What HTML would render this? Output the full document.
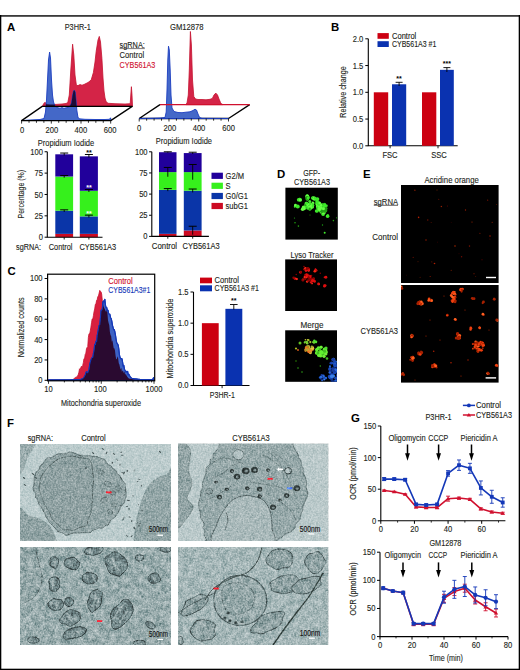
<!DOCTYPE html>
<html><head><meta charset="utf-8"><style>
html,body{margin:0;padding:0;background:#fff;}
svg{display:block;font-family:"Liberation Sans",sans-serif;}
</style></head><body>
<svg width="520" height="670" viewBox="0 0 520 670" font-family="Liberation Sans, sans-serif">
<rect width="520" height="670" fill="#fff"/>
<rect x="0.00" y="15.00" width="520.00" height="1.80" fill="#3a3a3a"/>
<rect x="0.00" y="15.00" width="1.30" height="655.00" fill="#000"/>
<rect x="518.70" y="15.00" width="1.30" height="655.00" fill="#000"/>
<rect x="0.00" y="668.70" width="520.00" height="1.30" fill="#000"/>
<text x="6.9" y="30.58" font-size="11.4" text-anchor="start" fill="#000" font-weight="bold" >A</text>
<text x="331" y="30.58" font-size="11.4" text-anchor="start" fill="#000" font-weight="bold" >B</text>
<text x="7.4" y="274.68" font-size="11.4" text-anchor="start" fill="#000" font-weight="bold" >C</text>
<text x="277" y="177.88" font-size="11.4" text-anchor="start" fill="#000" font-weight="bold" >D</text>
<text x="363" y="177.88" font-size="11.4" text-anchor="start" fill="#000" font-weight="bold" >E</text>
<text x="7" y="427.18" font-size="11.4" text-anchor="start" fill="#000" font-weight="bold" >F</text>
<text x="351" y="421.88" font-size="11.4" text-anchor="start" fill="#000" font-weight="bold" >G</text>
<defs><clipPath id="cpRA"><path d="M42.50,106.20 L43.50,104.00 L45.00,102.20 L46.50,104.30 L50.00,104.60 L56.00,104.40 L62.00,104.00 L66.00,103.50 L67.80,102.50 L69.30,95.00 L70.80,70.00 L72.60,44.20 L73.80,55.00 L75.00,75.00 L76.40,85.30 L78.00,85.60 L80.00,84.60 L82.00,85.20 L84.00,84.50 L86.00,83.50 L88.00,82.50 L90.00,81.00 L91.30,79.60 L93.40,72.50 L95.00,62.00 L96.20,51.30 L98.00,40.00 L99.30,36.40 L100.50,42.00 L101.90,58.30 L103.00,78.00 L104.00,91.00 L105.00,98.00 L106.10,101.60 L108.00,103.30 L115.00,103.70 L125.00,104.00 L130.20,103.70 L130.80,95.00 L131.40,86.70 L132.00,95.00 L132.50,106.20 Z"/></clipPath><clipPath id="cpRG"><path d="M185,104.6 L186,104.6 L300,104.6 L300,0 L185,0Z"/></clipPath></defs>
<path d="M42.50,106.20 L43.50,104.00 L45.00,102.20 L46.50,104.30 L50.00,104.60 L56.00,104.40 L62.00,104.00 L66.00,103.50 L67.80,102.50 L69.30,95.00 L70.80,70.00 L72.60,44.20 L73.80,55.00 L75.00,75.00 L76.40,85.30 L78.00,85.60 L80.00,84.60 L82.00,85.20 L84.00,84.50 L86.00,83.50 L88.00,82.50 L90.00,81.00 L91.30,79.60 L93.40,72.50 L95.00,62.00 L96.20,51.30 L98.00,40.00 L99.30,36.40 L100.50,42.00 L101.90,58.30 L103.00,78.00 L104.00,91.00 L105.00,98.00 L106.10,101.60 L108.00,103.30 L115.00,103.70 L125.00,104.00 L130.20,103.70 L130.80,95.00 L131.40,86.70 L132.00,95.00 L132.50,106.20 Z" fill="#d42447" stroke="#c4122f" stroke-width="0.8" stroke-linejoin="round"/>
<path d="M21.60,120.50 L30.00,120.00 L40.00,119.50 L44.00,118.50 L45.50,112.00 L46.50,100.00 L47.50,80.00 L48.50,60.00 L49.60,52.10 L50.50,58.00 L51.50,80.00 L52.50,95.00 L53.50,102.00 L55.00,106.00 L57.00,107.50 L60.00,108.20 L62.00,107.60 L64.00,108.30 L66.00,107.80 L68.00,107.50 L70.00,106.00 L71.50,103.00 L72.50,96.00 L73.50,91.00 L74.30,90.20 L75.20,92.00 L76.00,100.00 L76.80,110.00 L77.90,117.00 L79.00,118.80 L85.00,119.30 L95.00,119.50 L105.00,119.50 L109.50,119.30 L110.50,117.80 L111.00,119.50 L111.10,120.50 Z" fill="#4468c8" stroke="#1a3cbf" stroke-width="0.9" stroke-linejoin="round"/>
<path d="M21.60,120.50 L30.00,120.00 L40.00,119.50 L44.00,118.50 L45.50,112.00 L46.50,100.00 L47.50,80.00 L48.50,60.00 L49.60,52.10 L50.50,58.00 L51.50,80.00 L52.50,95.00 L53.50,102.00 L55.00,106.00 L57.00,107.50 L60.00,108.20 L62.00,107.60 L64.00,108.30 L66.00,107.80 L68.00,107.50 L70.00,106.00 L71.50,103.00 L72.50,96.00 L73.50,91.00 L74.30,90.20 L75.20,92.00 L76.00,100.00 L76.80,110.00 L77.90,117.00 L79.00,118.80 L85.00,119.30 L95.00,119.50 L105.00,119.50 L109.50,119.30 L110.50,117.80 L111.00,119.50 L111.10,120.50 Z" fill="#1e0c38" clip-path="url(#cpRA)"/>
<path d="M21.6,120.6 L110.7,120.6 L132.2,106.4 L42.2,106.4 Z" fill="none" stroke="#000" stroke-width="1.3" stroke-linejoin="round"/>
<line x1="21.60" y1="120.6" x2="21.60" y2="123.6" stroke="#000" stroke-width="0.8"/>
<line x1="29.03" y1="120.6" x2="29.03" y2="122.8" stroke="#000" stroke-width="0.8"/>
<line x1="36.45" y1="120.6" x2="36.45" y2="122.8" stroke="#000" stroke-width="0.8"/>
<line x1="43.88" y1="120.6" x2="43.88" y2="122.8" stroke="#000" stroke-width="0.8"/>
<line x1="51.30" y1="120.6" x2="51.30" y2="123.6" stroke="#000" stroke-width="0.8"/>
<line x1="58.73" y1="120.6" x2="58.73" y2="122.8" stroke="#000" stroke-width="0.8"/>
<line x1="66.15" y1="120.6" x2="66.15" y2="122.8" stroke="#000" stroke-width="0.8"/>
<line x1="73.57" y1="120.6" x2="73.57" y2="122.8" stroke="#000" stroke-width="0.8"/>
<line x1="81.00" y1="120.6" x2="81.00" y2="123.6" stroke="#000" stroke-width="0.8"/>
<line x1="88.43" y1="120.6" x2="88.43" y2="122.8" stroke="#000" stroke-width="0.8"/>
<line x1="95.85" y1="120.6" x2="95.85" y2="122.8" stroke="#000" stroke-width="0.8"/>
<line x1="103.28" y1="120.6" x2="103.28" y2="122.8" stroke="#000" stroke-width="0.8"/>
<line x1="110.70" y1="120.6" x2="110.70" y2="123.6" stroke="#000" stroke-width="0.8"/>
<text x="22" y="133.09" font-size="8.36" text-anchor="middle" fill="#231f20" textLength="4.23" lengthAdjust="spacingAndGlyphs"  stroke="#231f20" stroke-width="0.12">0</text>
<text x="51.8" y="133.09" font-size="8.36" text-anchor="middle" fill="#231f20" textLength="12.68" lengthAdjust="spacingAndGlyphs"  stroke="#231f20" stroke-width="0.12">200</text>
<text x="80.8" y="133.09" font-size="8.36" text-anchor="middle" fill="#231f20" textLength="12.68" lengthAdjust="spacingAndGlyphs"  stroke="#231f20" stroke-width="0.12">400</text>
<text x="110.2" y="133.09" font-size="8.36" text-anchor="middle" fill="#231f20" textLength="12.68" lengthAdjust="spacingAndGlyphs"  stroke="#231f20" stroke-width="0.12">600</text>
<text x="66" y="146.19" font-size="9.46" text-anchor="middle" fill="#231f20" textLength="56.5" lengthAdjust="spacingAndGlyphs"  stroke="#231f20" stroke-width="0.12">Propidium Iodide</text>
<path d="M185.80,104.60 L187.00,103.00 L188.30,95.00 L189.30,70.00 L190.40,31.50 L191.40,45.00 L192.50,80.00 L193.80,96.50 L195.50,99.00 L198.00,99.50 L202.00,99.50 L206.00,99.80 L210.00,99.30 L212.30,98.50 L214.00,95.00 L215.80,93.10 L217.50,95.00 L219.00,99.00 L220.50,102.50 L221.50,104.00 L223.00,104.60 Z" fill="#d42447" stroke="#c4122f" stroke-width="0.8" stroke-linejoin="round"/>
<path d="M139.2,118.5 L228.5,118.5 L249.7,104.6 M160,104.6 L139.2,118.5" fill="none" stroke="#000" stroke-width="1.3" stroke-linejoin="round"/>
<path d="M139.20,118.50 L150.00,118.30 L160.00,118.00 L165.00,117.50 L166.20,112.00 L167.00,90.00 L167.80,60.00 L168.50,46.20 L169.30,50.00 L170.20,70.00 L171.00,95.00 L172.00,108.00 L174.00,111.50 L178.00,112.50 L182.00,112.70 L186.00,112.20 L190.00,111.80 L193.00,110.50 L195.00,109.20 L196.50,110.00 L198.00,114.00 L199.60,117.50 L202.00,118.30 L228.50,118.50 Z" fill="#4468c8" stroke="#1a3cbf" stroke-width="0.9" stroke-linejoin="round"/>
<line x1="160" y1="104.6" x2="249.7" y2="104.6" stroke="#d0102e" stroke-width="1.3"/>
<line x1="139.20" y1="118.5" x2="139.20" y2="121.5" stroke="#000" stroke-width="0.8"/>
<line x1="146.64" y1="118.5" x2="146.64" y2="120.7" stroke="#000" stroke-width="0.8"/>
<line x1="154.08" y1="118.5" x2="154.08" y2="120.7" stroke="#000" stroke-width="0.8"/>
<line x1="161.52" y1="118.5" x2="161.52" y2="120.7" stroke="#000" stroke-width="0.8"/>
<line x1="168.97" y1="118.5" x2="168.97" y2="121.5" stroke="#000" stroke-width="0.8"/>
<line x1="176.41" y1="118.5" x2="176.41" y2="120.7" stroke="#000" stroke-width="0.8"/>
<line x1="183.85" y1="118.5" x2="183.85" y2="120.7" stroke="#000" stroke-width="0.8"/>
<line x1="191.29" y1="118.5" x2="191.29" y2="120.7" stroke="#000" stroke-width="0.8"/>
<line x1="198.73" y1="118.5" x2="198.73" y2="121.5" stroke="#000" stroke-width="0.8"/>
<line x1="206.18" y1="118.5" x2="206.18" y2="120.7" stroke="#000" stroke-width="0.8"/>
<line x1="213.62" y1="118.5" x2="213.62" y2="120.7" stroke="#000" stroke-width="0.8"/>
<line x1="221.06" y1="118.5" x2="221.06" y2="120.7" stroke="#000" stroke-width="0.8"/>
<line x1="228.50" y1="118.5" x2="228.50" y2="121.5" stroke="#000" stroke-width="0.8"/>
<text x="139.2" y="130.99" font-size="8.36" text-anchor="middle" fill="#231f20" textLength="4.23" lengthAdjust="spacingAndGlyphs"  stroke="#231f20" stroke-width="0.12">0</text>
<text x="169.8" y="130.99" font-size="8.36" text-anchor="middle" fill="#231f20" textLength="12.68" lengthAdjust="spacingAndGlyphs"  stroke="#231f20" stroke-width="0.12">200</text>
<text x="199" y="130.99" font-size="8.36" text-anchor="middle" fill="#231f20" textLength="12.68" lengthAdjust="spacingAndGlyphs"  stroke="#231f20" stroke-width="0.12">400</text>
<text x="228.6" y="130.99" font-size="8.36" text-anchor="middle" fill="#231f20" textLength="12.68" lengthAdjust="spacingAndGlyphs"  stroke="#231f20" stroke-width="0.12">600</text>
<text x="183.9" y="144.09" font-size="9.46" text-anchor="middle" fill="#231f20" textLength="56.2" lengthAdjust="spacingAndGlyphs"  stroke="#231f20" stroke-width="0.12">Propidium Iodide</text>
<text x="64.7" y="29.99" font-size="8.36" text-anchor="start" fill="#231f20" textLength="26.1" lengthAdjust="spacingAndGlyphs"  stroke="#231f20" stroke-width="0.12">P3HR-1</text>
<text x="170" y="29.99" font-size="8.36" text-anchor="start" fill="#231f20" textLength="33.6" lengthAdjust="spacingAndGlyphs"  stroke="#231f20" stroke-width="0.12">GM12878</text>
<text x="119.6" y="48.31" font-size="8.14" text-anchor="start" fill="#231f20" textLength="25.2" lengthAdjust="spacingAndGlyphs"  stroke="#231f20" stroke-width="0.12">sgRNA:</text>
<line x1="119.6" y1="48.6" x2="144.8" y2="48.6" stroke="#231f20" stroke-width="0.6"/>
<text x="119.6" y="57.81" font-size="8.14" text-anchor="start" fill="#231f20" textLength="24.5" lengthAdjust="spacingAndGlyphs"  stroke="#231f20" stroke-width="0.12">Control</text>
<text x="119.6" y="67.61" font-size="8.14" text-anchor="start" fill="#d0102e" textLength="35.6" lengthAdjust="spacingAndGlyphs"  stroke="#d0102e" stroke-width="0.12">CYB561A3</text>
<rect x="55.30" y="233.87" width="17.80" height="3.33" fill="#cc0a22"/>
<rect x="55.30" y="210.71" width="17.80" height="23.16" fill="#0a35a8"/>
<rect x="55.30" y="176.53" width="17.80" height="34.18" fill="#36f01c"/>
<rect x="55.30" y="154.31" width="17.80" height="22.22" fill="#21009b"/>
<rect x="79.80" y="233.87" width="18.10" height="3.33" fill="#cc0a22"/>
<rect x="79.80" y="216.35" width="18.10" height="17.52" fill="#0a35a8"/>
<rect x="79.80" y="190.80" width="18.10" height="25.55" fill="#36f01c"/>
<rect x="79.80" y="156.36" width="18.10" height="34.44" fill="#21009b"/>
<line x1="64.2" y1="155.51349999999996" x2="64.2" y2="153.03175" stroke="#000" stroke-width="0.9"/>
<line x1="60.2" y1="153.03175" x2="68.2" y2="153.03175" stroke="#000" stroke-width="1"/>
<line x1="64.2" y1="177.73049999999998" x2="64.2" y2="175.5051" stroke="#000" stroke-width="0.9"/>
<line x1="60.2" y1="175.5051" x2="68.2" y2="175.5051" stroke="#000" stroke-width="1"/>
<line x1="64.2" y1="211.91049999999998" x2="64.2" y2="209.856" stroke="#000" stroke-width="0.9"/>
<line x1="60.2" y1="209.856" x2="68.2" y2="209.856" stroke="#000" stroke-width="1"/>
<line x1="88.9" y1="157.5643" x2="88.9" y2="154.4844" stroke="#000" stroke-width="0.9"/>
<line x1="84.9" y1="154.4844" x2="92.9" y2="154.4844" stroke="#000" stroke-width="1"/>
<line x1="88.9" y1="192.00064999999998" x2="88.9" y2="189.5189" stroke="#000" stroke-width="0.9"/>
<line x1="84.9" y1="189.5189" x2="92.9" y2="189.5189" stroke="#000" stroke-width="1"/>
<line x1="88.9" y1="217.5502" x2="88.9" y2="215.1539" stroke="#000" stroke-width="0.9"/>
<line x1="84.9" y1="215.1539" x2="92.9" y2="215.1539" stroke="#000" stroke-width="1"/>
<text x="88.9" y="154.91" font-size="7" text-anchor="middle" fill="#000" font-weight="bold" >**</text>
<text x="88.9" y="190.31" font-size="7" text-anchor="middle" fill="#fff" font-weight="bold" >**</text>
<text x="88.9" y="215.91" font-size="7" text-anchor="middle" fill="#fff" font-weight="bold" >**</text>
<path d="M47.3,151.75 L47.3,237.2 L102.5,237.2" fill="none" stroke="#000" stroke-width="1.1"/>
<line x1="44.6" y1="151.75" x2="47.3" y2="151.75" stroke="#000" stroke-width="1"/>
<line x1="44.6" y1="173.11" x2="47.3" y2="173.11" stroke="#000" stroke-width="1"/>
<line x1="44.6" y1="194.47" x2="47.3" y2="194.47" stroke="#000" stroke-width="1"/>
<line x1="44.6" y1="215.84" x2="47.3" y2="215.84" stroke="#000" stroke-width="1"/>
<line x1="44.6" y1="237.20" x2="47.3" y2="237.20" stroke="#000" stroke-width="1"/>
<text x="42.9" y="154.99" font-size="8.36" text-anchor="end" fill="#231f20" textLength="12.68" lengthAdjust="spacingAndGlyphs"  stroke="#231f20" stroke-width="0.12">100</text>
<text x="42.9" y="176.29" font-size="8.36" text-anchor="end" fill="#231f20" textLength="8.45" lengthAdjust="spacingAndGlyphs"  stroke="#231f20" stroke-width="0.12">75</text>
<text x="42.9" y="197.59" font-size="8.36" text-anchor="end" fill="#231f20" textLength="8.45" lengthAdjust="spacingAndGlyphs"  stroke="#231f20" stroke-width="0.12">50</text>
<text x="42.9" y="218.89" font-size="8.36" text-anchor="end" fill="#231f20" textLength="8.45" lengthAdjust="spacingAndGlyphs"  stroke="#231f20" stroke-width="0.12">25</text>
<text x="42.9" y="240.19" font-size="8.36" text-anchor="end" fill="#231f20" textLength="4.23" lengthAdjust="spacingAndGlyphs"  stroke="#231f20" stroke-width="0.12">0</text>
<line x1="64.2" y1="237.2" x2="64.2" y2="239.5" stroke="#000" stroke-width="0.9"/>
<line x1="88.9" y1="237.2" x2="88.9" y2="239.5" stroke="#000" stroke-width="0.9"/>
<text x="0" y="3.31" font-size="9.24" text-anchor="middle" fill="#231f20" textLength="48.6" lengthAdjust="spacingAndGlyphs" transform="translate(20.2,194.2) rotate(-90)"  stroke="#231f20" stroke-width="0.12">Percentage (%)</text>
<text x="16" y="249.59" font-size="8.36" text-anchor="start" fill="#231f20" textLength="25" lengthAdjust="spacingAndGlyphs"  stroke="#231f20" stroke-width="0.12">sgRNA:</text>
<text x="48.8" y="249.59" font-size="8.36" text-anchor="start" fill="#231f20" textLength="23.7" lengthAdjust="spacingAndGlyphs"  stroke="#231f20" stroke-width="0.12">Control</text>
<text x="79.5" y="249.59" font-size="8.36" text-anchor="start" fill="#231f20" textLength="36.7" lengthAdjust="spacingAndGlyphs"  stroke="#231f20" stroke-width="0.12">CYB561A3</text>
<rect x="159.00" y="233.86" width="17.50" height="2.54" fill="#cc0a22"/>
<rect x="159.00" y="189.87" width="17.50" height="43.99" fill="#0a35a8"/>
<rect x="159.00" y="172.10" width="17.50" height="17.77" fill="#36f01c"/>
<rect x="159.00" y="152.22" width="17.50" height="19.88" fill="#21009b"/>
<rect x="183.80" y="230.48" width="17.80" height="5.92" fill="#cc0a22"/>
<rect x="183.80" y="190.72" width="17.80" height="39.76" fill="#0a35a8"/>
<rect x="183.80" y="172.10" width="17.80" height="18.61" fill="#36f01c"/>
<rect x="183.80" y="153.07" width="17.80" height="19.04" fill="#21009b"/>
<line x1="167.8" y1="152.64600000000002" x2="167.8" y2="151.8" stroke="#000" stroke-width="0.9"/>
<line x1="163.8" y1="151.8" x2="171.8" y2="151.8" stroke="#000" stroke-width="1"/>
<line x1="167.8" y1="176.757" x2="167.8" y2="167.45100000000002" stroke="#000" stroke-width="0.9"/>
<line x1="163.8" y1="167.45100000000002" x2="171.8" y2="167.45100000000002" stroke="#000" stroke-width="1"/>
<line x1="167.8" y1="191.139" x2="167.8" y2="188.601" stroke="#000" stroke-width="0.9"/>
<line x1="163.8" y1="188.601" x2="171.8" y2="188.601" stroke="#000" stroke-width="1"/>
<line x1="192.7" y1="153.91500000000002" x2="192.7" y2="152.223" stroke="#000" stroke-width="0.9"/>
<line x1="188.7" y1="152.223" x2="196.7" y2="152.223" stroke="#000" stroke-width="1"/>
<line x1="192.7" y1="179.71800000000002" x2="192.7" y2="164.49" stroke="#000" stroke-width="0.9"/>
<line x1="188.7" y1="164.49" x2="196.7" y2="164.49" stroke="#000" stroke-width="1"/>
<line x1="192.7" y1="192.40800000000002" x2="192.7" y2="189.024" stroke="#000" stroke-width="0.9"/>
<line x1="188.7" y1="189.024" x2="196.7" y2="189.024" stroke="#000" stroke-width="1"/>
<line x1="192.7" y1="234.708" x2="192.7" y2="226.24800000000002" stroke="#000" stroke-width="0.9"/>
<line x1="188.7" y1="226.24800000000002" x2="196.7" y2="226.24800000000002" stroke="#000" stroke-width="1"/>
<path d="M151.8,151.8 L151.8,236.4 L208.9,236.4" fill="none" stroke="#000" stroke-width="1.1"/>
<line x1="149.1" y1="151.80" x2="151.8" y2="151.80" stroke="#000" stroke-width="1"/>
<line x1="149.1" y1="172.95" x2="151.8" y2="172.95" stroke="#000" stroke-width="1"/>
<line x1="149.1" y1="194.10" x2="151.8" y2="194.10" stroke="#000" stroke-width="1"/>
<line x1="149.1" y1="215.25" x2="151.8" y2="215.25" stroke="#000" stroke-width="1"/>
<line x1="149.1" y1="236.40" x2="151.8" y2="236.40" stroke="#000" stroke-width="1"/>
<text x="147.6" y="154.79" font-size="8.36" text-anchor="end" fill="#231f20" textLength="12.68" lengthAdjust="spacingAndGlyphs"  stroke="#231f20" stroke-width="0.12">100</text>
<text x="147.6" y="175.94" font-size="8.36" text-anchor="end" fill="#231f20" textLength="8.45" lengthAdjust="spacingAndGlyphs"  stroke="#231f20" stroke-width="0.12">75</text>
<text x="147.6" y="197.09" font-size="8.36" text-anchor="end" fill="#231f20" textLength="8.45" lengthAdjust="spacingAndGlyphs"  stroke="#231f20" stroke-width="0.12">50</text>
<text x="147.6" y="218.24" font-size="8.36" text-anchor="end" fill="#231f20" textLength="8.45" lengthAdjust="spacingAndGlyphs"  stroke="#231f20" stroke-width="0.12">25</text>
<text x="147.6" y="239.39" font-size="8.36" text-anchor="end" fill="#231f20" textLength="4.23" lengthAdjust="spacingAndGlyphs"  stroke="#231f20" stroke-width="0.12">0</text>
<line x1="167.8" y1="236.4" x2="167.8" y2="238.7" stroke="#000" stroke-width="0.9"/>
<line x1="192.7" y1="236.4" x2="192.7" y2="238.7" stroke="#000" stroke-width="0.9"/>
<text x="151.8" y="248.79" font-size="8.36" text-anchor="start" fill="#231f20" textLength="25.2" lengthAdjust="spacingAndGlyphs"  stroke="#231f20" stroke-width="0.12">Control</text>
<text x="182.5" y="248.79" font-size="8.36" text-anchor="start" fill="#231f20" textLength="37.1" lengthAdjust="spacingAndGlyphs"  stroke="#231f20" stroke-width="0.12">CYB561A3</text>
<rect x="211.50" y="172.70" width="11.40" height="6.20" fill="#21009b"/>
<text x="225.5" y="178.79" font-size="8.36" text-anchor="start" fill="#231f20" textLength="18.58" lengthAdjust="spacingAndGlyphs"  stroke="#231f20" stroke-width="0.12">G2/M</text>
<rect x="211.50" y="182.70" width="11.40" height="6.20" fill="#36f01c"/>
<text x="225.5" y="188.79" font-size="8.36" text-anchor="start" fill="#231f20" textLength="5.07" lengthAdjust="spacingAndGlyphs"  stroke="#231f20" stroke-width="0.12">S</text>
<rect x="211.50" y="192.90" width="11.40" height="6.20" fill="#0a35a8"/>
<text x="225.5" y="198.99" font-size="8.36" text-anchor="start" fill="#231f20" textLength="22.39" lengthAdjust="spacingAndGlyphs"  stroke="#231f20" stroke-width="0.12">G0/G1</text>
<rect x="211.50" y="202.90" width="11.40" height="6.20" fill="#cc0a22"/>
<text x="225.5" y="208.99" font-size="8.36" text-anchor="start" fill="#231f20" textLength="22.39" lengthAdjust="spacingAndGlyphs"  stroke="#231f20" stroke-width="0.12">subG1</text>
<path d="M368.3,38.8 L368.3,145.8 L457.7,145.8" fill="none" stroke="#000" stroke-width="1.1"/>
<line x1="365.3" y1="38.80" x2="368.3" y2="38.80" stroke="#000" stroke-width="1"/>
<text x="363.3" y="41.79" font-size="8.36" text-anchor="end" fill="#231f20" textLength="10.57" lengthAdjust="spacingAndGlyphs"  stroke="#231f20" stroke-width="0.12">2.0</text>
<line x1="365.3" y1="65.55" x2="368.3" y2="65.55" stroke="#000" stroke-width="1"/>
<text x="363.3" y="68.54" font-size="8.36" text-anchor="end" fill="#231f20" textLength="10.57" lengthAdjust="spacingAndGlyphs"  stroke="#231f20" stroke-width="0.12">1.5</text>
<line x1="365.3" y1="92.30" x2="368.3" y2="92.30" stroke="#000" stroke-width="1"/>
<text x="363.3" y="95.29" font-size="8.36" text-anchor="end" fill="#231f20" textLength="10.57" lengthAdjust="spacingAndGlyphs"  stroke="#231f20" stroke-width="0.12">1.0</text>
<line x1="365.3" y1="119.05" x2="368.3" y2="119.05" stroke="#000" stroke-width="1"/>
<text x="363.3" y="122.04" font-size="8.36" text-anchor="end" fill="#231f20" textLength="10.57" lengthAdjust="spacingAndGlyphs"  stroke="#231f20" stroke-width="0.12">0.5</text>
<line x1="365.3" y1="145.80" x2="368.3" y2="145.80" stroke="#000" stroke-width="1"/>
<text x="363.3" y="148.79" font-size="8.36" text-anchor="end" fill="#231f20" textLength="10.57" lengthAdjust="spacingAndGlyphs"  stroke="#231f20" stroke-width="0.12">0.0</text>
<rect x="373.80" y="92.30" width="14.40" height="53.50" fill="#cc0011"/>
<rect x="392.00" y="84.28" width="14.20" height="61.53" fill="#0a32b0"/>
<rect x="422.00" y="92.30" width="14.30" height="53.50" fill="#cc0011"/>
<rect x="440.00" y="69.83" width="13.80" height="75.97" fill="#0a32b0"/>
<line x1="399.1" y1="82.3" x2="399.1" y2="86" stroke="#000" stroke-width="0.9"/>
<line x1="395.6" y1="82.3" x2="402.6" y2="82.3" stroke="#000" stroke-width="0.9"/>
<line x1="446.9" y1="67.6" x2="446.9" y2="72" stroke="#000" stroke-width="0.9"/>
<line x1="443.4" y1="67.6" x2="450.4" y2="67.6" stroke="#000" stroke-width="0.9"/>
<text x="399.1" y="81.41" font-size="7" text-anchor="middle" fill="#000" font-weight="bold" >**</text>
<text x="446.9" y="66.41" font-size="7" text-anchor="middle" fill="#000" font-weight="bold" >***</text>
<line x1="390.1" y1="145.8" x2="390.1" y2="148.3" stroke="#000" stroke-width="0.9"/>
<line x1="438" y1="145.8" x2="438" y2="148.3" stroke="#000" stroke-width="0.9"/>
<text x="390" y="158.39" font-size="8.36" text-anchor="middle" fill="#231f20" textLength="15.2" lengthAdjust="spacingAndGlyphs"  stroke="#231f20" stroke-width="0.12">FSC</text>
<text x="439" y="158.39" font-size="8.36" text-anchor="middle" fill="#231f20" textLength="15.63" lengthAdjust="spacingAndGlyphs"  stroke="#231f20" stroke-width="0.12">SSC</text>
<rect x="377.50" y="33.10" width="11.30" height="5.70" fill="#cc0011"/>
<rect x="377.50" y="41.20" width="11.30" height="5.80" fill="#0a32b0"/>
<text x="392" y="38.71" font-size="8.14" text-anchor="start" fill="#231f20" textLength="24.3" lengthAdjust="spacingAndGlyphs"  stroke="#231f20" stroke-width="0.12">Control</text>
<text x="392" y="46.81" font-size="8.14" text-anchor="start" fill="#231f20" textLength="44.3" lengthAdjust="spacingAndGlyphs"  stroke="#231f20" stroke-width="0.12">CYB561A3 #1</text>
<text x="0" y="3.23" font-size="9.02" text-anchor="middle" fill="#231f20" textLength="51.5" lengthAdjust="spacingAndGlyphs" transform="translate(343,92) rotate(-90)"  stroke="#231f20" stroke-width="0.12">Relative change</text>
<defs><clipPath id="cpRC"><path d="M48.50,380.30 L48.50,379.89 L49.13,379.89 L49.77,379.89 L50.40,379.89 L51.03,379.89 L51.67,379.89 L52.30,379.89 L52.93,379.89 L53.56,379.89 L54.20,379.89 L54.83,379.89 L55.46,379.89 L56.10,379.89 L56.73,379.89 L57.36,379.89 L58.00,379.89 L58.63,379.89 L59.26,379.89 L59.89,379.89 L60.53,379.89 L61.16,379.89 L61.79,379.89 L62.43,379.89 L63.06,379.89 L63.69,379.89 L64.33,379.89 L64.96,379.89 L65.59,379.89 L66.22,379.89 L66.86,379.89 L67.49,379.89 L68.12,379.89 L68.76,379.89 L69.39,379.89 L70.02,379.89 L70.66,379.89 L71.29,379.82 L71.92,379.72 L72.55,379.66 L73.19,379.36 L73.82,378.86 L74.45,378.27 L75.09,377.70 L75.72,377.29 L76.35,377.14 L76.99,376.73 L77.62,375.75 L78.25,374.58 L78.88,372.37 L79.52,368.75 L80.15,369.40 L80.78,367.72 L81.42,366.24 L82.05,367.78 L82.68,365.53 L83.32,362.75 L83.95,358.74 L84.58,358.75 L85.21,354.44 L85.85,353.25 L86.48,348.85 L87.11,347.39 L87.75,346.69 L88.38,337.35 L89.01,333.78 L89.65,333.99 L90.28,330.93 L90.91,327.17 L91.54,322.75 L92.18,318.87 L92.81,319.36 L93.44,315.46 L94.08,311.43 L94.71,309.01 L95.34,304.37 L95.98,303.77 L96.61,300.29 L97.24,299.47 L97.87,296.43 L98.51,295.84 L99.14,293.11 L99.77,290.37 L100.41,291.51 L101.04,291.78 L101.67,294.05 L102.31,300.60 L102.94,303.92 L103.57,306.49 L104.20,308.09 L104.84,309.26 L105.47,311.83 L106.10,309.42 L106.74,311.78 L107.37,311.97 L108.00,320.23 L108.64,322.93 L109.27,325.30 L109.90,331.95 L110.53,335.10 L111.17,336.13 L111.80,341.83 L112.43,340.24 L113.07,344.32 L113.70,348.19 L114.33,348.26 L114.97,350.61 L115.60,356.10 L116.23,359.25 L116.86,359.11 L117.50,356.21 L118.13,358.32 L118.76,363.24 L119.40,364.61 L120.03,367.50 L120.66,369.77 L121.30,367.75 L121.93,372.08 L122.56,370.53 L123.19,371.31 L123.83,373.13 L124.46,371.13 L125.09,375.12 L125.73,373.54 L126.36,375.32 L126.99,376.35 L127.63,377.26 L128.26,378.00 L128.89,378.49 L129.52,378.67 L130.16,378.70 L130.79,378.79 L131.42,378.91 L132.06,379.06 L132.69,379.22 L133.32,379.38 L133.96,379.51 L134.59,379.62 L135.22,379.68 L135.85,379.69 L136.49,379.69 L137.12,379.69 L137.75,379.69 L138.39,379.70 L139.02,379.70 L139.65,379.70 L140.29,379.71 L140.92,379.71 L141.55,379.71 L142.18,379.72 L142.82,379.72 L143.45,379.73 L144.08,379.73 L144.72,379.74 L145.35,379.74 L145.98,379.75 L146.62,379.76 L147.25,379.76 L147.88,379.76 L148.51,379.77 L149.15,379.77 L149.78,379.78 L150.41,379.78 L151.05,379.78 L151.68,379.79 L152.31,379.79 L152.95,379.79 L153.58,379.79 L154.00,380.30 Z"/></clipPath></defs>
<path d="M48.50,380.30 L48.50,379.89 L49.13,379.89 L49.77,379.89 L50.40,379.89 L51.03,379.89 L51.67,379.89 L52.30,379.89 L52.93,379.89 L53.56,379.89 L54.20,379.89 L54.83,379.89 L55.46,379.89 L56.10,379.89 L56.73,379.89 L57.36,379.89 L58.00,379.89 L58.63,379.89 L59.26,379.89 L59.89,379.89 L60.53,379.89 L61.16,379.89 L61.79,379.89 L62.43,379.89 L63.06,379.89 L63.69,379.89 L64.33,379.89 L64.96,379.89 L65.59,379.89 L66.22,379.89 L66.86,379.89 L67.49,379.89 L68.12,379.89 L68.76,379.89 L69.39,379.89 L70.02,379.89 L70.66,379.89 L71.29,379.82 L71.92,379.72 L72.55,379.66 L73.19,379.36 L73.82,378.86 L74.45,378.27 L75.09,377.70 L75.72,377.29 L76.35,377.14 L76.99,376.73 L77.62,375.75 L78.25,374.58 L78.88,372.37 L79.52,368.75 L80.15,369.40 L80.78,367.72 L81.42,366.24 L82.05,367.78 L82.68,365.53 L83.32,362.75 L83.95,358.74 L84.58,358.75 L85.21,354.44 L85.85,353.25 L86.48,348.85 L87.11,347.39 L87.75,346.69 L88.38,337.35 L89.01,333.78 L89.65,333.99 L90.28,330.93 L90.91,327.17 L91.54,322.75 L92.18,318.87 L92.81,319.36 L93.44,315.46 L94.08,311.43 L94.71,309.01 L95.34,304.37 L95.98,303.77 L96.61,300.29 L97.24,299.47 L97.87,296.43 L98.51,295.84 L99.14,293.11 L99.77,290.37 L100.41,291.51 L101.04,291.78 L101.67,294.05 L102.31,300.60 L102.94,303.92 L103.57,306.49 L104.20,308.09 L104.84,309.26 L105.47,311.83 L106.10,309.42 L106.74,311.78 L107.37,311.97 L108.00,320.23 L108.64,322.93 L109.27,325.30 L109.90,331.95 L110.53,335.10 L111.17,336.13 L111.80,341.83 L112.43,340.24 L113.07,344.32 L113.70,348.19 L114.33,348.26 L114.97,350.61 L115.60,356.10 L116.23,359.25 L116.86,359.11 L117.50,356.21 L118.13,358.32 L118.76,363.24 L119.40,364.61 L120.03,367.50 L120.66,369.77 L121.30,367.75 L121.93,372.08 L122.56,370.53 L123.19,371.31 L123.83,373.13 L124.46,371.13 L125.09,375.12 L125.73,373.54 L126.36,375.32 L126.99,376.35 L127.63,377.26 L128.26,378.00 L128.89,378.49 L129.52,378.67 L130.16,378.70 L130.79,378.79 L131.42,378.91 L132.06,379.06 L132.69,379.22 L133.32,379.38 L133.96,379.51 L134.59,379.62 L135.22,379.68 L135.85,379.69 L136.49,379.69 L137.12,379.69 L137.75,379.69 L138.39,379.70 L139.02,379.70 L139.65,379.70 L140.29,379.71 L140.92,379.71 L141.55,379.71 L142.18,379.72 L142.82,379.72 L143.45,379.73 L144.08,379.73 L144.72,379.74 L145.35,379.74 L145.98,379.75 L146.62,379.76 L147.25,379.76 L147.88,379.76 L148.51,379.77 L149.15,379.77 L149.78,379.78 L150.41,379.78 L151.05,379.78 L151.68,379.79 L152.31,379.79 L152.95,379.79 L153.58,379.79 L154.00,380.30 Z" fill="#d8203f" stroke="#c8102e" stroke-width="0.8"/>
<path d="M48.50,380.30 L48.50,379.89 L49.13,379.89 L49.77,379.89 L50.40,379.89 L51.03,379.89 L51.67,379.89 L52.30,379.88 L52.93,379.88 L53.56,379.88 L54.20,379.88 L54.83,379.87 L55.46,379.87 L56.10,379.86 L56.73,379.86 L57.36,379.85 L58.00,379.85 L58.63,379.84 L59.26,379.84 L59.89,379.83 L60.53,379.83 L61.16,379.82 L61.79,379.82 L62.43,379.81 L63.06,379.80 L63.69,379.80 L64.33,379.79 L64.96,379.78 L65.59,379.78 L66.22,379.77 L66.86,379.77 L67.49,379.76 L68.12,379.76 L68.76,379.75 L69.39,379.74 L70.02,379.74 L70.66,379.73 L71.29,379.73 L71.92,379.72 L72.55,379.72 L73.19,379.71 L73.82,379.71 L74.45,379.71 L75.09,379.70 L75.72,379.70 L76.35,379.70 L76.99,379.69 L77.62,379.69 L78.25,379.69 L78.88,379.69 L79.52,379.69 L80.15,379.69 L80.78,379.51 L81.42,379.13 L82.05,378.78 L82.68,378.65 L83.32,378.23 L83.95,377.36 L84.58,376.19 L85.21,374.97 L85.85,372.89 L86.48,371.64 L87.11,372.85 L87.75,372.88 L88.38,371.03 L89.01,369.70 L89.65,364.82 L90.28,362.29 L90.91,359.95 L91.54,358.39 L92.18,357.45 L92.81,357.65 L93.44,353.22 L94.08,350.58 L94.71,344.05 L95.34,345.07 L95.98,341.22 L96.61,341.92 L97.24,335.21 L97.87,332.04 L98.51,328.30 L99.14,325.35 L99.77,324.69 L100.41,318.28 L101.04,310.15 L101.67,310.53 L102.31,308.93 L102.94,301.86 L103.57,300.87 L104.20,301.91 L104.84,299.22 L105.47,305.21 L106.10,307.79 L106.74,307.46 L107.37,310.93 L108.00,310.14 L108.64,313.25 L109.27,314.46 L109.90,314.24 L110.53,317.51 L111.17,318.49 L111.80,321.04 L112.43,325.15 L113.07,327.41 L113.70,329.80 L114.33,329.64 L114.97,332.26 L115.60,335.96 L116.23,340.30 L116.86,343.14 L117.50,343.83 L118.13,344.93 L118.76,348.50 L119.40,354.55 L120.03,357.29 L120.66,358.66 L121.30,358.49 L121.93,358.52 L122.56,361.81 L123.19,366.18 L123.83,365.43 L124.46,369.20 L125.09,370.32 L125.73,371.97 L126.36,371.37 L126.99,372.08 L127.63,371.30 L128.26,374.97 L128.89,374.19 L129.52,375.46 L130.16,376.48 L130.79,377.38 L131.42,378.09 L132.06,378.54 L132.69,378.67 L133.32,378.68 L133.96,378.72 L134.59,378.76 L135.22,378.82 L135.85,378.89 L136.49,378.97 L137.12,379.06 L137.75,379.14 L138.39,379.23 L139.02,379.32 L139.65,379.40 L140.29,379.48 L140.92,379.55 L141.55,379.61 L142.18,379.65 L142.82,379.68 L143.45,379.69 L144.08,379.69 L144.72,379.68 L145.35,379.67 L145.98,379.65 L146.62,379.63 L147.25,379.61 L147.88,379.59 L148.51,379.57 L149.15,379.55 L149.78,379.53 L150.41,379.51 L151.05,379.50 L151.68,379.49 L152.31,379.49 L152.95,378.90 L153.58,377.64 L154.00,380.30 Z" fill="#3d62c4" stroke="#1438b8" stroke-width="1.2" stroke-linejoin="round"/>
<path d="M48.50,380.30 L48.50,379.89 L49.13,379.89 L49.77,379.89 L50.40,379.89 L51.03,379.89 L51.67,379.89 L52.30,379.88 L52.93,379.88 L53.56,379.88 L54.20,379.88 L54.83,379.87 L55.46,379.87 L56.10,379.86 L56.73,379.86 L57.36,379.85 L58.00,379.85 L58.63,379.84 L59.26,379.84 L59.89,379.83 L60.53,379.83 L61.16,379.82 L61.79,379.82 L62.43,379.81 L63.06,379.80 L63.69,379.80 L64.33,379.79 L64.96,379.78 L65.59,379.78 L66.22,379.77 L66.86,379.77 L67.49,379.76 L68.12,379.76 L68.76,379.75 L69.39,379.74 L70.02,379.74 L70.66,379.73 L71.29,379.73 L71.92,379.72 L72.55,379.72 L73.19,379.71 L73.82,379.71 L74.45,379.71 L75.09,379.70 L75.72,379.70 L76.35,379.70 L76.99,379.69 L77.62,379.69 L78.25,379.69 L78.88,379.69 L79.52,379.69 L80.15,379.69 L80.78,379.51 L81.42,379.13 L82.05,378.78 L82.68,378.65 L83.32,378.23 L83.95,377.36 L84.58,376.19 L85.21,374.97 L85.85,372.89 L86.48,371.64 L87.11,372.85 L87.75,372.88 L88.38,371.03 L89.01,369.70 L89.65,364.82 L90.28,362.29 L90.91,359.95 L91.54,358.39 L92.18,357.45 L92.81,357.65 L93.44,353.22 L94.08,350.58 L94.71,344.05 L95.34,345.07 L95.98,341.22 L96.61,341.92 L97.24,335.21 L97.87,332.04 L98.51,328.30 L99.14,325.35 L99.77,324.69 L100.41,318.28 L101.04,310.15 L101.67,310.53 L102.31,308.93 L102.94,301.86 L103.57,300.87 L104.20,301.91 L104.84,299.22 L105.47,305.21 L106.10,307.79 L106.74,307.46 L107.37,310.93 L108.00,310.14 L108.64,313.25 L109.27,314.46 L109.90,314.24 L110.53,317.51 L111.17,318.49 L111.80,321.04 L112.43,325.15 L113.07,327.41 L113.70,329.80 L114.33,329.64 L114.97,332.26 L115.60,335.96 L116.23,340.30 L116.86,343.14 L117.50,343.83 L118.13,344.93 L118.76,348.50 L119.40,354.55 L120.03,357.29 L120.66,358.66 L121.30,358.49 L121.93,358.52 L122.56,361.81 L123.19,366.18 L123.83,365.43 L124.46,369.20 L125.09,370.32 L125.73,371.97 L126.36,371.37 L126.99,372.08 L127.63,371.30 L128.26,374.97 L128.89,374.19 L129.52,375.46 L130.16,376.48 L130.79,377.38 L131.42,378.09 L132.06,378.54 L132.69,378.67 L133.32,378.68 L133.96,378.72 L134.59,378.76 L135.22,378.82 L135.85,378.89 L136.49,378.97 L137.12,379.06 L137.75,379.14 L138.39,379.23 L139.02,379.32 L139.65,379.40 L140.29,379.48 L140.92,379.55 L141.55,379.61 L142.18,379.65 L142.82,379.68 L143.45,379.69 L144.08,379.69 L144.72,379.68 L145.35,379.67 L145.98,379.65 L146.62,379.63 L147.25,379.61 L147.88,379.59 L148.51,379.57 L149.15,379.55 L149.78,379.53 L150.41,379.51 L151.05,379.50 L151.68,379.49 L152.31,379.49 L152.95,378.90 L153.58,377.64 L154.00,380.30 Z" fill="#2a0a30" clip-path="url(#cpRC)"/>
<path d="M48.50,379.89 L49.13,379.89 L49.77,379.89 L50.40,379.89 L51.03,379.89 L51.67,379.89 L52.30,379.88 L52.93,379.88 L53.56,379.88 L54.20,379.88 L54.83,379.87 L55.46,379.87 L56.10,379.86 L56.73,379.86 L57.36,379.85 L58.00,379.85 L58.63,379.84 L59.26,379.84 L59.89,379.83 L60.53,379.83 L61.16,379.82 L61.79,379.82 L62.43,379.81 L63.06,379.80 L63.69,379.80 L64.33,379.79 L64.96,379.78 L65.59,379.78 L66.22,379.77 L66.86,379.77 L67.49,379.76 L68.12,379.76 L68.76,379.75 L69.39,379.74 L70.02,379.74 L70.66,379.73 L71.29,379.73 L71.92,379.72 L72.55,379.72 L73.19,379.71 L73.82,379.71 L74.45,379.71 L75.09,379.70 L75.72,379.70 L76.35,379.70 L76.99,379.69 L77.62,379.69 L78.25,379.69 L78.88,379.69 L79.52,379.69 L80.15,379.69 L80.78,379.51 L81.42,379.13 L82.05,378.78 L82.68,378.65 L83.32,378.23 L83.95,377.36 L84.58,376.19 L85.21,374.97 L85.85,372.89 L86.48,371.64 L87.11,372.85 L87.75,372.88 L88.38,371.03 L89.01,369.70 L89.65,364.82 L90.28,362.29 L90.91,359.95 L91.54,358.39 L92.18,357.45 L92.81,357.65 L93.44,353.22 L94.08,350.58 L94.71,344.05 L95.34,345.07 L95.98,341.22 L96.61,341.92 L97.24,335.21 L97.87,332.04 L98.51,328.30 L99.14,325.35 L99.77,324.69 L100.41,318.28 L101.04,310.15 L101.67,310.53 L102.31,308.93 L102.94,301.86 L103.57,300.87 L104.20,301.91 L104.84,299.22 L105.47,305.21 L106.10,307.79 L106.74,307.46 L107.37,310.93 L108.00,310.14 L108.64,313.25 L109.27,314.46 L109.90,314.24 L110.53,317.51 L111.17,318.49 L111.80,321.04 L112.43,325.15 L113.07,327.41 L113.70,329.80 L114.33,329.64 L114.97,332.26 L115.60,335.96 L116.23,340.30 L116.86,343.14 L117.50,343.83 L118.13,344.93 L118.76,348.50 L119.40,354.55 L120.03,357.29 L120.66,358.66 L121.30,358.49 L121.93,358.52 L122.56,361.81 L123.19,366.18 L123.83,365.43 L124.46,369.20 L125.09,370.32 L125.73,371.97 L126.36,371.37 L126.99,372.08 L127.63,371.30 L128.26,374.97 L128.89,374.19 L129.52,375.46 L130.16,376.48 L130.79,377.38 L131.42,378.09 L132.06,378.54 L132.69,378.67 L133.32,378.68 L133.96,378.72 L134.59,378.76 L135.22,378.82 L135.85,378.89 L136.49,378.97 L137.12,379.06 L137.75,379.14 L138.39,379.23 L139.02,379.32 L139.65,379.40 L140.29,379.48 L140.92,379.55 L141.55,379.61 L142.18,379.65 L142.82,379.68 L143.45,379.69 L144.08,379.69 L144.72,379.68 L145.35,379.67 L145.98,379.65 L146.62,379.63 L147.25,379.61 L147.88,379.59 L148.51,379.57 L149.15,379.55 L149.78,379.53 L150.41,379.51 L151.05,379.50 L151.68,379.49 L152.31,379.49 L152.95,378.90 L153.58,377.64" fill="none" stroke="#1438b8" stroke-width="1.0" stroke-linejoin="round"/>
<rect x="47.6" y="274.2" width="107.1" height="106.6" fill="none" stroke="#000" stroke-width="1.2"/>
<line x1="44.6" y1="380.30" x2="47.6" y2="380.30" stroke="#000" stroke-width="1"/>
<text x="42.6" y="383.29" font-size="8.36" text-anchor="end" fill="#231f20" textLength="4.23" lengthAdjust="spacingAndGlyphs"  stroke="#231f20" stroke-width="0.12">0</text>
<line x1="44.6" y1="359.94" x2="47.6" y2="359.94" stroke="#000" stroke-width="1"/>
<text x="42.6" y="362.93" font-size="8.36" text-anchor="end" fill="#231f20" textLength="8.45" lengthAdjust="spacingAndGlyphs"  stroke="#231f20" stroke-width="0.12">20</text>
<line x1="44.6" y1="339.58" x2="47.6" y2="339.58" stroke="#000" stroke-width="1"/>
<text x="42.6" y="342.57" font-size="8.36" text-anchor="end" fill="#231f20" textLength="8.45" lengthAdjust="spacingAndGlyphs"  stroke="#231f20" stroke-width="0.12">40</text>
<line x1="44.6" y1="319.22" x2="47.6" y2="319.22" stroke="#000" stroke-width="1"/>
<text x="42.6" y="322.21" font-size="8.36" text-anchor="end" fill="#231f20" textLength="8.45" lengthAdjust="spacingAndGlyphs"  stroke="#231f20" stroke-width="0.12">60</text>
<line x1="44.6" y1="298.86" x2="47.6" y2="298.86" stroke="#000" stroke-width="1"/>
<text x="42.6" y="301.85" font-size="8.36" text-anchor="end" fill="#231f20" textLength="8.45" lengthAdjust="spacingAndGlyphs"  stroke="#231f20" stroke-width="0.12">80</text>
<line x1="44.6" y1="278.50" x2="47.6" y2="278.50" stroke="#000" stroke-width="1"/>
<text x="42.6" y="281.49" font-size="8.36" text-anchor="end" fill="#231f20" textLength="12.68" lengthAdjust="spacingAndGlyphs"  stroke="#231f20" stroke-width="0.12">100</text>
<line x1="48.50" y1="380.8" x2="48.50" y2="383.8" stroke="#000" stroke-width="0.8"/>
<line x1="64.38" y1="380.8" x2="64.38" y2="382.40000000000003" stroke="#000" stroke-width="0.8"/>
<line x1="73.67" y1="380.8" x2="73.67" y2="382.40000000000003" stroke="#000" stroke-width="0.8"/>
<line x1="80.26" y1="380.8" x2="80.26" y2="382.40000000000003" stroke="#000" stroke-width="0.8"/>
<line x1="85.37" y1="380.8" x2="85.37" y2="382.40000000000003" stroke="#000" stroke-width="0.8"/>
<line x1="89.55" y1="380.8" x2="89.55" y2="382.40000000000003" stroke="#000" stroke-width="0.8"/>
<line x1="93.08" y1="380.8" x2="93.08" y2="382.40000000000003" stroke="#000" stroke-width="0.8"/>
<line x1="96.14" y1="380.8" x2="96.14" y2="382.40000000000003" stroke="#000" stroke-width="0.8"/>
<line x1="98.84" y1="380.8" x2="98.84" y2="382.40000000000003" stroke="#000" stroke-width="0.8"/>
<line x1="101.25" y1="380.8" x2="101.25" y2="383.8" stroke="#000" stroke-width="0.8"/>
<line x1="117.13" y1="380.8" x2="117.13" y2="382.40000000000003" stroke="#000" stroke-width="0.8"/>
<line x1="126.42" y1="380.8" x2="126.42" y2="382.40000000000003" stroke="#000" stroke-width="0.8"/>
<line x1="133.01" y1="380.8" x2="133.01" y2="382.40000000000003" stroke="#000" stroke-width="0.8"/>
<line x1="138.12" y1="380.8" x2="138.12" y2="382.40000000000003" stroke="#000" stroke-width="0.8"/>
<line x1="142.30" y1="380.8" x2="142.30" y2="382.40000000000003" stroke="#000" stroke-width="0.8"/>
<line x1="145.83" y1="380.8" x2="145.83" y2="382.40000000000003" stroke="#000" stroke-width="0.8"/>
<line x1="148.89" y1="380.8" x2="148.89" y2="382.40000000000003" stroke="#000" stroke-width="0.8"/>
<line x1="151.59" y1="380.8" x2="151.59" y2="382.40000000000003" stroke="#000" stroke-width="0.8"/>
<line x1="154.00" y1="380.8" x2="154.00" y2="383.8" stroke="#000" stroke-width="0.8"/>
<text x="48.5" y="392.29" font-size="8.36" text-anchor="middle" fill="#231f20" textLength="8.45" lengthAdjust="spacingAndGlyphs"  stroke="#231f20" stroke-width="0.12">10</text>
<text x="100.4" y="392.29" font-size="8.36" text-anchor="middle" fill="#231f20" textLength="12.68" lengthAdjust="spacingAndGlyphs"  stroke="#231f20" stroke-width="0.12">100</text>
<text x="154" y="392.29" font-size="8.36" text-anchor="middle" fill="#231f20" textLength="16.91" lengthAdjust="spacingAndGlyphs"  stroke="#231f20" stroke-width="0.12">1000</text>
<text x="101" y="405.93" font-size="9.02" text-anchor="middle" fill="#231f20" textLength="80" lengthAdjust="spacingAndGlyphs"  stroke="#231f20" stroke-width="0.12">Mitochondria superoxide</text>
<text x="0" y="3.23" font-size="9.02" text-anchor="middle" fill="#231f20" textLength="60" lengthAdjust="spacingAndGlyphs" transform="translate(20.6,327.3) rotate(-90)"  stroke="#231f20" stroke-width="0.12">Normalized counts</text>
<text x="108.3" y="283.91" font-size="8.14" text-anchor="start" fill="#d0102e" textLength="24.5" lengthAdjust="spacingAndGlyphs"  stroke="#d0102e" stroke-width="0.12">Control</text>
<text x="108.3" y="293.21" font-size="8.14" text-anchor="start" fill="#1438b8" textLength="42" lengthAdjust="spacingAndGlyphs"  stroke="#1438b8" stroke-width="0.12">CYB561A3#1</text>
<path d="M193.5,292 L193.5,385.5 L249.5,385.5" fill="none" stroke="#000" stroke-width="1.1"/>
<line x1="190.5" y1="292.00" x2="193.5" y2="292.00" stroke="#000" stroke-width="1"/>
<text x="188.5" y="294.99" font-size="8.36" text-anchor="end" fill="#231f20" textLength="10.57" lengthAdjust="spacingAndGlyphs"  stroke="#231f20" stroke-width="0.12">1.5</text>
<line x1="190.5" y1="323.17" x2="193.5" y2="323.17" stroke="#000" stroke-width="1"/>
<text x="188.5" y="326.16" font-size="8.36" text-anchor="end" fill="#231f20" textLength="10.57" lengthAdjust="spacingAndGlyphs"  stroke="#231f20" stroke-width="0.12">1.0</text>
<line x1="190.5" y1="354.33" x2="193.5" y2="354.33" stroke="#000" stroke-width="1"/>
<text x="188.5" y="357.33" font-size="8.36" text-anchor="end" fill="#231f20" textLength="10.57" lengthAdjust="spacingAndGlyphs"  stroke="#231f20" stroke-width="0.12">0.5</text>
<line x1="190.5" y1="385.50" x2="193.5" y2="385.50" stroke="#000" stroke-width="1"/>
<text x="188.5" y="388.49" font-size="8.36" text-anchor="end" fill="#231f20" textLength="10.57" lengthAdjust="spacingAndGlyphs"  stroke="#231f20" stroke-width="0.12">0.0</text>
<rect x="201.90" y="323.17" width="16.80" height="62.33" fill="#cc0011"/>
<rect x="225.40" y="308.83" width="16.90" height="76.67" fill="#0a32b0"/>
<line x1="233.8" y1="304.5" x2="233.8" y2="309.5" stroke="#000" stroke-width="0.9"/>
<line x1="230.0" y1="304.5" x2="237.60000000000002" y2="304.5" stroke="#000" stroke-width="0.9"/>
<text x="233.8" y="303.11" font-size="7" text-anchor="middle" fill="#000" font-weight="bold" >**</text>
<line x1="222.1" y1="385.5" x2="222.1" y2="388.2" stroke="#000" stroke-width="0.9"/>
<text x="222.3" y="397.59" font-size="8.36" text-anchor="middle" fill="#231f20" textLength="25" lengthAdjust="spacingAndGlyphs"  stroke="#231f20" stroke-width="0.12">P3HR-1</text>
<rect x="200.00" y="277.60" width="12.00" height="5.70" fill="#cc0011"/>
<rect x="200.00" y="285.30" width="12.00" height="6.00" fill="#0a32b0"/>
<text x="214.6" y="283.31" font-size="8.14" text-anchor="start" fill="#231f20" textLength="24.3" lengthAdjust="spacingAndGlyphs"  stroke="#231f20" stroke-width="0.12">Control</text>
<text x="214.6" y="291.21" font-size="8.14" text-anchor="start" fill="#231f20" textLength="44.3" lengthAdjust="spacingAndGlyphs"  stroke="#231f20" stroke-width="0.12">CYB561A3 #1</text>
<text x="0" y="3.23" font-size="9.02" text-anchor="middle" fill="#231f20" textLength="80" lengthAdjust="spacingAndGlyphs" transform="translate(169.6,338.6) rotate(-90)"  stroke="#231f20" stroke-width="0.12">Mitochondria superoxide</text>
<path d="M380.8,426 L380.8,520.8 L505.4,520.8" fill="none" stroke="#000" stroke-width="1.1"/>
<line x1="377.8" y1="426.00" x2="380.8" y2="426.00" stroke="#000" stroke-width="1"/>
<text x="376.2" y="428.99" font-size="8.36" text-anchor="end" fill="#231f20" textLength="12.68" lengthAdjust="spacingAndGlyphs"  stroke="#231f20" stroke-width="0.12">150</text>
<line x1="377.8" y1="457.60" x2="380.8" y2="457.60" stroke="#000" stroke-width="1"/>
<text x="376.2" y="460.59" font-size="8.36" text-anchor="end" fill="#231f20" textLength="12.68" lengthAdjust="spacingAndGlyphs"  stroke="#231f20" stroke-width="0.12">100</text>
<line x1="377.8" y1="489.20" x2="380.8" y2="489.20" stroke="#000" stroke-width="1"/>
<text x="376.2" y="492.19" font-size="8.36" text-anchor="end" fill="#231f20" textLength="8.45" lengthAdjust="spacingAndGlyphs"  stroke="#231f20" stroke-width="0.12">50</text>
<line x1="377.8" y1="520.80" x2="380.8" y2="520.80" stroke="#000" stroke-width="1"/>
<text x="376.2" y="523.79" font-size="8.36" text-anchor="end" fill="#231f20" textLength="4.23" lengthAdjust="spacingAndGlyphs"  stroke="#231f20" stroke-width="0.12">0</text>
<line x1="380.80" y1="520.8" x2="380.80" y2="523.8" stroke="#000" stroke-width="1"/>
<text x="380.8" y="532.49" font-size="8.36" text-anchor="middle" fill="#231f20" textLength="4.23" lengthAdjust="spacingAndGlyphs"  stroke="#231f20" stroke-width="0.12">0</text>
<line x1="414.43" y1="520.8" x2="414.43" y2="523.8" stroke="#000" stroke-width="1"/>
<text x="414.43333333333334" y="532.49" font-size="8.36" text-anchor="middle" fill="#231f20" textLength="8.45" lengthAdjust="spacingAndGlyphs"  stroke="#231f20" stroke-width="0.12">20</text>
<line x1="448.07" y1="520.8" x2="448.07" y2="523.8" stroke="#000" stroke-width="1"/>
<text x="448.06666666666666" y="532.49" font-size="8.36" text-anchor="middle" fill="#231f20" textLength="8.45" lengthAdjust="spacingAndGlyphs"  stroke="#231f20" stroke-width="0.12">40</text>
<line x1="481.70" y1="520.8" x2="481.70" y2="523.8" stroke="#000" stroke-width="1"/>
<text x="481.7" y="532.49" font-size="8.36" text-anchor="middle" fill="#231f20" textLength="8.45" lengthAdjust="spacingAndGlyphs"  stroke="#231f20" stroke-width="0.12">60</text>
<line x1="397.62" y1="520.8" x2="397.62" y2="522.5999999999999" stroke="#000" stroke-width="0.8"/>
<line x1="431.25" y1="520.8" x2="431.25" y2="522.5999999999999" stroke="#000" stroke-width="0.8"/>
<line x1="464.88" y1="520.8" x2="464.88" y2="522.5999999999999" stroke="#000" stroke-width="0.8"/>
<line x1="498.52" y1="520.8" x2="498.52" y2="522.5999999999999" stroke="#000" stroke-width="0.8"/>
<line x1="384.16" y1="489.96" x2="384.16" y2="490.96" stroke="#d0102e" stroke-width="0.9"/>
<line x1="382.16" y1="489.96" x2="386.16" y2="489.96" stroke="#d0102e" stroke-width="0.9"/>
<line x1="382.16" y1="490.96" x2="386.16" y2="490.96" stroke="#d0102e" stroke-width="0.9"/>
<line x1="394.25" y1="491.23" x2="394.25" y2="492.23" stroke="#d0102e" stroke-width="0.9"/>
<line x1="392.25" y1="491.23" x2="396.25" y2="491.23" stroke="#d0102e" stroke-width="0.9"/>
<line x1="392.25" y1="492.23" x2="396.25" y2="492.23" stroke="#d0102e" stroke-width="0.9"/>
<line x1="405.18" y1="493.76" x2="405.18" y2="494.76" stroke="#d0102e" stroke-width="0.9"/>
<line x1="403.18" y1="493.76" x2="407.18" y2="493.76" stroke="#d0102e" stroke-width="0.9"/>
<line x1="403.18" y1="494.76" x2="407.18" y2="494.76" stroke="#d0102e" stroke-width="0.9"/>
<line x1="416.12" y1="505.90" x2="416.12" y2="507.90" stroke="#d0102e" stroke-width="0.9"/>
<line x1="414.12" y1="505.90" x2="418.12" y2="505.90" stroke="#d0102e" stroke-width="0.9"/>
<line x1="414.12" y1="507.90" x2="418.12" y2="507.90" stroke="#d0102e" stroke-width="0.9"/>
<line x1="426.20" y1="506.53" x2="426.20" y2="508.53" stroke="#d0102e" stroke-width="0.9"/>
<line x1="424.20" y1="506.53" x2="428.20" y2="506.53" stroke="#d0102e" stroke-width="0.9"/>
<line x1="424.20" y1="508.53" x2="428.20" y2="508.53" stroke="#d0102e" stroke-width="0.9"/>
<line x1="437.14" y1="506.53" x2="437.14" y2="508.53" stroke="#d0102e" stroke-width="0.9"/>
<line x1="435.14" y1="506.53" x2="439.14" y2="506.53" stroke="#d0102e" stroke-width="0.9"/>
<line x1="435.14" y1="508.53" x2="439.14" y2="508.53" stroke="#d0102e" stroke-width="0.9"/>
<line x1="448.07" y1="496.18" x2="448.07" y2="501.18" stroke="#d0102e" stroke-width="0.9"/>
<line x1="446.07" y1="496.18" x2="450.07" y2="496.18" stroke="#d0102e" stroke-width="0.9"/>
<line x1="446.07" y1="501.18" x2="450.07" y2="501.18" stroke="#d0102e" stroke-width="0.9"/>
<line x1="459.00" y1="497.05" x2="459.00" y2="499.05" stroke="#d0102e" stroke-width="0.9"/>
<line x1="457.00" y1="497.05" x2="461.00" y2="497.05" stroke="#d0102e" stroke-width="0.9"/>
<line x1="457.00" y1="499.05" x2="461.00" y2="499.05" stroke="#d0102e" stroke-width="0.9"/>
<line x1="469.93" y1="498.31" x2="469.93" y2="500.31" stroke="#d0102e" stroke-width="0.9"/>
<line x1="467.93" y1="498.31" x2="471.93" y2="498.31" stroke="#d0102e" stroke-width="0.9"/>
<line x1="467.93" y1="500.31" x2="471.93" y2="500.31" stroke="#d0102e" stroke-width="0.9"/>
<line x1="480.86" y1="507.79" x2="480.86" y2="509.79" stroke="#d0102e" stroke-width="0.9"/>
<line x1="478.86" y1="507.79" x2="482.86" y2="507.79" stroke="#d0102e" stroke-width="0.9"/>
<line x1="478.86" y1="509.79" x2="482.86" y2="509.79" stroke="#d0102e" stroke-width="0.9"/>
<line x1="491.79" y1="510.95" x2="491.79" y2="512.95" stroke="#d0102e" stroke-width="0.9"/>
<line x1="489.79" y1="510.95" x2="493.79" y2="510.95" stroke="#d0102e" stroke-width="0.9"/>
<line x1="489.79" y1="512.95" x2="493.79" y2="512.95" stroke="#d0102e" stroke-width="0.9"/>
<line x1="502.72" y1="512.22" x2="502.72" y2="514.22" stroke="#d0102e" stroke-width="0.9"/>
<line x1="500.72" y1="512.22" x2="504.72" y2="512.22" stroke="#d0102e" stroke-width="0.9"/>
<line x1="500.72" y1="514.22" x2="504.72" y2="514.22" stroke="#d0102e" stroke-width="0.9"/>
<path d="M384.16,490.46 L394.25,491.73 L405.18,494.26 L416.12,506.90 L426.20,507.53 L437.14,507.53 L448.07,498.68 L459.00,498.05 L469.93,499.31 L480.86,508.79 L491.79,511.95 L502.72,513.22" fill="none" stroke="#d0102e" stroke-width="1.6" stroke-linejoin="round"/>
<path d="M381.96,492.06 L386.36,492.06 L384.16,488.46Z" fill="#d0102e"/>
<path d="M392.05,493.33 L396.45,493.33 L394.25,489.73Z" fill="#d0102e"/>
<path d="M402.98,495.86 L407.38,495.86 L405.18,492.26Z" fill="#d0102e"/>
<path d="M413.92,508.50 L418.31,508.50 L416.12,504.90Z" fill="#d0102e"/>
<path d="M424.00,509.13 L428.40,509.13 L426.20,505.53Z" fill="#d0102e"/>
<path d="M434.94,509.13 L439.34,509.13 L437.14,505.53Z" fill="#d0102e"/>
<path d="M445.87,500.28 L450.27,500.28 L448.07,496.68Z" fill="#d0102e"/>
<path d="M456.80,499.65 L461.20,499.65 L459.00,496.05Z" fill="#d0102e"/>
<path d="M467.73,500.91 L472.13,500.91 L469.93,497.31Z" fill="#d0102e"/>
<path d="M478.66,510.39 L483.06,510.39 L480.86,506.79Z" fill="#d0102e"/>
<path d="M489.59,513.55 L493.99,513.55 L491.79,509.95Z" fill="#d0102e"/>
<path d="M500.52,514.82 L504.92,514.82 L502.72,511.22Z" fill="#d0102e"/>
<line x1="384.16" y1="477.59" x2="384.16" y2="480.59" stroke="#1438b8" stroke-width="0.9"/>
<line x1="382.16" y1="477.59" x2="386.16" y2="477.59" stroke="#1438b8" stroke-width="0.9"/>
<line x1="382.16" y1="480.59" x2="386.16" y2="480.59" stroke="#1438b8" stroke-width="0.9"/>
<line x1="394.25" y1="477.89" x2="394.25" y2="480.29" stroke="#1438b8" stroke-width="0.9"/>
<line x1="392.25" y1="477.89" x2="396.25" y2="477.89" stroke="#1438b8" stroke-width="0.9"/>
<line x1="392.25" y1="480.29" x2="396.25" y2="480.29" stroke="#1438b8" stroke-width="0.9"/>
<line x1="405.18" y1="478.52" x2="405.18" y2="480.92" stroke="#1438b8" stroke-width="0.9"/>
<line x1="403.18" y1="478.52" x2="407.18" y2="478.52" stroke="#1438b8" stroke-width="0.9"/>
<line x1="403.18" y1="480.92" x2="407.18" y2="480.92" stroke="#1438b8" stroke-width="0.9"/>
<line x1="416.12" y1="503.37" x2="416.12" y2="505.37" stroke="#1438b8" stroke-width="0.9"/>
<line x1="414.12" y1="503.37" x2="418.12" y2="503.37" stroke="#1438b8" stroke-width="0.9"/>
<line x1="414.12" y1="505.37" x2="418.12" y2="505.37" stroke="#1438b8" stroke-width="0.9"/>
<line x1="426.20" y1="504.00" x2="426.20" y2="506.00" stroke="#1438b8" stroke-width="0.9"/>
<line x1="424.20" y1="504.00" x2="428.20" y2="504.00" stroke="#1438b8" stroke-width="0.9"/>
<line x1="424.20" y1="506.00" x2="428.20" y2="506.00" stroke="#1438b8" stroke-width="0.9"/>
<line x1="437.14" y1="503.37" x2="437.14" y2="505.37" stroke="#1438b8" stroke-width="0.9"/>
<line x1="435.14" y1="503.37" x2="439.14" y2="503.37" stroke="#1438b8" stroke-width="0.9"/>
<line x1="435.14" y1="505.37" x2="439.14" y2="505.37" stroke="#1438b8" stroke-width="0.9"/>
<line x1="448.07" y1="470.60" x2="448.07" y2="476.20" stroke="#1438b8" stroke-width="0.9"/>
<line x1="446.07" y1="470.60" x2="450.07" y2="470.60" stroke="#1438b8" stroke-width="0.9"/>
<line x1="446.07" y1="476.20" x2="450.07" y2="476.20" stroke="#1438b8" stroke-width="0.9"/>
<line x1="459.00" y1="459.98" x2="459.00" y2="470.38" stroke="#1438b8" stroke-width="0.9"/>
<line x1="457.00" y1="459.98" x2="461.00" y2="459.98" stroke="#1438b8" stroke-width="0.9"/>
<line x1="457.00" y1="470.38" x2="461.00" y2="470.38" stroke="#1438b8" stroke-width="0.9"/>
<line x1="469.93" y1="463.34" x2="469.93" y2="473.34" stroke="#1438b8" stroke-width="0.9"/>
<line x1="467.93" y1="463.34" x2="471.93" y2="463.34" stroke="#1438b8" stroke-width="0.9"/>
<line x1="467.93" y1="473.34" x2="471.93" y2="473.34" stroke="#1438b8" stroke-width="0.9"/>
<line x1="480.86" y1="480.94" x2="480.86" y2="494.94" stroke="#1438b8" stroke-width="0.9"/>
<line x1="478.86" y1="480.94" x2="482.86" y2="480.94" stroke="#1438b8" stroke-width="0.9"/>
<line x1="478.86" y1="494.94" x2="482.86" y2="494.94" stroke="#1438b8" stroke-width="0.9"/>
<line x1="491.79" y1="490.28" x2="491.79" y2="503.28" stroke="#1438b8" stroke-width="0.9"/>
<line x1="489.79" y1="490.28" x2="493.79" y2="490.28" stroke="#1438b8" stroke-width="0.9"/>
<line x1="489.79" y1="503.28" x2="493.79" y2="503.28" stroke="#1438b8" stroke-width="0.9"/>
<line x1="502.72" y1="497.77" x2="502.72" y2="507.17" stroke="#1438b8" stroke-width="0.9"/>
<line x1="500.72" y1="497.77" x2="504.72" y2="497.77" stroke="#1438b8" stroke-width="0.9"/>
<line x1="500.72" y1="507.17" x2="504.72" y2="507.17" stroke="#1438b8" stroke-width="0.9"/>
<path d="M384.16,479.09 L394.25,479.09 L405.18,479.72 L416.12,504.37 L426.20,505.00 L437.14,504.37 L448.07,473.40 L459.00,465.18 L469.93,468.34 L480.86,487.94 L491.79,496.78 L502.72,502.47" fill="none" stroke="#1438b8" stroke-width="1.6" stroke-linejoin="round"/>
<rect x="382.26" y="477.19" width="3.80" height="3.80" fill="#1438b8"/>
<rect x="392.35" y="477.19" width="3.80" height="3.80" fill="#1438b8"/>
<rect x="403.28" y="477.82" width="3.80" height="3.80" fill="#1438b8"/>
<rect x="414.22" y="502.47" width="3.80" height="3.80" fill="#1438b8"/>
<rect x="424.31" y="503.10" width="3.80" height="3.80" fill="#1438b8"/>
<rect x="435.24" y="502.47" width="3.80" height="3.80" fill="#1438b8"/>
<rect x="446.17" y="471.50" width="3.80" height="3.80" fill="#1438b8"/>
<rect x="457.10" y="463.28" width="3.80" height="3.80" fill="#1438b8"/>
<rect x="468.03" y="466.44" width="3.80" height="3.80" fill="#1438b8"/>
<rect x="478.96" y="486.04" width="3.80" height="3.80" fill="#1438b8"/>
<rect x="489.89" y="494.88" width="3.80" height="3.80" fill="#1438b8"/>
<rect x="500.82" y="500.57" width="3.80" height="3.80" fill="#1438b8"/>
<text x="425.5" y="419.79" font-size="8.36" text-anchor="start" fill="#231f20" textLength="26" lengthAdjust="spacingAndGlyphs"  stroke="#231f20" stroke-width="0.12">P3HR-1</text>
<text x="388.4" y="441.29" font-size="8.36" text-anchor="start" fill="#231f20" textLength="37.3" lengthAdjust="spacingAndGlyphs"  stroke="#231f20" stroke-width="0.12">Oligomycin</text>
<text x="428.3" y="441.29" font-size="8.36" text-anchor="start" fill="#231f20" textLength="20" lengthAdjust="spacingAndGlyphs"  stroke="#231f20" stroke-width="0.12">CCCP</text>
<text x="460.5" y="441.29" font-size="8.36" text-anchor="start" fill="#231f20" textLength="37" lengthAdjust="spacingAndGlyphs"  stroke="#231f20" stroke-width="0.12">Piericidin A</text>
<line x1="407.5" y1="444.5" x2="407.5" y2="455.8" stroke="#000" stroke-width="1.5"/>
<path d="M405.10,453.30 L409.90,453.30 L407.50,460.80Z" fill="#000"/>
<line x1="438.6" y1="444.5" x2="438.6" y2="455.8" stroke="#000" stroke-width="1.5"/>
<path d="M436.20,453.30 L441.00,453.30 L438.60,460.80Z" fill="#000"/>
<line x1="471.5" y1="444.5" x2="471.5" y2="455.8" stroke="#000" stroke-width="1.5"/>
<path d="M469.10,453.30 L473.90,453.30 L471.50,460.80Z" fill="#000"/>
<path d="M380,552.2 L380,636.6 L508,636.6" fill="none" stroke="#000" stroke-width="1.1"/>
<line x1="377" y1="552.20" x2="380" y2="552.20" stroke="#000" stroke-width="1"/>
<text x="375.4" y="555.19" font-size="8.36" text-anchor="end" fill="#231f20" textLength="12.68" lengthAdjust="spacingAndGlyphs"  stroke="#231f20" stroke-width="0.12">150</text>
<line x1="377" y1="580.33" x2="380" y2="580.33" stroke="#000" stroke-width="1"/>
<text x="375.4" y="583.33" font-size="8.36" text-anchor="end" fill="#231f20" textLength="12.68" lengthAdjust="spacingAndGlyphs"  stroke="#231f20" stroke-width="0.12">100</text>
<line x1="377" y1="608.47" x2="380" y2="608.47" stroke="#000" stroke-width="1"/>
<text x="375.4" y="611.46" font-size="8.36" text-anchor="end" fill="#231f20" textLength="8.45" lengthAdjust="spacingAndGlyphs"  stroke="#231f20" stroke-width="0.12">50</text>
<line x1="377" y1="636.60" x2="380" y2="636.60" stroke="#000" stroke-width="1"/>
<text x="375.4" y="639.59" font-size="8.36" text-anchor="end" fill="#231f20" textLength="4.23" lengthAdjust="spacingAndGlyphs"  stroke="#231f20" stroke-width="0.12">0</text>
<line x1="380.00" y1="636.6" x2="380.00" y2="639.6" stroke="#000" stroke-width="1"/>
<text x="380.0" y="648.29" font-size="8.36" text-anchor="middle" fill="#231f20" textLength="4.23" lengthAdjust="spacingAndGlyphs"  stroke="#231f20" stroke-width="0.12">0</text>
<line x1="412.00" y1="636.6" x2="412.00" y2="639.6" stroke="#000" stroke-width="1"/>
<text x="412.0" y="648.29" font-size="8.36" text-anchor="middle" fill="#231f20" textLength="8.45" lengthAdjust="spacingAndGlyphs"  stroke="#231f20" stroke-width="0.12">20</text>
<line x1="444.00" y1="636.6" x2="444.00" y2="639.6" stroke="#000" stroke-width="1"/>
<text x="444.0" y="648.29" font-size="8.36" text-anchor="middle" fill="#231f20" textLength="8.45" lengthAdjust="spacingAndGlyphs"  stroke="#231f20" stroke-width="0.12">40</text>
<line x1="476.00" y1="636.6" x2="476.00" y2="639.6" stroke="#000" stroke-width="1"/>
<text x="476.0" y="648.29" font-size="8.36" text-anchor="middle" fill="#231f20" textLength="8.45" lengthAdjust="spacingAndGlyphs"  stroke="#231f20" stroke-width="0.12">60</text>
<line x1="508.00" y1="636.6" x2="508.00" y2="639.6" stroke="#000" stroke-width="1"/>
<text x="508.0" y="648.29" font-size="8.36" text-anchor="middle" fill="#231f20" textLength="8.45" lengthAdjust="spacingAndGlyphs"  stroke="#231f20" stroke-width="0.12">80</text>
<line x1="396.00" y1="636.6" x2="396.00" y2="638.4" stroke="#000" stroke-width="0.8"/>
<line x1="428.00" y1="636.6" x2="428.00" y2="638.4" stroke="#000" stroke-width="0.8"/>
<line x1="460.00" y1="636.6" x2="460.00" y2="638.4" stroke="#000" stroke-width="0.8"/>
<line x1="492.00" y1="636.6" x2="492.00" y2="638.4" stroke="#000" stroke-width="0.8"/>
<line x1="383.20" y1="587.41" x2="383.20" y2="589.01" stroke="#d0102e" stroke-width="0.9"/>
<line x1="381.20" y1="587.41" x2="385.20" y2="587.41" stroke="#d0102e" stroke-width="0.9"/>
<line x1="381.20" y1="589.01" x2="385.20" y2="589.01" stroke="#d0102e" stroke-width="0.9"/>
<line x1="392.80" y1="590.22" x2="392.80" y2="591.82" stroke="#d0102e" stroke-width="0.9"/>
<line x1="390.80" y1="590.22" x2="394.80" y2="590.22" stroke="#d0102e" stroke-width="0.9"/>
<line x1="390.80" y1="591.82" x2="394.80" y2="591.82" stroke="#d0102e" stroke-width="0.9"/>
<line x1="403.20" y1="591.91" x2="403.20" y2="593.51" stroke="#d0102e" stroke-width="0.9"/>
<line x1="401.20" y1="591.91" x2="405.20" y2="591.91" stroke="#d0102e" stroke-width="0.9"/>
<line x1="401.20" y1="593.51" x2="405.20" y2="593.51" stroke="#d0102e" stroke-width="0.9"/>
<line x1="413.60" y1="622.72" x2="413.60" y2="625.72" stroke="#d0102e" stroke-width="0.9"/>
<line x1="411.60" y1="622.72" x2="415.60" y2="622.72" stroke="#d0102e" stroke-width="0.9"/>
<line x1="411.60" y1="625.72" x2="415.60" y2="625.72" stroke="#d0102e" stroke-width="0.9"/>
<line x1="423.20" y1="622.72" x2="423.20" y2="625.72" stroke="#d0102e" stroke-width="0.9"/>
<line x1="421.20" y1="622.72" x2="425.20" y2="622.72" stroke="#d0102e" stroke-width="0.9"/>
<line x1="421.20" y1="625.72" x2="425.20" y2="625.72" stroke="#d0102e" stroke-width="0.9"/>
<line x1="433.60" y1="622.72" x2="433.60" y2="625.72" stroke="#d0102e" stroke-width="0.9"/>
<line x1="431.60" y1="622.72" x2="435.60" y2="622.72" stroke="#d0102e" stroke-width="0.9"/>
<line x1="431.60" y1="625.72" x2="435.60" y2="625.72" stroke="#d0102e" stroke-width="0.9"/>
<line x1="444.00" y1="594.34" x2="444.00" y2="602.34" stroke="#d0102e" stroke-width="0.9"/>
<line x1="442.00" y1="594.34" x2="446.00" y2="594.34" stroke="#d0102e" stroke-width="0.9"/>
<line x1="442.00" y1="602.34" x2="446.00" y2="602.34" stroke="#d0102e" stroke-width="0.9"/>
<line x1="454.40" y1="587.59" x2="454.40" y2="595.59" stroke="#d0102e" stroke-width="0.9"/>
<line x1="452.40" y1="587.59" x2="456.40" y2="587.59" stroke="#d0102e" stroke-width="0.9"/>
<line x1="452.40" y1="595.59" x2="456.40" y2="595.59" stroke="#d0102e" stroke-width="0.9"/>
<line x1="464.80" y1="584.21" x2="464.80" y2="592.21" stroke="#d0102e" stroke-width="0.9"/>
<line x1="462.80" y1="584.21" x2="466.80" y2="584.21" stroke="#d0102e" stroke-width="0.9"/>
<line x1="462.80" y1="592.21" x2="466.80" y2="592.21" stroke="#d0102e" stroke-width="0.9"/>
<line x1="475.20" y1="596.03" x2="475.20" y2="604.03" stroke="#d0102e" stroke-width="0.9"/>
<line x1="473.20" y1="596.03" x2="477.20" y2="596.03" stroke="#d0102e" stroke-width="0.9"/>
<line x1="473.20" y1="604.03" x2="477.20" y2="604.03" stroke="#d0102e" stroke-width="0.9"/>
<line x1="485.60" y1="602.78" x2="485.60" y2="610.78" stroke="#d0102e" stroke-width="0.9"/>
<line x1="483.60" y1="602.78" x2="487.60" y2="602.78" stroke="#d0102e" stroke-width="0.9"/>
<line x1="483.60" y1="610.78" x2="487.60" y2="610.78" stroke="#d0102e" stroke-width="0.9"/>
<line x1="496.00" y1="608.97" x2="496.00" y2="616.97" stroke="#d0102e" stroke-width="0.9"/>
<line x1="494.00" y1="608.97" x2="498.00" y2="608.97" stroke="#d0102e" stroke-width="0.9"/>
<line x1="494.00" y1="616.97" x2="498.00" y2="616.97" stroke="#d0102e" stroke-width="0.9"/>
<path d="M383.20,588.21 L392.80,591.02 L403.20,592.71 L413.60,624.22 L423.20,624.22 L433.60,624.22 L444.00,598.34 L454.40,591.59 L464.80,588.21 L475.20,600.03 L485.60,606.78 L496.00,612.97" fill="none" stroke="#d0102e" stroke-width="1.6" stroke-linejoin="round"/>
<path d="M381.00,589.81 L385.40,589.81 L383.20,586.21Z" fill="#d0102e"/>
<path d="M390.60,592.62 L395.00,592.62 L392.80,589.02Z" fill="#d0102e"/>
<path d="M401.00,594.31 L405.40,594.31 L403.20,590.71Z" fill="#d0102e"/>
<path d="M411.40,625.82 L415.80,625.82 L413.60,622.22Z" fill="#d0102e"/>
<path d="M421.00,625.82 L425.40,625.82 L423.20,622.22Z" fill="#d0102e"/>
<path d="M431.40,625.82 L435.80,625.82 L433.60,622.22Z" fill="#d0102e"/>
<path d="M441.80,599.94 L446.20,599.94 L444.00,596.34Z" fill="#d0102e"/>
<path d="M452.20,593.19 L456.60,593.19 L454.40,589.59Z" fill="#d0102e"/>
<path d="M462.60,589.81 L467.00,589.81 L464.80,586.21Z" fill="#d0102e"/>
<path d="M473.00,601.63 L477.40,601.63 L475.20,598.03Z" fill="#d0102e"/>
<path d="M483.40,608.38 L487.80,608.38 L485.60,604.78Z" fill="#d0102e"/>
<path d="M493.80,614.57 L498.20,614.57 L496.00,610.97Z" fill="#d0102e"/>
<line x1="383.20" y1="586.71" x2="383.20" y2="589.71" stroke="#1438b8" stroke-width="0.9"/>
<line x1="381.20" y1="586.71" x2="385.20" y2="586.71" stroke="#1438b8" stroke-width="0.9"/>
<line x1="381.20" y1="589.71" x2="385.20" y2="589.71" stroke="#1438b8" stroke-width="0.9"/>
<line x1="392.80" y1="589.82" x2="392.80" y2="592.22" stroke="#1438b8" stroke-width="0.9"/>
<line x1="390.80" y1="589.82" x2="394.80" y2="589.82" stroke="#1438b8" stroke-width="0.9"/>
<line x1="390.80" y1="592.22" x2="394.80" y2="592.22" stroke="#1438b8" stroke-width="0.9"/>
<line x1="403.20" y1="591.21" x2="403.20" y2="594.21" stroke="#1438b8" stroke-width="0.9"/>
<line x1="401.20" y1="591.21" x2="405.20" y2="591.21" stroke="#1438b8" stroke-width="0.9"/>
<line x1="401.20" y1="594.21" x2="405.20" y2="594.21" stroke="#1438b8" stroke-width="0.9"/>
<line x1="413.60" y1="622.46" x2="413.60" y2="624.86" stroke="#1438b8" stroke-width="0.9"/>
<line x1="411.60" y1="622.46" x2="415.60" y2="622.46" stroke="#1438b8" stroke-width="0.9"/>
<line x1="411.60" y1="624.86" x2="415.60" y2="624.86" stroke="#1438b8" stroke-width="0.9"/>
<line x1="423.20" y1="622.46" x2="423.20" y2="624.86" stroke="#1438b8" stroke-width="0.9"/>
<line x1="421.20" y1="622.46" x2="425.20" y2="622.46" stroke="#1438b8" stroke-width="0.9"/>
<line x1="421.20" y1="624.86" x2="425.20" y2="624.86" stroke="#1438b8" stroke-width="0.9"/>
<line x1="433.60" y1="622.46" x2="433.60" y2="624.86" stroke="#1438b8" stroke-width="0.9"/>
<line x1="431.60" y1="622.46" x2="435.60" y2="622.46" stroke="#1438b8" stroke-width="0.9"/>
<line x1="431.60" y1="624.86" x2="435.60" y2="624.86" stroke="#1438b8" stroke-width="0.9"/>
<line x1="444.00" y1="591.21" x2="444.00" y2="603.21" stroke="#1438b8" stroke-width="0.9"/>
<line x1="442.00" y1="591.21" x2="446.00" y2="591.21" stroke="#1438b8" stroke-width="0.9"/>
<line x1="442.00" y1="603.21" x2="446.00" y2="603.21" stroke="#1438b8" stroke-width="0.9"/>
<line x1="454.40" y1="580.34" x2="454.40" y2="598.34" stroke="#1438b8" stroke-width="0.9"/>
<line x1="452.40" y1="580.34" x2="456.40" y2="580.34" stroke="#1438b8" stroke-width="0.9"/>
<line x1="452.40" y1="598.34" x2="456.40" y2="598.34" stroke="#1438b8" stroke-width="0.9"/>
<line x1="464.80" y1="576.52" x2="464.80" y2="596.52" stroke="#1438b8" stroke-width="0.9"/>
<line x1="462.80" y1="576.52" x2="466.80" y2="576.52" stroke="#1438b8" stroke-width="0.9"/>
<line x1="462.80" y1="596.52" x2="466.80" y2="596.52" stroke="#1438b8" stroke-width="0.9"/>
<line x1="475.20" y1="586.96" x2="475.20" y2="602.96" stroke="#1438b8" stroke-width="0.9"/>
<line x1="473.20" y1="586.96" x2="477.20" y2="586.96" stroke="#1438b8" stroke-width="0.9"/>
<line x1="473.20" y1="602.96" x2="477.20" y2="602.96" stroke="#1438b8" stroke-width="0.9"/>
<line x1="485.60" y1="589.78" x2="485.60" y2="605.78" stroke="#1438b8" stroke-width="0.9"/>
<line x1="483.60" y1="589.78" x2="487.60" y2="589.78" stroke="#1438b8" stroke-width="0.9"/>
<line x1="483.60" y1="605.78" x2="487.60" y2="605.78" stroke="#1438b8" stroke-width="0.9"/>
<line x1="496.00" y1="594.71" x2="496.00" y2="608.71" stroke="#1438b8" stroke-width="0.9"/>
<line x1="494.00" y1="594.71" x2="498.00" y2="594.71" stroke="#1438b8" stroke-width="0.9"/>
<line x1="494.00" y1="608.71" x2="498.00" y2="608.71" stroke="#1438b8" stroke-width="0.9"/>
<path d="M383.20,588.21 L392.80,591.02 L403.20,592.71 L413.60,623.66 L423.20,623.66 L433.60,623.66 L444.00,597.21 L454.40,589.34 L464.80,586.52 L475.20,594.96 L485.60,597.78 L496.00,601.71" fill="none" stroke="#1438b8" stroke-width="1.6" stroke-linejoin="round"/>
<circle cx="383.20" cy="588.21" r="2.1" fill="#1438b8"/>
<circle cx="392.80" cy="591.02" r="2.1" fill="#1438b8"/>
<circle cx="403.20" cy="592.71" r="2.1" fill="#1438b8"/>
<circle cx="413.60" cy="623.66" r="2.1" fill="#1438b8"/>
<circle cx="423.20" cy="623.66" r="2.1" fill="#1438b8"/>
<circle cx="433.60" cy="623.66" r="2.1" fill="#1438b8"/>
<circle cx="444.00" cy="597.21" r="2.1" fill="#1438b8"/>
<circle cx="454.40" cy="589.34" r="2.1" fill="#1438b8"/>
<circle cx="464.80" cy="586.52" r="2.1" fill="#1438b8"/>
<circle cx="475.20" cy="594.96" r="2.1" fill="#1438b8"/>
<circle cx="485.60" cy="597.78" r="2.1" fill="#1438b8"/>
<circle cx="496.00" cy="601.71" r="2.1" fill="#1438b8"/>
<text x="429.4" y="545.61" font-size="9.24" text-anchor="start" fill="#231f20" textLength="32" lengthAdjust="spacingAndGlyphs"  stroke="#231f20" stroke-width="0.12">GM12878</text>
<text x="384.6" y="557.99" font-size="8.36" text-anchor="start" fill="#231f20" textLength="36.4" lengthAdjust="spacingAndGlyphs"  stroke="#231f20" stroke-width="0.12">Oligomycin</text>
<text x="428.5" y="557.99" font-size="8.36" text-anchor="start" fill="#231f20" textLength="18.5" lengthAdjust="spacingAndGlyphs"  stroke="#231f20" stroke-width="0.12">CCCP</text>
<text x="460.5" y="557.99" font-size="8.36" text-anchor="start" fill="#231f20" textLength="37" lengthAdjust="spacingAndGlyphs"  stroke="#231f20" stroke-width="0.12">Piericidin A</text>
<line x1="403" y1="562.4" x2="403" y2="572.5" stroke="#000" stroke-width="1.5"/>
<path d="M400.60,570.00 L405.40,570.00 L403.00,577.50Z" fill="#000"/>
<line x1="438.5" y1="562.4" x2="438.5" y2="572.5" stroke="#000" stroke-width="1.5"/>
<path d="M436.10,570.00 L440.90,570.00 L438.50,577.50Z" fill="#000"/>
<line x1="471.8" y1="562.4" x2="471.8" y2="572.5" stroke="#000" stroke-width="1.5"/>
<path d="M469.40,570.00 L474.20,570.00 L471.80,577.50Z" fill="#000"/>
<text x="446" y="660.63" font-size="9.02" text-anchor="middle" fill="#231f20" textLength="34" lengthAdjust="spacingAndGlyphs"  stroke="#231f20" stroke-width="0.12">Time (min)</text>
<text x="0" y="3.23" font-size="9.02" text-anchor="middle" fill="#231f20" textLength="52.3" lengthAdjust="spacingAndGlyphs" transform="translate(353.2,473.5) rotate(-90)"  stroke="#231f20" stroke-width="0.12">OCR (pmol/min)</text>
<text x="0" y="3.23" font-size="9.02" text-anchor="middle" fill="#231f20" textLength="53" lengthAdjust="spacingAndGlyphs" transform="translate(353.2,588.9) rotate(-90)"  stroke="#231f20" stroke-width="0.12">OCR (pmol/min)</text>
<line x1="462.9" y1="405.4" x2="475" y2="405.4" stroke="#1438b8" stroke-width="1.5"/>
<circle cx="468.9" cy="405.4" r="1.9" fill="#1438b8"/>
<line x1="462.9" y1="415" x2="475" y2="415" stroke="#d0102e" stroke-width="1.5"/>
<path d="M466.7,416.5 L471.1,416.5 L468.9,413Z" fill="#d0102e"/>
<text x="476" y="408.31" font-size="8.14" text-anchor="start" fill="#231f20" textLength="25" lengthAdjust="spacingAndGlyphs"  stroke="#231f20" stroke-width="0.12">Control</text>
<text x="476" y="417.91" font-size="8.14" text-anchor="start" fill="#231f20" textLength="36" lengthAdjust="spacingAndGlyphs"  stroke="#231f20" stroke-width="0.12">CYB561A3</text>
<defs>
<filter id="fb1" x="-50%" y="-50%" width="200%" height="200%"><feGaussianBlur stdDeviation="0.7"/></filter>
<filter id="fb2" x="-50%" y="-50%" width="200%" height="200%"><feGaussianBlur stdDeviation="1.3"/></filter>
<filter id="fb3" x="-50%" y="-50%" width="200%" height="200%"><feGaussianBlur stdDeviation="2.2"/></filter>
<clipPath id="cD1"><rect x="285.4" y="187.7" width="52.4" height="51.9"/></clipPath>
<clipPath id="cD2"><rect x="285.2" y="259.4" width="51.8" height="51.6"/></clipPath>
<clipPath id="cD3"><rect x="285.2" y="330.3" width="51.8" height="51.5"/></clipPath>
<clipPath id="cE1"><rect x="401" y="185" width="97.6" height="98"/></clipPath>
<clipPath id="cE2"><rect x="401" y="285" width="97.6" height="97.6"/></clipPath>
</defs>
<rect x="285.40" y="187.70" width="52.40" height="51.90" fill="#000"/>
<g clip-path="url(#cD1)"><g filter="url(#fb1)">
<circle cx="323.88" cy="210.14" r="1.71" fill="#3ee82a"/>
<circle cx="317.87" cy="206.49" r="1.92" fill="#66ff44"/>
<circle cx="320.34" cy="205.4" r="1.44" fill="#66ff44"/>
<circle cx="319.16" cy="210.05" r="1.85" fill="#3ee82a"/>
<circle cx="320.53" cy="206.52" r="1.65" fill="#66ff44"/>
<circle cx="317.33" cy="211.15" r="1.49" fill="#22a014"/>
<circle cx="321.04" cy="204.87" r="1.48" fill="#3ee82a"/>
<circle cx="323.69" cy="207.13" r="1.82" fill="#22a014"/>
<circle cx="317.79" cy="207.99" r="1.65" fill="#3ee82a"/>
<circle cx="322.07" cy="207.66" r="1.54" fill="#3ee82a"/>
<circle cx="320.68" cy="208.73" r="1.98" fill="#3ee82a"/>
<circle cx="322.65" cy="204.65" r="1.47" fill="#3ee82a"/>
<circle cx="320.99" cy="211.78" r="1.2" fill="#3ee82a"/>
<circle cx="324.77" cy="207.25" r="1.36" fill="#3ee82a"/>
<circle cx="320.79" cy="206.64" r="1.52" fill="#22a014"/>
<circle cx="323.08" cy="211.24" r="1.71" fill="#22a014"/>
<circle cx="325.15" cy="209.91" r="1.12" fill="#3ee82a"/>
<circle cx="322.02" cy="209.16" r="1.26" fill="#3ee82a"/>
<circle cx="321.07" cy="211.94" r="1.52" fill="#66ff44"/>
<circle cx="322.78" cy="214.29" r="1.23" fill="#22a014"/>
<circle cx="323.13" cy="214.02" r="1.87" fill="#3ee82a"/>
<circle cx="320.84" cy="204.62" r="1.03" fill="#3ee82a"/>
<circle cx="320.62" cy="208.72" r="1.14" fill="#3ee82a"/>
<circle cx="316.51" cy="211.07" r="1.71" fill="#3ee82a"/>
<circle cx="324.29" cy="209.98" r="1.46" fill="#3ee82a"/>
<circle cx="324.78" cy="212.83" r="1.1" fill="#66ff44"/>
<circle cx="325.63" cy="210.78" r="1.74" fill="#22a014"/>
<circle cx="323.1" cy="213.29" r="1.1" fill="#66ff44"/>
<circle cx="323.27" cy="209.91" r="1.22" fill="#3ee82a"/>
<circle cx="320.96" cy="207.44" r="1.09" fill="#3ee82a"/>
<circle cx="321.1" cy="205.22" r="1.41" fill="#66ff44"/>
<circle cx="319.02" cy="206.72" r="1.04" fill="#66ff44"/>
<circle cx="325.85" cy="208.4" r="1.7" fill="#22a014"/>
<circle cx="321.67" cy="211.31" r="1.71" fill="#22a014"/>
<circle cx="322.58" cy="211.09" r="1.38" fill="#22a014"/>
<circle cx="323.47" cy="208.68" r="1.49" fill="#66ff44"/>
<circle cx="324.49" cy="211.4" r="1.43" fill="#22a014"/>
<circle cx="319.44" cy="209.16" r="1.81" fill="#66ff44"/>
<circle cx="319.26" cy="209.04" r="1.54" fill="#66ff44"/>
<circle cx="320.92" cy="207.65" r="1.37" fill="#66ff44"/>
<circle cx="311.84" cy="205.93" r="1.0" fill="#3ee82a"/>
<circle cx="307.77" cy="207.97" r="1.68" fill="#3ee82a"/>
<circle cx="305.51" cy="206.13" r="1.61" fill="#3ee82a"/>
<circle cx="313.46" cy="203.17" r="1.06" fill="#3ee82a"/>
<circle cx="310.32" cy="208.26" r="1.19" fill="#3ee82a"/>
<circle cx="312.12" cy="206.87" r="1.94" fill="#66ff44"/>
<circle cx="309.1" cy="204.4" r="1.58" fill="#22a014"/>
<circle cx="309.75" cy="201.61" r="1.5" fill="#3ee82a"/>
<circle cx="305.59" cy="205.32" r="1.31" fill="#3ee82a"/>
<circle cx="312.81" cy="202.66" r="1.19" fill="#66ff44"/>
<circle cx="308.65" cy="205.29" r="1.88" fill="#3ee82a"/>
<circle cx="312.38" cy="205.22" r="1.84" fill="#3ee82a"/>
<circle cx="307.24" cy="204.93" r="1.59" fill="#3ee82a"/>
<circle cx="311.32" cy="206.29" r="1.93" fill="#3ee82a"/>
<circle cx="306.13" cy="203.16" r="1.49" fill="#3ee82a"/>
<circle cx="306.56" cy="203.76" r="1.01" fill="#3ee82a"/>
<circle cx="305.21" cy="204.78" r="1.18" fill="#22a014"/>
<circle cx="310.33" cy="204.78" r="1.73" fill="#66ff44"/>
<circle cx="308.72" cy="205.21" r="1.74" fill="#66ff44"/>
<circle cx="306.72" cy="203.53" r="1.35" fill="#66ff44"/>
<circle cx="311.04" cy="204.07" r="1.06" fill="#66ff44"/>
<circle cx="310.12" cy="203.78" r="1.34" fill="#3ee82a"/>
<circle cx="308.91" cy="205.23" r="1.0" fill="#3ee82a"/>
<circle cx="310.39" cy="207.74" r="1.98" fill="#66ff44"/>
<circle cx="308.07" cy="204.08" r="1.19" fill="#66ff44"/>
<circle cx="309.84" cy="208.97" r="1.67" fill="#3ee82a"/>
<circle cx="309.8" cy="208.91" r="1.04" fill="#22a014"/>
<circle cx="306.84" cy="203.23" r="1.39" fill="#3ee82a"/>
<circle cx="307.41" cy="196.16" r="1.41" fill="#3ee82a"/>
<circle cx="307.83" cy="198.67" r="1.06" fill="#66ff44"/>
<circle cx="307.54" cy="197.32" r="1.53" fill="#3ee82a"/>
<circle cx="307.39" cy="199.02" r="1.75" fill="#3ee82a"/>
<circle cx="308.36" cy="196.84" r="1.13" fill="#66ff44"/>
<circle cx="307.12" cy="195.96" r="1.66" fill="#3ee82a"/>
<circle cx="307.24" cy="196.4" r="1.87" fill="#66ff44"/>
<circle cx="307.12" cy="197.98" r="1.9" fill="#22a014"/>
<circle cx="308.69" cy="197.82" r="1.18" fill="#3ee82a"/>
<circle cx="307.96" cy="198.05" r="1.22" fill="#3ee82a"/>
<circle cx="316.81" cy="199.69" r="1.6" fill="#3ee82a"/>
<circle cx="317.35" cy="199.12" r="1.98" fill="#3ee82a"/>
<circle cx="313.11" cy="197.81" r="1.78" fill="#3ee82a"/>
<circle cx="313.4" cy="197.58" r="1.13" fill="#22a014"/>
<circle cx="312.37" cy="198.17" r="1.35" fill="#3ee82a"/>
<circle cx="313.32" cy="198.18" r="1.49" fill="#22a014"/>
<circle cx="314.59" cy="199.26" r="1.6" fill="#3ee82a"/>
<circle cx="314.11" cy="198.41" r="1.91" fill="#66ff44"/>
<circle cx="315.13" cy="198.17" r="1.51" fill="#3ee82a"/>
<circle cx="317.53" cy="203.85" r="1.58" fill="#3ee82a"/>
<circle cx="316.42" cy="204.48" r="1.11" fill="#3ee82a"/>
<circle cx="317.4" cy="204.64" r="1.44" fill="#66ff44"/>
<circle cx="317.09" cy="201.74" r="1.86" fill="#3ee82a"/>
<circle cx="318.89" cy="203.15" r="1.86" fill="#3ee82a"/>
<circle cx="318.53" cy="204.47" r="1.38" fill="#3ee82a"/>
<circle cx="319.67" cy="203.05" r="1.27" fill="#66ff44"/>
<circle cx="316.31" cy="203.27" r="1.04" fill="#3ee82a"/>
<circle cx="324.33" cy="205.51" r="1.54" fill="#66ff44"/>
<circle cx="324.27" cy="205.25" r="1.97" fill="#3ee82a"/>
<circle cx="326.55" cy="205.75" r="1.23" fill="#3ee82a"/>
<circle cx="324.39" cy="204.36" r="1.73" fill="#22a014"/>
<circle cx="324.65" cy="204.95" r="1.76" fill="#3ee82a"/>
<circle cx="327.66" cy="216.24" r="1.74" fill="#3ee82a"/>
<circle cx="327.94" cy="215.48" r="1.18" fill="#3ee82a"/>
<circle cx="327.38" cy="215.98" r="1.51" fill="#3ee82a"/>
<circle cx="298.69" cy="199.77" r="1.85" fill="#3ee82a"/>
<circle cx="299.99" cy="199.64" r="1.95" fill="#3ee82a"/>
<circle cx="299.5" cy="198.93" r="1.06" fill="#3ee82a"/>
<circle cx="300.28" cy="199.99" r="1.57" fill="#66ff44"/>
<circle cx="294.84" cy="206.67" r="1.06" fill="#3ee82a"/>
<circle cx="295.48" cy="205.17" r="1.46" fill="#66ff44"/>
<circle cx="297.69" cy="206.56" r="1.97" fill="#3ee82a"/>
<circle cx="298.35" cy="206.96" r="1.08" fill="#3ee82a"/>
<circle cx="302.57" cy="209.32" r="1.73" fill="#66ff44"/>
<circle cx="304.63" cy="207.99" r="1.66" fill="#3ee82a"/>
<circle cx="304.04" cy="208.64" r="1.54" fill="#66ff44"/>
<circle cx="303.36" cy="207.13" r="1.54" fill="#66ff44"/>
<circle cx="295" cy="222.8" r="0.8" fill="#22a014"/>
<circle cx="298.4" cy="226.1" r="0.8" fill="#22a014"/>
<circle cx="324.7" cy="232.7" r="1.0" fill="#3ee82a"/>
<circle cx="333.4" cy="220.6" r="0.8" fill="#22a014"/>
<circle cx="322.5" cy="225" r="0.7" fill="#22a014"/>
<circle cx="336.5" cy="217.8" r="0.6" fill="#22a014"/>
<circle cx="294.5" cy="218" r="0.6" fill="#22a014"/>
<circle cx="310" cy="215" r="0.5" fill="#22a014"/>
</g></g>
<rect x="285.20" y="259.40" width="51.80" height="51.60" fill="#000"/>
<g clip-path="url(#cD2)"><g filter="url(#fb1)">
<circle cx="306.38" cy="276.65" r="0.8" fill="#e01010"/>
<circle cx="304.66" cy="277.31" r="1.2" fill="#900000"/>
<circle cx="309.51" cy="280.22" r="1.06" fill="#900000"/>
<circle cx="305.81" cy="275.26" r="1.43" fill="#ff2818"/>
<circle cx="305.47" cy="277.95" r="1.34" fill="#900000"/>
<circle cx="307.16" cy="281.6" r="1.19" fill="#ff2818"/>
<circle cx="307.85" cy="280.34" r="0.85" fill="#900000"/>
<circle cx="305.77" cy="275.47" r="1.06" fill="#900000"/>
<circle cx="306.86" cy="277.12" r="0.83" fill="#e01010"/>
<circle cx="305.39" cy="279.08" r="0.99" fill="#900000"/>
<circle cx="306.74" cy="274.6" r="1.27" fill="#e01010"/>
<circle cx="308.38" cy="280.55" r="1.37" fill="#900000"/>
<circle cx="308.75" cy="275.78" r="1.1" fill="#e01010"/>
<circle cx="308.26" cy="274.75" r="1.08" fill="#900000"/>
<circle cx="308.46" cy="277.43" r="1.27" fill="#900000"/>
<circle cx="306.59" cy="276.85" r="1.06" fill="#ff2818"/>
<circle cx="305.19" cy="275.78" r="1.37" fill="#900000"/>
<circle cx="311.26" cy="275.85" r="1.05" fill="#900000"/>
<circle cx="310.49" cy="277.91" r="1.2" fill="#e01010"/>
<circle cx="307.02" cy="275.53" r="1.42" fill="#e01010"/>
<circle cx="310.23" cy="278.26" r="0.94" fill="#e01010"/>
<circle cx="309.34" cy="278.04" r="0.91" fill="#900000"/>
<circle cx="310.27" cy="276.24" r="1.12" fill="#e01010"/>
<circle cx="304.77" cy="277.12" r="1.08" fill="#ff2818"/>
<circle cx="310.8" cy="282.33" r="1.15" fill="#e01010"/>
<circle cx="311.19" cy="279.01" r="1.23" fill="#900000"/>
<circle cx="313.81" cy="280.78" r="1.47" fill="#900000"/>
<circle cx="313.56" cy="278.7" r="1.3" fill="#e01010"/>
<circle cx="314.59" cy="281.44" r="1.32" fill="#e01010"/>
<circle cx="313.53" cy="278.95" r="1.48" fill="#900000"/>
<circle cx="310.98" cy="279.52" r="1.45" fill="#900000"/>
<circle cx="312.64" cy="280.67" r="1.46" fill="#e01010"/>
<circle cx="312.08" cy="283.4" r="0.91" fill="#ff2818"/>
<circle cx="312.28" cy="280.78" r="1.37" fill="#e01010"/>
<circle cx="308.75" cy="269.05" r="1.19" fill="#e01010"/>
<circle cx="309.11" cy="268.76" r="1.06" fill="#900000"/>
<circle cx="303.96" cy="269.27" r="1.04" fill="#900000"/>
<circle cx="305.41" cy="268.3" r="1.25" fill="#ff2818"/>
<circle cx="308.66" cy="270.44" r="1.28" fill="#ff2818"/>
<circle cx="308.21" cy="269.74" r="1.33" fill="#e01010"/>
<circle cx="305.97" cy="270.6" r="1.38" fill="#e01010"/>
<circle cx="306.76" cy="268.44" r="0.9" fill="#900000"/>
<circle cx="306.7" cy="268.59" r="1.0" fill="#900000"/>
<circle cx="307.83" cy="268.32" r="1.34" fill="#900000"/>
<circle cx="316.54" cy="270.45" r="0.94" fill="#ff2818"/>
<circle cx="315.66" cy="269.98" r="1.16" fill="#e01010"/>
<circle cx="315.48" cy="270.95" r="1.21" fill="#900000"/>
<circle cx="314.75" cy="271.16" r="1.28" fill="#ff2818"/>
<circle cx="315.45" cy="269.22" r="0.9" fill="#e01010"/>
<circle cx="300.44" cy="272.29" r="1.4" fill="#e01010"/>
<circle cx="300.84" cy="272.1" r="1.3" fill="#900000"/>
<circle cx="294.81" cy="278.49" r="1.24" fill="#e01010"/>
<circle cx="293.66" cy="277.7" r="1.32" fill="#900000"/>
<circle cx="296.18" cy="278.65" r="0.93" fill="#ff2818"/>
<circle cx="296.87" cy="279.06" r="1.07" fill="#ff2818"/>
<circle cx="303.02" cy="279.87" r="1.28" fill="#ff2818"/>
<circle cx="302.88" cy="280.25" r="1.28" fill="#900000"/>
<circle cx="318.98" cy="284.21" r="1.05" fill="#ff2818"/>
<circle cx="318.53" cy="283.96" r="1.4" fill="#e01010"/>
<circle cx="324.13" cy="285.01" r="0.94" fill="#900000"/>
<circle cx="324.44" cy="286.14" r="1.34" fill="#e01010"/>
<circle cx="325.28" cy="285.49" r="1.25" fill="#e01010"/>
<circle cx="324.59" cy="277.36" r="0.98" fill="#e01010"/>
<circle cx="325.89" cy="277.17" r="1.46" fill="#e01010"/>
<circle cx="296.2" cy="274.5" r="0.7" fill="#900000"/>
<circle cx="320.3" cy="273.2" r="0.7" fill="#900000"/>
<circle cx="304" cy="266.5" r="0.8" fill="#900000"/>
</g></g>
<rect x="285.20" y="330.30" width="51.80" height="51.50" fill="#000"/>
<g clip-path="url(#cD3)"><g filter="url(#fb1)">
<circle cx="330.73" cy="371.11" r="1.71" fill="#102c80"/>
<circle cx="334.85" cy="363.77" r="1.85" fill="#2a68d8"/>
<circle cx="332.28" cy="381.83" r="1.28" fill="#1a48b8"/>
<circle cx="337.85" cy="367.58" r="0.88" fill="#3a80e8"/>
<circle cx="332.39" cy="363.19" r="0.81" fill="#163aa0"/>
<circle cx="338.7" cy="368.88" r="1.13" fill="#1a48b8"/>
<circle cx="335.98" cy="378.26" r="1.05" fill="#102c80"/>
<circle cx="330.04" cy="377.71" r="1.19" fill="#3a80e8"/>
<circle cx="337.13" cy="371.84" r="0.97" fill="#3a80e8"/>
<circle cx="334.98" cy="361.86" r="1.63" fill="#2a68d8"/>
<circle cx="331.62" cy="380.79" r="1.13" fill="#102c80"/>
<circle cx="336.6" cy="365.5" r="1.68" fill="#102c80"/>
<circle cx="331.05" cy="378.14" r="1.61" fill="#1a48b8"/>
<circle cx="332.63" cy="368.82" r="1.53" fill="#163aa0"/>
<circle cx="336.1" cy="370.32" r="1.43" fill="#102c80"/>
<circle cx="333.6" cy="373.5" r="1.44" fill="#102c80"/>
<circle cx="329.94" cy="366.26" r="1.09" fill="#2a68d8"/>
<circle cx="330.39" cy="363.33" r="1.0" fill="#1a48b8"/>
<circle cx="337.98" cy="374.59" r="1.67" fill="#163aa0"/>
<circle cx="331.64" cy="363.05" r="1.55" fill="#1a48b8"/>
<circle cx="333.13" cy="370.87" r="0.83" fill="#3a80e8"/>
<circle cx="329.53" cy="369.38" r="1.33" fill="#1a48b8"/>
<circle cx="332.41" cy="378.85" r="1.16" fill="#163aa0"/>
<circle cx="335.13" cy="370.86" r="1.69" fill="#2a68d8"/>
<circle cx="334.04" cy="369.07" r="1.8" fill="#163aa0"/>
<circle cx="334.94" cy="372.12" r="1.85" fill="#163aa0"/>
<circle cx="336.89" cy="361.51" r="0.87" fill="#2a68d8"/>
<circle cx="335.01" cy="365.36" r="1.86" fill="#1a48b8"/>
<circle cx="334.36" cy="381.03" r="0.97" fill="#163aa0"/>
<circle cx="333.13" cy="381.6" r="1.0" fill="#163aa0"/>
<circle cx="331.23" cy="373.94" r="1.66" fill="#102c80"/>
<circle cx="335.72" cy="381.5" r="1.53" fill="#1a48b8"/>
<circle cx="336.81" cy="375.38" r="0.94" fill="#163aa0"/>
<circle cx="337.71" cy="377.04" r="1.07" fill="#3a80e8"/>
<circle cx="335.05" cy="366.22" r="1.26" fill="#1a48b8"/>
<circle cx="331.95" cy="374.75" r="1.28" fill="#1a48b8"/>
<circle cx="336.23" cy="369.8" r="1.8" fill="#2a68d8"/>
<circle cx="335.94" cy="378.14" r="1.71" fill="#1a48b8"/>
<circle cx="329.62" cy="376.74" r="1.87" fill="#1a48b8"/>
<circle cx="333.45" cy="376.1" r="1.59" fill="#3a80e8"/>
<circle cx="334.96" cy="361.97" r="1.31" fill="#1a48b8"/>
<circle cx="333.46" cy="359.58" r="1.77" fill="#3a80e8"/>
<circle cx="329.85" cy="368.42" r="1.34" fill="#1a48b8"/>
<circle cx="329.73" cy="372.55" r="1.23" fill="#2a68d8"/>
<circle cx="330.7" cy="362.69" r="0.83" fill="#163aa0"/>
<circle cx="337.17" cy="371.48" r="0.98" fill="#2a68d8"/>
<circle cx="337.33" cy="368.32" r="1.39" fill="#102c80"/>
<circle cx="331.81" cy="376.33" r="1.86" fill="#3a80e8"/>
<circle cx="333.2" cy="359.62" r="1.9" fill="#163aa0"/>
<circle cx="334.31" cy="371.52" r="1.18" fill="#102c80"/>
<circle cx="334.49" cy="372.48" r="1.48" fill="#1a48b8"/>
<circle cx="335.75" cy="380.48" r="1.04" fill="#2a68d8"/>
<circle cx="333.8" cy="371.23" r="1.28" fill="#163aa0"/>
<circle cx="335.88" cy="369.93" r="1.1" fill="#2a68d8"/>
<circle cx="337.76" cy="374.56" r="1.41" fill="#102c80"/>
<circle cx="323.54" cy="377.02" r="1.21" fill="#163aa0"/>
<circle cx="322.12" cy="380.23" r="1.15" fill="#2a68d8"/>
<circle cx="325.76" cy="378.09" r="1.35" fill="#2a68d8"/>
<circle cx="321.78" cy="375.14" r="1.25" fill="#163aa0"/>
<circle cx="324.27" cy="378.77" r="1.18" fill="#1a48b8"/>
<circle cx="324.26" cy="379.54" r="0.91" fill="#3a80e8"/>
<circle cx="319.99" cy="377.49" r="1.18" fill="#1a48b8"/>
<circle cx="321.05" cy="377.26" r="1.25" fill="#3a80e8"/>
<circle cx="320.96" cy="377.31" r="1.19" fill="#2a68d8"/>
<circle cx="323.46" cy="375.76" r="1.15" fill="#2a68d8"/>
<circle cx="323.82" cy="376.48" r="1.06" fill="#2a68d8"/>
<circle cx="321.68" cy="379.23" r="1.21" fill="#102c80"/>
<circle cx="321.51" cy="354.92" r="1.81" fill="#50dd28"/>
<circle cx="326.2" cy="351.75" r="1.53" fill="#70f038"/>
<circle cx="321.32" cy="347.27" r="1.46" fill="#40c020"/>
<circle cx="318.55" cy="348.15" r="1.92" fill="#60ee30"/>
<circle cx="319.18" cy="352.56" r="1.84" fill="#70f038"/>
<circle cx="316.67" cy="353.02" r="1.78" fill="#70f038"/>
<circle cx="321.49" cy="351.72" r="1.71" fill="#50dd28"/>
<circle cx="320.67" cy="354.86" r="1.43" fill="#40c020"/>
<circle cx="319.07" cy="355.36" r="1.98" fill="#40c020"/>
<circle cx="325.37" cy="350.74" r="1.59" fill="#70f038"/>
<circle cx="316.73" cy="352.49" r="1.61" fill="#60ee30"/>
<circle cx="323.28" cy="353.26" r="1.17" fill="#60ee30"/>
<circle cx="325.61" cy="349.89" r="1.75" fill="#70f038"/>
<circle cx="318.68" cy="354.21" r="1.95" fill="#50dd28"/>
<circle cx="322.05" cy="354.19" r="1.22" fill="#60ee30"/>
<circle cx="324.31" cy="353.59" r="1.25" fill="#60ee30"/>
<circle cx="318.58" cy="355.36" r="1.44" fill="#60ee30"/>
<circle cx="320.21" cy="350.9" r="1.19" fill="#50dd28"/>
<circle cx="320.18" cy="353.86" r="1.64" fill="#70f038"/>
<circle cx="320.78" cy="356.18" r="1.32" fill="#60ee30"/>
<circle cx="322.96" cy="354.79" r="1.72" fill="#40c020"/>
<circle cx="319.08" cy="352.79" r="1.93" fill="#40c020"/>
<circle cx="326.21" cy="352.62" r="1.36" fill="#70f038"/>
<circle cx="321.04" cy="351.44" r="1.28" fill="#50dd28"/>
<circle cx="320.96" cy="347.29" r="1.45" fill="#70f038"/>
<circle cx="321.47" cy="352.89" r="1.31" fill="#50dd28"/>
<circle cx="325.11" cy="353.66" r="1.45" fill="#40c020"/>
<circle cx="319.79" cy="349.25" r="1.29" fill="#40c020"/>
<circle cx="320.79" cy="352.23" r="1.5" fill="#70f038"/>
<circle cx="324.86" cy="350.93" r="1.1" fill="#60ee30"/>
<circle cx="324.03" cy="356.32" r="1.65" fill="#70f038"/>
<circle cx="324.52" cy="351.88" r="1.32" fill="#70f038"/>
<circle cx="322.13" cy="352.31" r="1.85" fill="#60ee30"/>
<circle cx="316.8" cy="349.74" r="1.81" fill="#60ee30"/>
<circle cx="325.78" cy="353.94" r="1.67" fill="#70f038"/>
<circle cx="317.03" cy="349.17" r="1.2" fill="#60ee30"/>
<circle cx="324.49" cy="349.37" r="1.75" fill="#60ee30"/>
<circle cx="319.84" cy="355.19" r="1.86" fill="#70f038"/>
<circle cx="317.92" cy="353.06" r="1.25" fill="#40c020"/>
<circle cx="324.6" cy="351.27" r="1.56" fill="#40c020"/>
<circle cx="311.17" cy="350.33" r="1.0" fill="#c08020"/>
<circle cx="308.49" cy="347.88" r="1.11" fill="#c08020"/>
<circle cx="312.21" cy="349.43" r="1.67" fill="#c08020"/>
<circle cx="307.34" cy="348.66" r="1.47" fill="#f07020"/>
<circle cx="310.4" cy="352.57" r="1.58" fill="#e8c040"/>
<circle cx="307.27" cy="350.13" r="1.04" fill="#e8c040"/>
<circle cx="312.46" cy="347.48" r="1.47" fill="#c08020"/>
<circle cx="310.16" cy="349.4" r="1.79" fill="#a0b030"/>
<circle cx="306.63" cy="347.23" r="1.68" fill="#c08020"/>
<circle cx="307.15" cy="348.92" r="1.56" fill="#c08020"/>
<circle cx="308.72" cy="346.75" r="1.53" fill="#e8c040"/>
<circle cx="307.98" cy="346.62" r="1.65" fill="#a0b030"/>
<circle cx="309.13" cy="351.03" r="1.4" fill="#f07020"/>
<circle cx="307.5" cy="348.78" r="1.06" fill="#c08020"/>
<circle cx="306.38" cy="349.29" r="1.08" fill="#e8c040"/>
<circle cx="312.48" cy="348.25" r="1.71" fill="#e8c040"/>
<circle cx="306.14" cy="348.04" r="1.23" fill="#f07020"/>
<circle cx="305.69" cy="349.67" r="1.15" fill="#c08020"/>
<circle cx="308.12" cy="348.17" r="1.21" fill="#c08020"/>
<circle cx="308.95" cy="351.56" r="1.78" fill="#f07020"/>
<circle cx="310.82" cy="352.02" r="1.16" fill="#a0b030"/>
<circle cx="307.8" cy="346.72" r="1.05" fill="#c08020"/>
<circle cx="310.68" cy="350.92" r="1.61" fill="#e09030"/>
<circle cx="307.8" cy="349.56" r="1.41" fill="#e09030"/>
<circle cx="305.78" cy="349.69" r="1.38" fill="#e09030"/>
<circle cx="311.87" cy="346.63" r="1.17" fill="#a0b030"/>
<circle cx="305.63" cy="350.75" r="1.22" fill="#c08020"/>
<circle cx="306.71" cy="349.8" r="1.09" fill="#a0b030"/>
<circle cx="310.31" cy="342.03" r="1.11" fill="#a0c030"/>
<circle cx="308.48" cy="340.18" r="1.07" fill="#a0c030"/>
<circle cx="305.44" cy="339.76" r="0.81" fill="#c0c030"/>
<circle cx="307.62" cy="342.59" r="0.61" fill="#c0c030"/>
<circle cx="305.02" cy="341.89" r="0.8" fill="#70d030"/>
<circle cx="307.6" cy="339.86" r="0.82" fill="#c0c030"/>
<circle cx="310.4" cy="341.7" r="0.64" fill="#a0c030"/>
<circle cx="304.71" cy="342.51" r="1.1" fill="#70d030"/>
<circle cx="306.77" cy="343.26" r="0.94" fill="#c0c030"/>
<circle cx="307.49" cy="343.39" r="1.08" fill="#70d030"/>
<circle cx="306.57" cy="341.96" r="1.0" fill="#a0c030"/>
<circle cx="306.8" cy="341.91" r="1.24" fill="#70d030"/>
<circle cx="313.58" cy="342.55" r="0.88" fill="#50e030"/>
<circle cx="314.37" cy="341.49" r="0.66" fill="#50e030"/>
<circle cx="316.42" cy="342.59" r="0.75" fill="#50e030"/>
<circle cx="314.14" cy="342.37" r="1.26" fill="#70d030"/>
<circle cx="316.0" cy="341.61" r="1.18" fill="#50e030"/>
<circle cx="312.66" cy="342.08" r="0.8" fill="#70d030"/>
<circle cx="315.38" cy="342.33" r="0.88" fill="#50e030"/>
<circle cx="314.33" cy="340.59" r="1.19" fill="#50e030"/>
<circle cx="326" cy="348" r="1.6" fill="#50e030"/>
<circle cx="327" cy="358.5" r="1.3" fill="#40c020"/>
<circle cx="300" cy="343" r="1.5" fill="#60c020"/>
<circle cx="296" cy="348.5" r="1.1" fill="#b0c020"/>
<circle cx="298" cy="350" r="0.9" fill="#e06020"/>
<circle cx="296" cy="361" r="0.7" fill="#30a010"/>
<circle cx="298" cy="368" r="0.8" fill="#30a010"/>
<circle cx="302" cy="372" r="0.8" fill="#30a010"/>
<circle cx="320.3" cy="366" r="0.7" fill="#30a010"/>
</g></g>
<rect x="401.00" y="185.00" width="97.60" height="98.00" fill="#000"/>
<g clip-path="url(#cE1)"><g filter="url(#fb1)">
<circle cx="461.6" cy="256.8" r="0.72" fill="#701000"/>
<circle cx="482.0" cy="259.8" r="0.5" fill="#701000"/>
<circle cx="487.7" cy="200.2" r="0.59" fill="#801800"/>
<circle cx="438.8" cy="199.2" r="0.5" fill="#801800"/>
<circle cx="441.4" cy="206.4" r="0.75" fill="#902000"/>
<circle cx="418.0" cy="261.7" r="0.46" fill="#902000"/>
<circle cx="414.9" cy="190.2" r="0.75" fill="#801800"/>
<circle cx="475.7" cy="276.4" r="0.47" fill="#801800"/>
<circle cx="430.2" cy="276.5" r="0.62" fill="#801800"/>
<circle cx="420.1" cy="277.2" r="0.48" fill="#902000"/>
<circle cx="431.1" cy="222.5" r="0.47" fill="#801800"/>
<circle cx="427.8" cy="219.9" r="0.73" fill="#701000"/>
<circle cx="459.0" cy="253.7" r="0.43" fill="#501000"/>
<circle cx="479.9" cy="233.3" r="0.53" fill="#902000"/>
<circle cx="447.4" cy="205.9" r="0.5" fill="#701000"/>
<circle cx="492.2" cy="222.2" r="0.56" fill="#902000"/>
<circle cx="437.4" cy="242.1" r="0.4" fill="#701000"/>
<circle cx="469.5" cy="246.1" r="0.78" fill="#701000"/>
<circle cx="474.0" cy="273.7" r="0.78" fill="#501000"/>
<circle cx="451.2" cy="270.3" r="0.5" fill="#902000"/>
<circle cx="413.2" cy="257.4" r="0.72" fill="#501000"/>
<circle cx="406.4" cy="275.1" r="0.44" fill="#501000"/>
<circle cx="451.2" cy="222.6" r="0.46" fill="#501000"/>
<circle cx="489.9" cy="239.1" r="0.52" fill="#501000"/>
<circle cx="431.8" cy="261.9" r="0.65" fill="#501000"/>
<circle cx="496.7" cy="204.5" r="0.42" fill="#902000"/>
<circle cx="418.6" cy="217.4" r="0.8" fill="#b02000"/>
<circle cx="426" cy="240" r="0.7" fill="#a02000"/>
<circle cx="434.5" cy="263.5" r="0.8" fill="#b02000"/>
<circle cx="465.5" cy="210" r="0.7" fill="#902000"/>
<circle cx="455" cy="246" r="0.8" fill="#a02000"/>
<circle cx="472" cy="222" r="0.6" fill="#a02000"/>
<circle cx="490" cy="236" r="0.7" fill="#b02000"/>
<circle cx="437" cy="190" r="0.5" fill="#802000"/>
</g></g>
<rect x="486.00" y="276.80" width="10.00" height="1.40" fill="#fff"/>
<rect x="401.00" y="285.00" width="97.60" height="97.60" fill="#000"/>
<g clip-path="url(#cE2)"><g filter="url(#fb1)">
<circle cx="454.95" cy="300.71" r="1.42" fill="#f04010"/>
<circle cx="453.59" cy="293.57" r="1.44" fill="#ff6020"/>
<circle cx="455.54" cy="301.06" r="1.01" fill="#a82000"/>
<circle cx="453.0" cy="300.37" r="1.41" fill="#a82000"/>
<circle cx="454.82" cy="296.95" r="1.51" fill="#f04010"/>
<circle cx="451.87" cy="293.3" r="0.97" fill="#f04010"/>
<circle cx="451.3" cy="295.56" r="1.45" fill="#a82000"/>
<circle cx="455.19" cy="293.74" r="0.94" fill="#ff6020"/>
<circle cx="451.85" cy="300.72" r="1.25" fill="#a82000"/>
<circle cx="454.03" cy="298.34" r="1.33" fill="#f04010"/>
<circle cx="454.62" cy="292.01" r="1.11" fill="#ff6020"/>
<circle cx="451.2" cy="295.54" r="1.29" fill="#ff6020"/>
<circle cx="454.11" cy="293.28" r="1.03" fill="#ff6020"/>
<circle cx="452.58" cy="301.7" r="1.23" fill="#f04010"/>
<circle cx="455.57" cy="297.46" r="0.85" fill="#a82000"/>
<circle cx="455.55" cy="294.42" r="1.0" fill="#f04010"/>
<circle cx="454.01" cy="293.22" r="1.19" fill="#ff6020"/>
<circle cx="453.78" cy="298.95" r="1.27" fill="#f04010"/>
<circle cx="455.04" cy="301.98" r="1.36" fill="#a82000"/>
<circle cx="453.3" cy="292.3" r="1.51" fill="#f04010"/>
<circle cx="452.51" cy="297.07" r="1.44" fill="#ff6020"/>
<circle cx="452.62" cy="300.67" r="1.35" fill="#f04010"/>
<circle cx="460.92" cy="289.37" r="1.57" fill="#f04010"/>
<circle cx="460.3" cy="290.13" r="0.97" fill="#a82000"/>
<circle cx="462.41" cy="289.11" r="1.43" fill="#f04010"/>
<circle cx="461.89" cy="289.7" r="0.95" fill="#a82000"/>
<circle cx="460.46" cy="290.29" r="0.95" fill="#f04010"/>
<circle cx="461.59" cy="291.57" r="1.14" fill="#a82000"/>
<circle cx="421.7" cy="304.59" r="0.94" fill="#ff6020"/>
<circle cx="420.91" cy="304.28" r="1.14" fill="#ff6020"/>
<circle cx="422.44" cy="303.63" r="1.3" fill="#ff6020"/>
<circle cx="421.23" cy="302.57" r="1.43" fill="#f04010"/>
<circle cx="420.37" cy="303.98" r="1.45" fill="#a82000"/>
<circle cx="418.56" cy="302.27" r="1.2" fill="#a82000"/>
<circle cx="419.68" cy="301.64" r="1.19" fill="#f04010"/>
<circle cx="418.41" cy="301.89" r="1.0" fill="#a82000"/>
<circle cx="421.13" cy="302.01" r="0.96" fill="#f04010"/>
<circle cx="420.17" cy="301.76" r="1.12" fill="#a82000"/>
<circle cx="419.64" cy="303.65" r="0.99" fill="#f04010"/>
<circle cx="418.02" cy="303.87" r="1.15" fill="#f04010"/>
<circle cx="421.36" cy="301.63" r="1.18" fill="#ff6020"/>
<circle cx="417.81" cy="303.77" r="1.49" fill="#a82000"/>
<circle cx="431.14" cy="300.17" r="1.38" fill="#a82000"/>
<circle cx="429.09" cy="298.97" r="1.39" fill="#f04010"/>
<circle cx="428.67" cy="300.51" r="1.34" fill="#f04010"/>
<circle cx="430.62" cy="300.65" r="1.46" fill="#a82000"/>
<circle cx="431.69" cy="300.7" r="1.35" fill="#ff6020"/>
<circle cx="428.95" cy="300.21" r="1.13" fill="#ff6020"/>
<circle cx="474.06" cy="298.65" r="1.39" fill="#a82000"/>
<circle cx="472.6" cy="299.08" r="0.9" fill="#a82000"/>
<circle cx="473.11" cy="298.75" r="0.92" fill="#a82000"/>
<circle cx="472.22" cy="298.29" r="1.32" fill="#a82000"/>
<circle cx="483.43" cy="301.89" r="1.43" fill="#a82000"/>
<circle cx="482.67" cy="303.11" r="1.07" fill="#a82000"/>
<circle cx="494.01" cy="298.66" r="0.81" fill="#ff6020"/>
<circle cx="494.28" cy="299.23" r="1.45" fill="#a82000"/>
<circle cx="478.0" cy="351.07" r="1.58" fill="#f04010"/>
<circle cx="474.58" cy="346.87" r="0.91" fill="#ff6020"/>
<circle cx="477.98" cy="343.5" r="1.28" fill="#f04010"/>
<circle cx="479.38" cy="344.34" r="1.53" fill="#a82000"/>
<circle cx="482.44" cy="344.08" r="0.91" fill="#f04010"/>
<circle cx="482.34" cy="350.33" r="0.85" fill="#a82000"/>
<circle cx="479.68" cy="349.06" r="0.99" fill="#f04010"/>
<circle cx="472.92" cy="348.68" r="0.86" fill="#f04010"/>
<circle cx="475.28" cy="348.4" r="1.04" fill="#a82000"/>
<circle cx="480.72" cy="342.21" r="1.51" fill="#f04010"/>
<circle cx="479.33" cy="348.92" r="0.88" fill="#f04010"/>
<circle cx="482.36" cy="343.52" r="1.58" fill="#a82000"/>
<circle cx="475.69" cy="341.61" r="1.2" fill="#ff6020"/>
<circle cx="480.94" cy="343.47" r="1.07" fill="#f04010"/>
<circle cx="482.62" cy="343.17" r="0.83" fill="#f04010"/>
<circle cx="478.69" cy="344.63" r="1.2" fill="#f04010"/>
<circle cx="478.58" cy="346.34" r="1.12" fill="#ff6020"/>
<circle cx="480.35" cy="344.45" r="1.1" fill="#f04010"/>
<circle cx="482.05" cy="342.53" r="1.54" fill="#a82000"/>
<circle cx="482.81" cy="343.63" r="1.54" fill="#f04010"/>
<circle cx="481.18" cy="350.32" r="1.44" fill="#f04010"/>
<circle cx="482.77" cy="345.82" r="1.14" fill="#a82000"/>
<circle cx="477.3" cy="348.76" r="1.31" fill="#a82000"/>
<circle cx="480.09" cy="344.49" r="1.06" fill="#a82000"/>
<circle cx="476.9" cy="346.52" r="1.35" fill="#ff6020"/>
<circle cx="472.8" cy="343.91" r="0.99" fill="#f04010"/>
<circle cx="476.8" cy="348.39" r="0.92" fill="#f04010"/>
<circle cx="479.4" cy="344.75" r="1.31" fill="#a82000"/>
<circle cx="479.65" cy="345.33" r="1.04" fill="#a82000"/>
<circle cx="475.57" cy="343.19" r="1.37" fill="#a82000"/>
<circle cx="478.4" cy="344.02" r="1.49" fill="#f04010"/>
<circle cx="477.77" cy="351.41" r="1.04" fill="#a82000"/>
<circle cx="483.08" cy="343.88" r="0.93" fill="#a82000"/>
<circle cx="477.0" cy="343.7" r="1.12" fill="#a82000"/>
<circle cx="476.48" cy="344.92" r="1.39" fill="#a82000"/>
<circle cx="482.55" cy="345.63" r="1.16" fill="#f04010"/>
<circle cx="473.21" cy="343.81" r="1.08" fill="#a82000"/>
<circle cx="479.19" cy="350.05" r="0.98" fill="#f04010"/>
<circle cx="476.17" cy="347.27" r="0.85" fill="#a82000"/>
<circle cx="475.46" cy="345.11" r="1.46" fill="#f04010"/>
<circle cx="483.68" cy="345.35" r="1.32" fill="#f04010"/>
<circle cx="482.71" cy="348.33" r="1.02" fill="#a82000"/>
<circle cx="477.44" cy="342.4" r="1.24" fill="#a82000"/>
<circle cx="478.31" cy="348.67" r="0.84" fill="#f04010"/>
<circle cx="474.67" cy="347.15" r="1.06" fill="#f04010"/>
<circle cx="459.43" cy="337.88" r="1.5" fill="#f04010"/>
<circle cx="457.47" cy="334.07" r="1.58" fill="#f04010"/>
<circle cx="457.98" cy="337.22" r="1.48" fill="#a82000"/>
<circle cx="458.32" cy="336.46" r="1.25" fill="#f04010"/>
<circle cx="458.97" cy="336.92" r="1.59" fill="#f04010"/>
<circle cx="458.3" cy="338.64" r="1.29" fill="#a82000"/>
<circle cx="457.64" cy="333.65" r="1.59" fill="#a82000"/>
<circle cx="456.35" cy="338.0" r="1.59" fill="#a82000"/>
<circle cx="458.43" cy="338.39" r="1.19" fill="#a82000"/>
<circle cx="459.61" cy="335.52" r="1.52" fill="#ff6020"/>
<circle cx="459.06" cy="337.13" r="1.56" fill="#a82000"/>
<circle cx="456.86" cy="333.5" r="0.81" fill="#a82000"/>
<circle cx="411.27" cy="337.1" r="1.24" fill="#a82000"/>
<circle cx="411.68" cy="337.16" r="1.04" fill="#ff6020"/>
<circle cx="412.27" cy="336.31" r="1.2" fill="#f04010"/>
<circle cx="411.89" cy="335.28" r="1.51" fill="#ff6020"/>
<circle cx="412.23" cy="335.2" r="1.22" fill="#a82000"/>
<circle cx="421.46" cy="352.7" r="1.46" fill="#a82000"/>
<circle cx="418.62" cy="354.09" r="1.31" fill="#a82000"/>
<circle cx="418.7" cy="352.81" r="1.4" fill="#a82000"/>
<circle cx="421.04" cy="351.45" r="0.92" fill="#a82000"/>
<circle cx="418.79" cy="352.97" r="1.27" fill="#a82000"/>
<circle cx="419.97" cy="354.39" r="1.21" fill="#f04010"/>
<circle cx="421.96" cy="352.46" r="1.17" fill="#a82000"/>
<circle cx="420.68" cy="354.4" r="0.98" fill="#f04010"/>
<circle cx="412.54" cy="358.02" r="1.55" fill="#f04010"/>
<circle cx="412.57" cy="360.46" r="1.45" fill="#a82000"/>
<circle cx="411.18" cy="357.3" r="0.95" fill="#f04010"/>
<circle cx="410.29" cy="359.75" r="1.02" fill="#a82000"/>
<circle cx="412.78" cy="357.08" r="1.42" fill="#f04010"/>
<circle cx="412.46" cy="357.73" r="1.41" fill="#a82000"/>
<circle cx="413.45" cy="357.97" r="0.85" fill="#f04010"/>
<circle cx="411.97" cy="358.21" r="0.88" fill="#f04010"/>
<circle cx="413.26" cy="358.12" r="1.5" fill="#ff6020"/>
<circle cx="412.27" cy="358.88" r="0.82" fill="#ff6020"/>
<circle cx="432.49" cy="366.95" r="1.3" fill="#f04010"/>
<circle cx="436.44" cy="365.4" r="0.93" fill="#a82000"/>
<circle cx="434.18" cy="366.63" r="1.28" fill="#a82000"/>
<circle cx="434.36" cy="364.94" r="1.08" fill="#a82000"/>
<circle cx="434.38" cy="364.58" r="1.35" fill="#f04010"/>
<circle cx="432.95" cy="366.49" r="1.12" fill="#a82000"/>
<circle cx="436.56" cy="367.55" r="1.05" fill="#a82000"/>
<circle cx="432.44" cy="365.48" r="1.44" fill="#a82000"/>
<circle cx="435.82" cy="366.2" r="1.25" fill="#a82000"/>
<circle cx="435.63" cy="365.88" r="1.44" fill="#ff6020"/>
<circle cx="403.67" cy="374.76" r="1.38" fill="#a82000"/>
<circle cx="401.42" cy="374.56" r="1.15" fill="#a82000"/>
<circle cx="402.8" cy="373.53" r="1.28" fill="#f04010"/>
<circle cx="403.09" cy="374.07" r="1.07" fill="#a82000"/>
<circle cx="479.82" cy="328.11" r="1.33" fill="#a82000"/>
<circle cx="479.6" cy="327.64" r="1.21" fill="#ff6020"/>
<circle cx="479.48" cy="327.32" r="0.85" fill="#f04010"/>
<circle cx="471.66" cy="328.33" r="0.89" fill="#a82000"/>
<circle cx="470.58" cy="329.41" r="1.24" fill="#f04010"/>
<circle cx="470.75" cy="327.88" r="1.35" fill="#f04010"/>
<circle cx="447.37" cy="315.14" r="1.38" fill="#a82000"/>
<circle cx="447.1" cy="315.42" r="0.91" fill="#f04010"/>
<circle cx="455.82" cy="319.92" r="1.12" fill="#a82000"/>
<circle cx="455.17" cy="319.36" r="1.37" fill="#ff6020"/>
<circle cx="483.54" cy="314.18" r="0.88" fill="#f04010"/>
<circle cx="483.65" cy="314.99" r="1.07" fill="#a82000"/>
<circle cx="482.87" cy="314.13" r="1.29" fill="#ff6020"/>
<circle cx="497.4" cy="320.35" r="1.43" fill="#ff6020"/>
<circle cx="496.75" cy="319.9" r="1.4" fill="#a82000"/>
<circle cx="487.85" cy="373.36" r="1.56" fill="#ff6020"/>
<circle cx="488.01" cy="372.8" r="1.05" fill="#a82000"/>
<circle cx="488.63" cy="373.89" r="1.06" fill="#a82000"/>
<circle cx="497.65" cy="366.1" r="1.12" fill="#a82000"/>
<circle cx="496.46" cy="365.22" r="1.55" fill="#f04010"/>
<circle cx="400.5" cy="287.74" r="1.04" fill="#a82000"/>
<circle cx="401.36" cy="286.68" r="1.17" fill="#ff6020"/>
<circle cx="401.88" cy="288.41" r="1.37" fill="#a82000"/>
<circle cx="433.7" cy="351.3" r="0.8" fill="#a82000"/>
<circle cx="451" cy="362.8" r="0.8" fill="#a82000"/>
<circle cx="440" cy="340" r="0.6" fill="#a82000"/>
<circle cx="465" cy="310" r="0.6" fill="#a82000"/>
<circle cx="430" cy="320" r="0.6" fill="#a82000"/>
<circle cx="489" cy="330" r="0.6" fill="#a82000"/>
<circle cx="415" cy="380" r="0.6" fill="#a82000"/>
<circle cx="461" cy="376" r="0.6" fill="#a82000"/>
<circle cx="444" cy="296" r="0.6" fill="#a82000"/>
<circle cx="426" cy="336" r="0.6" fill="#a82000"/>
<circle cx="468" cy="360" r="0.7" fill="#a82000"/>
</g></g>
<rect x="485.60" y="377.20" width="10.50" height="1.40" fill="#fff"/>
<text x="451.6" y="183.01" font-size="9.24" text-anchor="middle" fill="#231f20" textLength="54.4" lengthAdjust="spacingAndGlyphs"  stroke="#231f20" stroke-width="0.12">Acridine orange</text>
<text x="398" y="205.41" font-size="9.24" text-anchor="end" fill="#231f20" textLength="24.2" lengthAdjust="spacingAndGlyphs"  stroke="#231f20" stroke-width="0.12">sgRNA</text>
<line x1="373.8" y1="205.3" x2="398" y2="205.3" stroke="#231f20" stroke-width="0.7"/>
<text x="398" y="239.61" font-size="9.24" text-anchor="end" fill="#231f20" textLength="25.7" lengthAdjust="spacingAndGlyphs"  stroke="#231f20" stroke-width="0.12">Control</text>
<text x="398" y="334.31" font-size="9.24" text-anchor="end" fill="#231f20" textLength="37.5" lengthAdjust="spacingAndGlyphs"  stroke="#231f20" stroke-width="0.12">CYB561A3</text>
<text x="311.7" y="175.91" font-size="9.24" text-anchor="middle" fill="#231f20" textLength="17" lengthAdjust="spacingAndGlyphs"  stroke="#231f20" stroke-width="0.12">GFP-</text>
<text x="312" y="185.31" font-size="9.24" text-anchor="middle" fill="#231f20" textLength="36" lengthAdjust="spacingAndGlyphs"  stroke="#231f20" stroke-width="0.12">CYB561A3</text>
<text x="312" y="257.61" font-size="9.24" text-anchor="middle" fill="#231f20" textLength="43" lengthAdjust="spacingAndGlyphs"  stroke="#231f20" stroke-width="0.12">Lyso Tracker</text>
<text x="312" y="327.81" font-size="9.24" text-anchor="middle" fill="#231f20" textLength="23" lengthAdjust="spacingAndGlyphs"  stroke="#231f20" stroke-width="0.12">Merge</text>
<defs>
<filter id="grain" x="0" y="0" width="100%" height="100%" color-interpolation-filters="sRGB"><feTurbulence type="fractalNoise" baseFrequency="0.6" numOctaves="2" seed="3"/>
<feColorMatrix type="matrix" values="1 0 0 0 0  1 0 0 0 0  1 0 0 0 0  0 0 0 0 1"/><feComponentTransfer><feFuncR type="linear" slope="1.6" intercept="-0.3"/><feFuncG type="linear" slope="1.6" intercept="-0.3"/><feFuncB type="linear" slope="1.6" intercept="-0.3"/></feComponentTransfer></filter>
<filter id="grain2" x="0" y="0" width="100%" height="100%" color-interpolation-filters="sRGB"><feTurbulence type="fractalNoise" baseFrequency="0.18" numOctaves="3" seed="9"/>
<feColorMatrix type="matrix" values="1 0 0 0 0  1 0 0 0 0  1 0 0 0 0  0 0 0 0 1"/><feComponentTransfer><feFuncR type="linear" slope="1.6" intercept="-0.3"/><feFuncG type="linear" slope="1.6" intercept="-0.3"/><feFuncB type="linear" slope="1.6" intercept="-0.3"/></feComponentTransfer></filter>
<filter id="tb" x="-20%" y="-20%" width="140%" height="140%"><feGaussianBlur stdDeviation="0.5"/></filter>
<filter id="tb2" x="-20%" y="-20%" width="140%" height="140%"><feGaussianBlur stdDeviation="1.2"/></filter>
<clipPath id="cF1"><rect x="20" y="444" width="151" height="97"/></clipPath>
<clipPath id="cF2"><rect x="178" y="443.5" width="150.5" height="97.5"/></clipPath>
<clipPath id="cF3"><rect x="20" y="547" width="151" height="98"/></clipPath>
<clipPath id="cF4"><rect x="178" y="547" width="150.5" height="98"/></clipPath>
</defs>
<g clip-path="url(#cF1)" style="isolation:isolate">
<rect x="20.00" y="444.00" width="151.00" height="97.00" fill="#bccccd"/>
<path d="M19.0,443.0 C21.6,438.0 32.2,442.0 34.5,443.0 C36.8,444.0 33.9,447.0 33.0,449.0 C32.1,451.0 30.2,452.8 29.0,455.0 C27.8,457.2 26.9,459.5 26.0,462.0 C25.1,464.5 24.7,468.2 23.5,470.0 C22.3,471.8 19.8,477.5 19.0,473.0 C18.2,468.5 16.4,448.0 19.0,443.0 Z" fill="#9aacad" opacity="1" filter="url(#tb)"/>
<path d="M19.0,509.0 C20.7,504.1 25.4,513.8 29.2,515.5 C33.0,517.2 37.9,517.5 41.5,519.4 C45.1,521.3 48.2,523.5 50.8,527.1 C53.4,530.7 55.9,538.0 56.9,541.0 C57.9,544.0 63.3,544.3 57.0,545.0 C50.7,545.7 25.3,551.0 19.0,545.0 C12.7,539.0 17.3,513.9 19.0,509.0 Z" fill="#8fa2a3" opacity="1" filter="url(#tb)"/>
<path d="M137.0,545.0 C130.8,541.8 135.3,531.5 135.5,525.9 C135.7,520.3 137.2,516.2 138.4,511.3 C139.6,506.4 141.1,501.0 142.8,496.6 C144.5,492.2 146.3,488.1 148.7,484.9 C151.1,481.7 154.5,479.3 157.4,477.6 C160.3,475.9 163.6,475.5 166.2,474.7 C168.8,473.9 171.9,461.3 173.0,473.0 C174.1,484.7 179.0,533.0 173.0,545.0 C167.0,557.0 143.2,548.2 137.0,545.0 Z" fill="#92a5a6" opacity="1" filter="url(#tb)"/>
<path d="M46.5,457.6 C47.5,456.9 49.7,458.1 50.9,457.6 C52.1,457.1 52.6,455.1 53.7,454.7 C54.7,454.2 56.1,454.9 57.3,454.9 C58.5,454.8 59.5,454.8 61.0,454.4 C62.5,453.9 64.8,452.6 66.2,452.3 C67.7,452.0 68.4,452.2 69.8,452.7 C71.1,453.1 72.9,454.9 74.3,455.1 C75.8,455.2 76.5,453.4 78.4,453.5 C80.2,453.6 83.9,455.1 85.4,455.4 C87.0,455.8 86.4,455.4 87.4,455.8 C88.5,456.2 90.4,457.8 91.7,457.9 C93.1,458.0 94.0,456.4 95.2,456.5 C96.5,456.5 97.9,457.7 99.2,458.3 C100.5,458.9 102.2,459.8 103.0,460.0 C103.9,460.2 103.7,458.8 104.4,459.3 C105.2,459.9 107.1,462.4 107.6,463.3 C108.1,464.2 106.8,464.1 107.4,464.6 C108.1,465.1 110.8,465.6 111.6,466.3 C112.3,467.0 111.2,468.2 111.8,468.6 C112.4,469.1 114.3,468.6 115.1,469.0 C116.0,469.4 116.6,470.4 116.9,471.1 C117.1,471.8 116.4,472.6 116.8,473.3 C117.1,474.0 118.3,474.5 119.0,475.4 C119.8,476.3 120.5,477.5 121.3,478.5 C122.0,479.5 122.9,480.5 123.6,481.3 C124.2,482.1 124.9,482.8 125.1,483.2 C125.3,483.7 124.6,483.3 124.8,484.1 C125.0,484.8 125.8,487.0 126.1,488.0 C126.4,488.9 126.7,488.6 126.7,489.7 C126.7,490.9 126.0,493.6 125.9,494.8 C125.8,496.0 126.4,496.4 126.0,497.1 C125.6,497.9 123.9,498.3 123.7,499.3 C123.5,500.3 124.9,502.1 124.9,502.9 C124.8,503.7 124.3,503.3 123.6,504.1 C122.9,505.0 121.5,507.1 120.7,508.1 C120.0,509.2 119.8,510.0 119.3,510.6 C118.7,511.1 118.4,510.7 117.6,511.7 C116.8,512.8 115.3,515.9 114.5,516.9 C113.7,517.9 113.2,517.1 112.6,517.8 C112.1,518.5 111.5,520.3 111.2,521.1 C110.9,521.9 111.2,521.7 110.6,522.4 C110.0,523.1 108.8,524.6 107.7,525.1 C106.6,525.7 105.1,525.1 104.2,525.5 C103.3,526.0 103.3,527.3 102.2,527.7 C101.1,528.1 99.0,527.3 97.8,527.8 C96.6,528.2 95.8,529.7 95.1,530.4 C94.4,531.0 94.3,531.8 93.6,532.0 C92.9,532.1 92.0,530.8 90.9,531.1 C89.8,531.3 88.5,533.4 87.0,533.5 C85.5,533.5 83.5,531.6 82.0,531.4 C80.5,531.3 79.6,532.5 78.2,532.6 C76.8,532.8 75.2,532.1 73.8,532.5 C72.3,532.9 71.1,534.7 69.7,535.1 C68.4,535.5 66.7,535.3 65.6,534.9 C64.5,534.5 63.7,533.3 63.1,532.8 C62.5,532.4 62.8,532.4 61.8,532.1 C60.8,531.9 58.0,532.1 57.2,531.6 C56.3,531.1 56.9,530.2 56.6,529.3 C56.2,528.5 55.8,527.3 55.1,526.6 C54.4,525.8 53.1,525.6 52.3,525.0 C51.4,524.3 50.8,523.6 50.1,522.5 C49.5,521.5 49.0,519.4 48.2,518.6 C47.4,517.8 45.9,518.5 45.3,517.8 C44.8,517.2 45.4,516.1 45.0,514.9 C44.6,513.6 43.8,511.7 42.9,510.5 C42.0,509.3 40.4,509.0 39.6,507.8 C38.8,506.6 38.5,504.6 38.0,503.3 C37.5,501.9 37.0,500.9 36.6,499.7 C36.2,498.6 35.8,497.4 35.6,496.4 C35.4,495.4 36.0,494.6 35.7,493.8 C35.3,493.0 33.8,492.4 33.5,491.5 C33.2,490.7 34.0,490.0 33.8,488.8 C33.6,487.5 32.2,485.8 32.5,484.3 C32.7,482.8 34.9,480.7 35.2,479.5 C35.4,478.3 33.7,478.2 33.8,477.0 C34.0,475.9 35.3,473.8 36.2,472.5 C37.1,471.2 38.8,470.3 39.4,469.0 C39.9,467.8 39.2,466.0 39.7,465.2 C40.2,464.3 41.6,464.6 42.5,464.0 C43.4,463.4 44.4,462.8 45.0,461.7 C45.7,460.7 45.5,458.3 46.5,457.6 Z" fill="#a3b4b5" opacity="1" filter="url(#tb)"/>
<path d="M47.1,458.1 C48.1,457.7 49.6,458.1 50.9,457.8 C52.1,457.4 53.5,456.6 54.6,456.0 C55.7,455.4 56.1,454.6 57.4,454.2 C58.7,453.8 60.9,453.8 62.4,453.8 C64.0,453.7 65.3,454.2 66.5,453.9 C67.7,453.6 68.1,452.1 69.5,452.0 C70.9,451.9 73.4,452.7 75.0,453.2 C76.5,453.7 77.0,454.6 78.6,455.1 C80.3,455.6 83.1,456.1 84.8,456.2 C86.6,456.3 87.8,455.7 88.9,455.7 C90.0,455.7 90.1,456.0 91.4,456.1 C92.7,456.2 95.6,456.4 96.8,456.6 C97.9,456.8 97.7,457.1 98.4,457.4 C99.1,457.7 100.1,458.0 101.1,458.4 C102.2,458.8 103.7,458.8 104.6,459.6 C105.4,460.3 105.8,461.9 106.4,462.7 C107.0,463.5 107.4,463.9 108.1,464.5 C108.9,465.0 110.2,465.4 111.0,466.0 C111.7,466.6 112.1,467.7 112.7,468.3 C113.3,468.9 114.1,468.9 114.7,469.4 C115.3,469.9 115.7,470.5 116.2,471.4 C116.7,472.2 117.3,473.9 117.8,474.5 C118.3,475.1 118.8,474.4 119.3,475.0 C119.8,475.6 120.4,477.2 120.9,478.1 C121.4,479.0 121.9,479.7 122.3,480.4 C122.7,481.0 122.6,481.1 123.2,481.8 C123.7,482.4 125.2,483.2 125.6,484.2 C125.9,485.2 125.4,486.7 125.4,487.6 C125.5,488.6 125.7,488.9 125.7,490.0 C125.8,491.2 125.9,493.2 125.9,494.4 C126.0,495.6 126.2,496.4 126.0,497.4 C125.8,498.3 125.0,499.4 124.8,500.3 C124.5,501.2 124.8,501.9 124.4,502.7 C124.0,503.5 123.0,504.2 122.4,504.9 C121.7,505.7 120.9,506.4 120.4,507.2 C120.0,507.9 120.2,508.4 119.8,509.3 C119.4,510.2 118.7,511.6 118.0,512.7 C117.4,513.9 116.4,515.3 115.7,516.2 C115.0,517.1 114.6,517.4 113.8,518.0 C113.1,518.6 112.1,518.9 111.2,519.7 C110.4,520.6 109.5,522.3 108.9,523.2 C108.3,524.1 108.5,524.8 107.8,525.2 C107.2,525.5 106.1,525.1 105.2,525.6 C104.4,526.0 103.7,527.6 102.6,528.0 C101.6,528.4 100.1,527.9 98.9,528.1 C97.8,528.3 96.8,528.9 95.8,529.2 C94.8,529.6 93.8,529.5 92.9,530.1 C92.0,530.6 91.7,532.0 90.5,532.5 C89.4,532.9 87.2,532.6 85.8,532.6 C84.5,532.7 83.6,532.6 82.5,532.7 C81.4,532.7 80.4,533.0 79.2,533.0 C77.9,533.0 76.4,532.8 75.1,532.9 C73.8,533.0 73.0,533.2 71.4,533.6 C69.9,534.0 67.2,535.2 66.0,535.2 C64.8,535.3 65.0,534.4 64.2,533.9 C63.4,533.5 62.5,532.9 61.4,532.5 C60.2,532.1 58.1,531.8 57.4,531.4 C56.6,531.0 57.4,530.8 56.8,530.0 C56.2,529.3 54.5,527.6 53.7,526.7 C52.9,525.9 52.8,525.8 52.1,525.0 C51.4,524.3 50.2,523.4 49.4,522.5 C48.7,521.6 48.5,520.6 47.9,519.6 C47.2,518.6 46.2,517.4 45.7,516.4 C45.2,515.4 45.4,514.6 45.0,513.7 C44.6,512.8 43.9,512.1 43.2,510.9 C42.5,509.6 41.6,507.3 40.9,506.2 C40.2,505.1 39.7,505.4 39.2,504.3 C38.6,503.1 38.2,500.5 37.6,499.3 C37.0,498.2 35.9,498.4 35.6,497.4 C35.3,496.4 36.2,494.3 35.9,493.3 C35.6,492.3 34.3,492.1 33.9,491.1 C33.4,490.2 33.1,488.6 33.2,487.4 C33.3,486.2 34.3,485.5 34.4,484.2 C34.6,482.8 33.9,480.6 33.9,479.3 C33.9,478.1 34.3,477.8 34.6,476.6 C35.0,475.4 35.3,473.2 36.1,472.1 C36.8,471.0 38.2,471.0 38.9,470.0 C39.6,469.0 39.6,466.9 40.3,465.9 C41.0,464.8 42.4,464.4 43.2,463.5 C43.9,462.6 44.1,461.6 44.8,460.7 C45.4,459.8 46.1,458.6 47.1,458.1 Z" fill="#93a5a6" stroke="#5c6e6f" stroke-width="0.9" opacity="1"/>
<path d="M47.1,468.2 C48.6,466.5 51.0,464.5 52.9,463.0 C54.7,461.5 56.1,460.0 58.2,459.0 C60.3,458.0 63.2,457.3 65.5,456.9 C67.8,456.4 69.8,456.0 72.2,456.1 C74.6,456.3 77.4,457.4 80.0,457.8 C82.6,458.2 86.3,457.8 88.0,458.4 C89.8,459.1 89.9,460.9 90.5,461.9 C91.2,463.0 91.4,463.1 91.8,464.8 C92.1,466.4 92.4,469.4 92.7,472.0 C93.1,474.5 93.6,477.5 93.6,480.3 C93.6,483.1 92.8,486.1 92.7,488.9 C92.5,491.7 92.6,494.5 92.5,497.1 C92.4,499.6 92.2,501.5 92.0,504.0 C91.7,506.6 91.5,510.2 91.0,512.6 C90.4,514.9 89.2,516.0 88.5,518.2 C87.7,520.3 88.0,523.7 86.5,525.3 C85.0,526.9 81.7,526.7 79.5,527.5 C77.4,528.4 75.7,529.9 73.7,530.2 C71.7,530.6 69.4,530.0 67.4,529.8 C65.4,529.6 63.5,529.9 61.8,528.9 C60.1,527.8 58.7,525.1 57.1,523.5 C55.6,522.0 53.7,521.4 52.4,519.4 C51.1,517.5 50.6,514.5 49.3,512.1 C48.0,509.6 45.8,507.0 44.5,504.6 C43.3,502.1 42.9,499.8 42.0,497.3 C41.2,494.8 39.8,492.0 39.5,489.7 C39.1,487.5 39.7,485.6 39.9,483.6 C40.1,481.7 40.0,479.7 40.7,477.9 C41.3,476.1 42.7,474.5 43.7,472.8 C44.8,471.2 45.6,469.8 47.1,468.2 Z" fill="#8fa1a2" stroke="#4a5b5c" stroke-width="0.7" opacity="1"/>
<ellipse cx="108" cy="484" rx="4" ry="2.5" fill="#8a9d9e" stroke="#5c6e6f" stroke-width="0.6" opacity="1" transform="rotate(20 108 484)"/>
<ellipse cx="113" cy="493" rx="3" ry="2" fill="#8a9d9e" stroke="#5c6e6f" stroke-width="0.6" opacity="1" transform="rotate(0 113 493)"/>
<ellipse cx="104" cy="500" rx="3.5" ry="2.5" fill="#8a9d9e" stroke="#5c6e6f" stroke-width="0.6" opacity="1" transform="rotate(-20 104 500)"/>
<ellipse cx="114" cy="505" rx="2.5" ry="2" fill="#8a9d9e" stroke="#5c6e6f" stroke-width="0.6" opacity="1" transform="rotate(0 114 505)"/>
<ellipse cx="110" cy="512" rx="3" ry="2" fill="#8a9d9e" stroke="#5c6e6f" stroke-width="0.6" opacity="1" transform="rotate(30 110 512)"/>
<ellipse cx="118" cy="488" rx="2.5" ry="3" fill="#8a9d9e" stroke="#5c6e6f" stroke-width="0.6" opacity="1" transform="rotate(0 118 488)"/>
<ellipse cx="100" cy="472" rx="4" ry="2" fill="#8a9d9e" stroke="#5c6e6f" stroke-width="0.6" opacity="1" transform="rotate(10 100 472)"/>
<ellipse cx="123.8" cy="517.7" rx="1.0" ry="0.5" fill="#3f4f50" opacity="0.85" transform="rotate(121 123.8 517.7)"/>
<ellipse cx="138.6" cy="504.9" rx="0.8" ry="0.4" fill="#3f4f50" opacity="0.85" transform="rotate(94 138.6 504.9)"/>
<ellipse cx="120.0" cy="464.9" rx="1.2" ry="0.6" fill="#3f4f50" opacity="0.85" transform="rotate(104 120.0 464.9)"/>
<ellipse cx="134.2" cy="470.5" rx="1.0" ry="0.4" fill="#3f4f50" opacity="0.85" transform="rotate(94 134.2 470.5)"/>
<ellipse cx="121.2" cy="452.3" rx="0.7" ry="0.7" fill="#3f4f50" opacity="0.85" transform="rotate(102 121.2 452.3)"/>
<ellipse cx="122.3" cy="455.3" rx="1.3" ry="0.5" fill="#3f4f50" opacity="0.85" transform="rotate(168 122.3 455.3)"/>
<ellipse cx="137.4" cy="522.9" rx="1.3" ry="0.4" fill="#3f4f50" opacity="0.85" transform="rotate(121 137.4 522.9)"/>
<ellipse cx="132.9" cy="495.9" rx="0.7" ry="0.6" fill="#3f4f50" opacity="0.85" transform="rotate(74 132.9 495.9)"/>
<ellipse cx="128.4" cy="500.5" rx="1.5" ry="0.6" fill="#3f4f50" opacity="0.85" transform="rotate(6 128.4 500.5)"/>
<ellipse cx="139.2" cy="479.4" rx="1.5" ry="0.4" fill="#3f4f50" opacity="0.85" transform="rotate(17 139.2 479.4)"/>
<ellipse cx="117.2" cy="459.8" rx="1.2" ry="0.5" fill="#3f4f50" opacity="0.85" transform="rotate(43 117.2 459.8)"/>
<ellipse cx="134.4" cy="528.0" rx="1.3" ry="0.8" fill="#3f4f50" opacity="0.85" transform="rotate(62 134.4 528.0)"/>
<ellipse cx="122.4" cy="472.7" rx="1.3" ry="0.5" fill="#3f4f50" opacity="0.85" transform="rotate(174 122.4 472.7)"/>
<ellipse cx="120.8" cy="505.4" rx="0.8" ry="0.8" fill="#3f4f50" opacity="0.85" transform="rotate(41 120.8 505.4)"/>
<ellipse cx="142.1" cy="510.5" rx="1.0" ry="0.6" fill="#3f4f50" opacity="0.85" transform="rotate(63 142.1 510.5)"/>
<ellipse cx="141.5" cy="485.7" rx="1.0" ry="0.6" fill="#3f4f50" opacity="0.85" transform="rotate(123 141.5 485.7)"/>
<ellipse cx="121.3" cy="488.7" rx="1.2" ry="0.4" fill="#3f4f50" opacity="0.85" transform="rotate(63 121.3 488.7)"/>
<ellipse cx="123.9" cy="473.0" rx="1.4" ry="0.8" fill="#3f4f50" opacity="0.85" transform="rotate(122 123.9 473.0)"/>
<ellipse cx="121.1" cy="478.1" rx="1.4" ry="0.6" fill="#3f4f50" opacity="0.85" transform="rotate(54 121.1 478.1)"/>
<ellipse cx="112.4" cy="462.8" rx="1.0" ry="0.8" fill="#3f4f50" opacity="0.85" transform="rotate(122 112.4 462.8)"/>
<ellipse cx="127.1" cy="506.5" rx="1.3" ry="0.4" fill="#3f4f50" opacity="0.85" transform="rotate(175 127.1 506.5)"/>
<ellipse cx="122.9" cy="519.5" rx="0.9" ry="0.5" fill="#3f4f50" opacity="0.85" transform="rotate(149 122.9 519.5)"/>
<ellipse cx="129.7" cy="517.2" rx="1.3" ry="0.5" fill="#3f4f50" opacity="0.85" transform="rotate(36 129.7 517.2)"/>
<ellipse cx="113.9" cy="454.0" rx="1.4" ry="0.7" fill="#3f4f50" opacity="0.85" transform="rotate(32 113.9 454.0)"/>
<ellipse cx="127.0" cy="535.8" rx="1.4" ry="0.6" fill="#3f4f50" opacity="0.85" transform="rotate(46 127.0 535.8)"/>
<ellipse cx="124.2" cy="495.2" rx="1.1" ry="0.4" fill="#3f4f50" opacity="0.85" transform="rotate(129 124.2 495.2)"/>
<ellipse cx="140.1" cy="523.7" rx="0.6" ry="0.6" fill="#3f4f50" opacity="0.85" transform="rotate(16 140.1 523.7)"/>
<ellipse cx="129.2" cy="508.8" rx="0.8" ry="0.8" fill="#3f4f50" opacity="0.85" transform="rotate(154 129.2 508.8)"/>
<ellipse cx="127.2" cy="471.0" rx="0.9" ry="0.8" fill="#3f4f50" opacity="0.85" transform="rotate(75 127.2 471.0)"/>
<ellipse cx="138.8" cy="525.8" rx="1.1" ry="0.6" fill="#3f4f50" opacity="0.85" transform="rotate(15 138.8 525.8)"/>
<ellipse cx="131.7" cy="520.9" rx="0.9" ry="0.7" fill="#3f4f50" opacity="0.85" transform="rotate(134 131.7 520.9)"/>
<ellipse cx="137.4" cy="481.6" rx="0.9" ry="0.5" fill="#3f4f50" opacity="0.85" transform="rotate(16 137.4 481.6)"/>
<ellipse cx="106.5" cy="453.0" rx="1.3" ry="0.7" fill="#3f4f50" opacity="0.85" transform="rotate(114 106.5 453.0)"/>
<ellipse cx="131.6" cy="536.2" rx="1.2" ry="0.6" fill="#3f4f50" opacity="0.85" transform="rotate(131 131.6 536.2)"/>
<ellipse cx="93" cy="453" rx="1.3" ry="0.6" fill="#3f4f50" opacity="1" transform="rotate(30 93 453)"/>
<ellipse cx="103" cy="449" rx="1.3" ry="0.6" fill="#3f4f50" opacity="1" transform="rotate(30 103 449)"/>
<ellipse cx="160" cy="452" rx="1.3" ry="0.6" fill="#3f4f50" opacity="1" transform="rotate(30 160 452)"/>
<ellipse cx="24" cy="478" rx="1.3" ry="0.6" fill="#3f4f50" opacity="1" transform="rotate(30 24 478)"/>
<ellipse cx="25" cy="485" rx="1.3" ry="0.6" fill="#3f4f50" opacity="1" transform="rotate(30 25 485)"/>
<ellipse cx="33" cy="474" rx="1.3" ry="0.6" fill="#3f4f50" opacity="1" transform="rotate(30 33 474)"/>
<ellipse cx="36" cy="478" rx="1.3" ry="0.6" fill="#3f4f50" opacity="1" transform="rotate(30 36 478)"/>
<ellipse cx="86" cy="468" rx="1" ry="1" fill="#4a5a5b" opacity="1" transform="rotate(0 86 468)"/>
<rect x="106.00" y="491.40" width="5.50" height="1.90" fill="#ff2030"/>
<rect x="20" y="444" width="151" height="97" filter="url(#grain2)" opacity="0.12" style="mix-blend-mode:overlay"/>
<rect x="20" y="444" width="151" height="97" filter="url(#grain)" opacity="0.3" style="mix-blend-mode:overlay"/>
</g>
<text x="149" y="532.49" font-size="8.36" text-anchor="start" fill="#111" textLength="19" lengthAdjust="spacingAndGlyphs"  stroke="#111" stroke-width="0.12">500nm</text>
<rect x="157.50" y="534.60" width="5.50" height="1.30" fill="#fff"/>
<g clip-path="url(#cF2)" style="isolation:isolate">
<rect x="178.00" y="443.50" width="150.50" height="97.50" fill="#bac9ca"/>
<path d="M176.0,447.0 C178.3,434.7 187.9,445.2 190.0,449.0 C192.1,452.8 188.2,464.2 188.5,470.0 C188.8,475.8 192.2,479.3 192.0,484.0 C191.8,488.7 186.8,494.2 187.0,498.0 C187.2,501.8 193.2,503.5 193.0,507.0 C192.8,510.5 188.8,516.3 186.0,519.0 C183.2,521.7 177.7,535.0 176.0,523.0 C174.3,511.0 173.7,459.3 176.0,447.0 Z" fill="#92a4a5" stroke="#6d7f80" stroke-width="0.7" opacity="1" filter="url(#tb)"/>
<path d="M220.5,441.2 C224.4,441.2 235.4,443.0 243.3,443.2 C251.2,443.5 259.9,442.8 267.9,442.6 C275.8,442.3 286.9,441.2 291.2,441.7 C295.5,442.1 292.9,444.3 293.7,445.5 C294.4,446.7 295.1,448.0 295.8,449.0 C296.5,450.0 297.7,450.8 297.9,451.6 C298.1,452.4 296.6,452.8 296.8,453.6 C297.1,454.5 298.9,455.4 299.5,456.6 C300.1,457.8 300.3,459.6 300.3,460.9 C300.3,462.1 299.4,463.2 299.4,464.3 C299.5,465.4 299.6,466.8 300.3,467.5 C301.0,468.2 303.0,467.4 303.7,468.4 C304.4,469.5 304.4,472.4 304.4,473.9 C304.4,475.4 303.5,476.2 303.6,477.6 C303.6,479.0 304.0,480.8 304.6,482.2 C305.1,483.7 306.6,485.3 306.7,486.3 C306.9,487.3 305.2,487.1 305.3,488.3 C305.4,489.4 307.4,491.6 307.5,493.0 C307.5,494.4 305.7,496.0 305.7,496.8 C305.6,497.6 307.4,497.1 307.2,498.0 C307.0,498.8 305.1,500.8 304.6,502.0 C304.2,503.2 304.6,504.1 304.4,504.9 C304.3,505.8 304.2,506.3 303.7,507.1 C303.2,507.8 301.6,508.1 301.3,509.2 C300.9,510.3 301.7,512.6 301.6,513.9 C301.5,515.2 300.8,515.8 300.5,516.8 C300.3,517.9 300.3,519.4 299.9,520.1 C299.6,520.9 299.2,520.8 298.3,521.4 C297.5,522.0 295.8,522.3 294.8,523.6 C293.9,524.8 292.9,527.7 292.6,528.9 C292.3,530.0 293.8,529.9 293.2,530.5 C292.5,531.0 289.9,531.4 288.9,532.1 C287.9,532.9 287.5,534.2 287.0,534.8 C286.4,535.4 286.4,535.6 285.6,535.8 C284.9,536.1 283.4,535.7 282.6,536.3 C281.7,536.9 281.3,538.9 280.3,539.4 C279.4,539.9 277.3,539.1 276.6,539.5 C275.9,539.9 276.7,541.3 276.1,541.9 C275.6,542.4 277.2,542.8 273.2,542.9 C269.3,542.9 260.0,542.2 252.5,542.3 C244.9,542.4 235.6,543.2 227.8,543.6 C219.9,543.9 209.3,544.6 205.5,544.2 C201.8,543.8 205.3,542.2 205.2,541.1 C205.1,540.1 204.8,539.0 204.9,537.9 C205.0,536.7 205.8,535.7 205.6,534.3 C205.3,532.9 204.0,530.9 203.4,529.7 C202.9,528.5 202.3,527.9 202.4,526.8 C202.5,525.8 203.9,524.5 203.8,523.6 C203.7,522.7 202.1,522.4 201.5,521.2 C201.0,520.0 200.7,517.8 200.3,516.6 C200.0,515.3 199.8,514.7 199.6,513.7 C199.3,512.8 198.7,512.1 198.8,510.8 C198.8,509.5 199.6,507.6 199.7,506.0 C199.7,504.5 198.8,502.9 199.1,501.5 C199.3,500.1 200.8,499.7 201.3,497.8 C201.8,496.0 201.7,492.0 201.9,490.4 C202.0,488.8 201.9,489.4 202.2,488.2 C202.4,487.0 202.9,484.7 203.3,483.0 C203.6,481.4 203.9,479.3 204.3,478.1 C204.6,477.0 205.4,477.0 205.5,476.1 C205.5,475.1 204.2,473.5 204.5,472.3 C204.7,471.1 206.4,469.7 207.0,468.9 C207.6,468.1 207.7,468.7 208.2,467.7 C208.8,466.7 210.2,463.9 210.4,462.9 C210.6,461.9 209.2,462.3 209.6,461.6 C209.9,460.9 211.5,459.9 212.4,458.6 C213.4,457.3 214.5,455.2 215.1,454.0 C215.8,452.8 215.6,451.9 216.2,451.1 C216.8,450.4 218.5,450.1 218.8,449.4 C219.1,448.6 217.9,447.5 218.1,446.5 C218.3,445.5 219.8,444.4 220.2,443.5 C220.6,442.6 216.7,441.2 220.5,441.2 Z" fill="#a6b6b7" opacity="1" filter="url(#tb)"/>
<path d="M221.2,441.1 C225.2,440.5 236.0,441.2 243.8,441.4 C251.6,441.7 260.1,442.4 268.1,442.4 C276.1,442.3 287.7,440.8 291.8,441.2 C295.9,441.5 292.4,443.1 292.8,444.3 C293.2,445.6 293.8,447.4 294.4,448.5 C294.9,449.7 295.3,450.2 296.0,451.2 C296.6,452.2 297.8,453.7 298.2,454.8 C298.6,455.9 297.9,457.0 298.3,457.8 C298.6,458.6 299.9,458.5 300.4,459.5 C300.9,460.5 301.2,462.8 301.4,463.8 C301.5,464.9 301.0,464.8 301.4,465.7 C301.8,466.5 303.4,467.9 303.6,469.0 C303.9,470.1 302.6,471.0 302.9,472.4 C303.2,473.8 304.8,475.8 305.4,477.3 C306.0,478.8 306.2,480.0 306.3,481.5 C306.5,482.9 306.2,484.6 306.2,485.8 C306.3,487.1 306.1,487.7 306.4,488.9 C306.6,490.1 307.6,491.8 307.8,492.9 C307.9,494.1 307.6,495.0 307.4,495.8 C307.2,496.6 306.9,496.8 306.6,497.7 C306.2,498.5 305.6,500.0 305.2,501.1 C304.7,502.1 304.2,502.9 303.9,503.9 C303.5,504.9 303.1,505.9 302.9,506.9 C302.8,507.9 303.2,509.1 303.0,510.0 C302.7,511.0 301.9,511.5 301.5,512.6 C301.0,513.8 300.5,515.9 300.3,517.0 C300.1,518.1 300.6,518.3 300.1,519.2 C299.6,520.1 298.0,521.5 297.2,522.4 C296.4,523.3 295.6,523.7 295.3,524.6 C294.9,525.6 295.5,527.2 295.0,528.1 C294.5,529.0 292.9,529.4 292.1,530.1 C291.4,530.8 291.5,531.8 290.8,532.2 C290.0,532.6 288.6,532.3 287.6,532.7 C286.6,533.1 285.8,533.8 284.8,534.6 C283.8,535.4 282.4,536.9 281.7,537.4 C280.9,537.9 280.7,537.3 280.1,537.6 C279.4,538.0 278.3,538.9 277.7,539.5 C277.0,540.1 277.0,540.7 276.3,541.3 C275.5,541.8 277.2,542.3 273.0,542.5 C268.9,542.7 258.6,542.3 251.2,542.5 C243.8,542.7 236.3,543.8 228.8,543.8 C221.3,543.8 209.7,543.1 206.0,542.4 C202.3,541.8 207.0,541.0 206.7,539.9 C206.5,538.8 204.9,536.8 204.4,535.8 C204.0,534.8 203.9,534.7 204.0,533.9 C204.1,533.0 205.1,531.6 204.9,530.5 C204.7,529.5 203.0,528.5 202.9,527.6 C202.8,526.6 204.2,525.9 204.3,525.0 C204.4,524.0 203.9,523.0 203.3,521.7 C202.6,520.5 200.8,518.9 200.4,517.5 C200.0,516.1 200.9,514.6 200.8,513.3 C200.6,511.9 199.8,510.9 199.4,509.6 C199.1,508.2 198.7,506.5 198.6,505.3 C198.5,504.1 198.5,503.9 198.8,502.4 C199.1,500.9 200.3,498.0 200.7,496.2 C201.0,494.3 200.6,492.5 200.9,491.1 C201.2,489.7 202.5,488.9 202.7,487.6 C203.0,486.3 202.2,484.8 202.5,483.3 C202.7,481.7 203.6,479.7 204.1,478.4 C204.5,477.1 204.9,476.3 205.3,475.3 C205.7,474.3 206.3,473.4 206.3,472.3 C206.4,471.3 205.7,469.8 205.7,469.0 C205.8,468.1 206.0,468.1 206.7,467.3 C207.4,466.4 209.3,465.4 209.9,464.1 C210.5,462.9 209.8,460.6 210.2,459.6 C210.7,458.7 212.4,459.3 212.9,458.5 C213.3,457.7 212.8,455.7 213.2,454.6 C213.6,453.6 214.2,453.4 215.1,452.3 C216.0,451.2 217.8,449.0 218.4,448.1 C219.1,447.1 218.7,447.1 218.9,446.6 C219.0,446.1 219.0,445.9 219.4,445.0 C219.8,444.1 217.1,441.6 221.2,441.1 Z" fill="#96a8a9" stroke="#5f7273" stroke-width="0.9" opacity="1"/>
<path d="M215.0,544.0 C206.0,540.8 215.0,530.5 216.5,524.9 C218.0,519.3 221.1,514.5 223.8,510.3 C226.5,506.2 229.2,502.4 232.6,500.0 C236.0,497.6 240.4,496.1 244.3,495.6 C248.2,495.1 252.6,496.1 256.0,497.1 C259.4,498.1 262.3,498.8 264.7,501.5 C267.1,504.2 269.4,508.8 270.6,513.2 C271.8,517.6 272.0,522.7 272.0,527.8 C272.0,532.9 280.1,541.3 270.6,544.0 C261.1,546.7 224.0,547.2 215.0,544.0 Z" fill="#a9b9ba" stroke="#4a5b5c" stroke-width="0.8" opacity="1"/>
<path d="M206.0,470.0 C207.3,468.7 211.0,464.0 214.0,462.0 C217.0,460.0 220.3,458.2 224.0,458.0 C227.7,457.8 232.7,460.0 236.0,461.0 C239.3,462.0 242.7,463.5 244.0,464.0" fill="none" stroke="#6a7c7d" stroke-width="0.7" opacity="1"/>
<path d="M262.0,455.0 C263.7,455.8 268.5,457.5 272.0,460.0 C275.5,462.5 280.0,466.3 283.0,470.0 C286.0,473.7 288.0,477.8 290.0,482.0 C292.0,486.2 294.2,492.8 295.0,495.0" fill="none" stroke="#6a7c7d" stroke-width="0.7" opacity="1"/>
<path d="M250.0,482.0 C252.0,482.3 257.8,483.3 262.0,484.0 C266.2,484.7 271.0,485.0 275.0,486.0 C279.0,487.0 284.2,489.3 286.0,490.0" fill="none" stroke="#6a7c7d" stroke-width="0.7" opacity="1"/>
<ellipse cx="238.4" cy="454.7" rx="5.5" ry="5" fill="#b3c2c3" stroke="#5f7172" stroke-width="0.9" opacity="1" transform="rotate(0 238.4 454.7)"/>
<ellipse cx="288.1" cy="470.8" rx="3.5" ry="3.2" fill="#b8c6c7" stroke="#404f50" stroke-width="1.0" opacity="1" transform="rotate(0 288.1 470.8)"/>
<ellipse cx="209.2" cy="491.2" rx="3.5" ry="3" fill="#8fa1a2" stroke="#5a6c6d" stroke-width="0.8" opacity="1" transform="rotate(0 209.2 491.2)"/>
<path d="M212.0,478.0 C213.7,477.3 218.7,476.0 222.0,474.0 C225.3,472.0 229.0,468.0 232.0,466.0 C235.0,464.0 238.7,462.7 240.0,462.0" fill="none" stroke="#5d6f70" stroke-width="0.6" opacity="1"/>
<path d="M268.0,452.0 C269.3,453.0 273.8,455.7 276.0,458.0 C278.2,460.3 279.7,463.0 281.0,466.0 C282.3,469.0 283.5,474.3 284.0,476.0" fill="none" stroke="#5d6f70" stroke-width="0.6" opacity="1"/>
<path d="M272.0,452.0 C273.3,452.8 277.5,455.0 280.0,457.0 C282.5,459.0 285.2,461.2 287.0,464.0 C288.8,466.8 290.3,472.3 291.0,474.0" fill="none" stroke="#5d6f70" stroke-width="0.6" opacity="1"/>
<path d="M206.0,500.0 C207.3,499.5 211.3,498.3 214.0,497.0 C216.7,495.7 219.0,493.8 222.0,492.0 C225.0,490.2 230.3,487.0 232.0,486.0" fill="none" stroke="#5d6f70" stroke-width="0.6" opacity="1"/>
<path d="M276.0,500.0 C277.5,500.8 282.3,503.0 285.0,505.0 C287.7,507.0 290.2,509.5 292.0,512.0 C293.8,514.5 295.3,518.7 296.0,520.0" fill="none" stroke="#5d6f70" stroke-width="0.6" opacity="1"/>
<path d="M225.0,530.0 C225.5,528.3 227.8,523.0 228.0,520.0 C228.2,517.0 226.3,513.3 226.0,512.0" fill="none" stroke="#3f4f50" stroke-width="0.7" opacity="1"/>
<ellipse cx="245.7" cy="470.8" rx="3.8" ry="3.42" fill="#26302f" opacity="0.92" transform="rotate(0 245.7 470.8)"/>
<ellipse cx="246.1" cy="471.1" rx="1.71" ry="1.52" fill="#7f9091" opacity="0.9" transform="rotate(0 246.1 471.1)"/>
<ellipse cx="254.5" cy="469.9" rx="3.4" ry="3.06" fill="#26302f" opacity="0.92" transform="rotate(0 254.5 469.9)"/>
<ellipse cx="254.9" cy="470.2" rx="1.53" ry="1.36" fill="#7f9091" opacity="0.9" transform="rotate(0 254.9 470.2)"/>
<ellipse cx="237" cy="476.6" rx="3.3" ry="2.9699999999999998" fill="#26302f" opacity="0.92" transform="rotate(0 237 476.6)"/>
<ellipse cx="237.4" cy="476.90000000000003" rx="1.4849999999999999" ry="1.32" fill="#7f9091" opacity="0.9" transform="rotate(0 237.4 476.90000000000003)"/>
<ellipse cx="226.7" cy="489.2" rx="2.0" ry="1.8" fill="#26302f" opacity="0.92" transform="rotate(0 226.7 489.2)"/>
<ellipse cx="227.1" cy="489.5" rx="0.9" ry="0.8" fill="#7f9091" opacity="0.9" transform="rotate(0 227.1 489.5)"/>
<ellipse cx="219.4" cy="497.1" rx="2.6" ry="2.3400000000000003" fill="#26302f" opacity="0.92" transform="rotate(0 219.4 497.1)"/>
<ellipse cx="219.8" cy="497.40000000000003" rx="1.1700000000000002" ry="1.04" fill="#7f9091" opacity="0.9" transform="rotate(0 219.8 497.40000000000003)"/>
<ellipse cx="247.2" cy="488.3" rx="2.2" ry="1.9800000000000002" fill="#26302f" opacity="0.92" transform="rotate(0 247.2 488.3)"/>
<ellipse cx="247.6" cy="488.6" rx="0.9900000000000001" ry="0.8800000000000001" fill="#7f9091" opacity="0.9" transform="rotate(0 247.6 488.6)"/>
<ellipse cx="259.7" cy="489.2" rx="2.6" ry="2.3400000000000003" fill="#26302f" opacity="0.92" transform="rotate(0 259.7 489.2)"/>
<ellipse cx="260.09999999999997" cy="489.5" rx="1.1700000000000002" ry="1.04" fill="#7f9091" opacity="0.9" transform="rotate(0 260.09999999999997 489.5)"/>
<ellipse cx="259.7" cy="496.2" rx="2.1" ry="1.8900000000000001" fill="#26302f" opacity="0.92" transform="rotate(0 259.7 496.2)"/>
<ellipse cx="260.09999999999997" cy="496.5" rx="0.9450000000000001" ry="0.8400000000000001" fill="#7f9091" opacity="0.9" transform="rotate(0 260.09999999999997 496.5)"/>
<ellipse cx="272.9" cy="507.3" rx="3.0" ry="2.7" fill="#26302f" opacity="0.92" transform="rotate(0 272.9 507.3)"/>
<ellipse cx="273.29999999999995" cy="507.6" rx="1.35" ry="1.2000000000000002" fill="#7f9091" opacity="0.9" transform="rotate(0 273.29999999999995 507.6)"/>
<ellipse cx="286.6" cy="495.6" rx="2.6" ry="2.3400000000000003" fill="#26302f" opacity="0.92" transform="rotate(0 286.6 495.6)"/>
<ellipse cx="287.0" cy="495.90000000000003" rx="1.1700000000000002" ry="1.04" fill="#7f9091" opacity="0.9" transform="rotate(0 287.0 495.90000000000003)"/>
<ellipse cx="296.9" cy="488.3" rx="3.3" ry="2.9699999999999998" fill="#26302f" opacity="0.92" transform="rotate(0 296.9 488.3)"/>
<ellipse cx="297.29999999999995" cy="488.6" rx="1.4849999999999999" ry="1.32" fill="#7f9091" opacity="0.9" transform="rotate(0 297.29999999999995 488.6)"/>
<ellipse cx="232" cy="471" rx="2.2" ry="1.9800000000000002" fill="#26302f" opacity="0.92" transform="rotate(0 232 471)"/>
<ellipse cx="232.4" cy="471.3" rx="0.9900000000000001" ry="0.8800000000000001" fill="#7f9091" opacity="0.9" transform="rotate(0 232.4 471.3)"/>
<ellipse cx="268" cy="470" rx="2.0" ry="1.8" fill="#26302f" opacity="0.92" transform="rotate(0 268 470)"/>
<ellipse cx="268.4" cy="470.3" rx="0.9" ry="0.8" fill="#7f9091" opacity="0.9" transform="rotate(0 268.4 470.3)"/>
<ellipse cx="216" cy="482" rx="1.8" ry="1.62" fill="#26302f" opacity="0.92" transform="rotate(0 216 482)"/>
<ellipse cx="216.4" cy="482.3" rx="0.81" ry="0.7200000000000001" fill="#7f9091" opacity="0.9" transform="rotate(0 216.4 482.3)"/>
<ellipse cx="280" cy="500" rx="1.6" ry="1.4400000000000002" fill="#26302f" opacity="0.92" transform="rotate(0 280 500)"/>
<ellipse cx="280.4" cy="500.3" rx="0.7200000000000001" ry="0.6400000000000001" fill="#7f9091" opacity="0.9" transform="rotate(0 280.4 500.3)"/>
<rect x="267.50" y="477.90" width="5.20" height="1.80" fill="#ff2030"/>
<path d="M277,468.4 L281,468.4 L281,467.2 L283,469.3 L281,471.4 L281,470.2 L277,470.2Z" fill="#fff" transform="rotate(180 280 469.3)"/>
<rect x="287.00" y="487.40" width="5.20" height="1.80" fill="#5080ff"/>
<rect x="178" y="443.5" width="150.5" height="97.5" filter="url(#grain2)" opacity="0.12" style="mix-blend-mode:overlay"/>
<rect x="178" y="443.5" width="150.5" height="97.5" filter="url(#grain)" opacity="0.32" style="mix-blend-mode:overlay"/>
</g>
<text x="299.8" y="532.29" font-size="8.36" text-anchor="start" fill="#111" textLength="20.5" lengthAdjust="spacingAndGlyphs"  stroke="#111" stroke-width="0.12">500nm</text>
<rect x="308.60" y="533.30" width="5.80" height="1.30" fill="#fff"/>
<g clip-path="url(#cF3)" style="isolation:isolate">
<rect x="20.00" y="547.00" width="151.00" height="98.00" fill="#98abac"/>
<path d="M19.0,546.0 C21.8,536.3 32.5,543.7 36.0,546.0 C39.5,548.3 38.7,555.2 40.0,560.0 C41.3,564.8 44.0,570.0 44.0,575.0 C44.0,580.0 42.3,585.8 40.0,590.0 C37.7,594.2 33.5,597.7 30.0,600.0 C26.5,602.3 20.8,613.0 19.0,604.0 C17.2,595.0 16.2,555.7 19.0,546.0 Z" fill="#94a7a8" opacity="1" filter="url(#tb2)"/>
<path d="M35.0,546.0 C35.5,548.3 36.8,554.7 38.0,560.0 C39.2,565.3 41.8,573.0 42.0,578.0 C42.2,583.0 40.5,586.7 39.0,590.0 C37.5,593.3 35.5,595.8 33.0,598.0 C30.5,600.2 25.5,602.2 24.0,603.0" fill="none" stroke="#5e7071" stroke-width="0.8" opacity="1"/>
<path d="M125.7,559.1 C126.7,560.7 127.5,563.0 127.6,564.8 C127.6,566.6 126.8,568.6 126.0,569.9 C125.2,571.3 123.9,572.0 122.7,573.1 C121.6,574.2 120.7,576.0 119.3,576.3 C118.0,576.6 116.1,575.3 114.5,574.8 C112.9,574.2 110.9,574.1 109.7,573.0 C108.5,571.8 108.0,569.4 107.3,567.7 C106.6,565.9 105.7,564.3 105.4,562.5 C105.1,560.7 104.8,558.2 105.5,556.9 C106.3,555.6 108.4,555.5 109.7,554.7 C110.9,553.9 111.7,552.5 113.0,552.1 C114.3,551.7 116.1,551.9 117.5,552.4 C118.9,552.9 120.2,554.2 121.6,555.3 C123.0,556.4 124.7,557.5 125.7,559.1 Z" fill="#74888a" stroke="#3a4a4b" stroke-width="1.0" opacity="1"/>
<path d="M113.3,557.3 C113.5,558.4 113.4,562.3 114.4,564.3 C115.5,566.4 118.7,568.7 119.5,569.5" fill="none" stroke="#a9b9b9" stroke-width="2.00" stroke-linecap="round" opacity="0.55"/>
<path d="M112.6,557.6 C112.9,558.7 113.4,562.3 114.2,564.4 C114.9,566.6 116.6,569.6 117.1,570.7" fill="none" stroke="#a9b9b9" stroke-width="2.00" stroke-linecap="round" opacity="0.55"/>
<path d="M109.0,560.7 C109.4,561.5 111.1,563.8 111.6,565.7 C112.1,567.5 112.0,570.7 112.0,571.7" fill="none" stroke="#a9b9b9" stroke-width="2.00" stroke-linecap="round" opacity="0.55"/>
<path d="M101.2,602.7 C100.7,604.3 99.7,606.2 98.8,607.4 C97.8,608.6 96.6,609.0 95.5,609.8 C94.4,610.7 93.1,612.5 92.1,612.5 C91.2,612.6 90.5,611.2 89.8,610.3 C89.2,609.5 88.6,608.6 88.2,607.4 C87.7,606.3 87.1,604.9 87.3,603.4 C87.4,601.8 88.4,600.0 89.0,598.3 C89.6,596.5 89.9,594.2 90.7,592.9 C91.6,591.6 93.1,591.0 94.3,590.4 C95.4,589.9 96.5,589.3 97.4,589.4 C98.3,589.6 98.8,590.7 99.6,591.3 C100.4,591.8 101.9,591.6 102.3,592.7 C102.6,593.8 101.8,596.1 101.7,597.8 C101.5,599.5 101.7,601.1 101.2,602.7 Z" fill="#74888a" stroke="#3a4a4b" stroke-width="1.0" opacity="1"/>
<path d="M98.9,595.0 C98.3,596.0 96.5,598.7 95.5,600.6 C94.6,602.6 93.7,605.6 93.3,606.6" fill="none" stroke="#a9b9b9" stroke-width="1.30" stroke-linecap="round" opacity="0.55"/>
<path d="M96.0,594.0 C95.7,595.0 95.3,598.3 94.6,600.3 C93.9,602.3 92.3,605.1 91.8,606.1" fill="none" stroke="#a9b9b9" stroke-width="1.30" stroke-linecap="round" opacity="0.55"/>
<path d="M99.3,596.0 C99.1,597.0 98.6,599.8 98.1,601.6 C97.7,603.4 96.8,606.1 96.6,607.0" fill="none" stroke="#a9b9b9" stroke-width="1.30" stroke-linecap="round" opacity="0.55"/>
<path d="M97.5,594.5 C97.1,595.5 95.7,598.4 94.9,600.4 C94.1,602.4 92.9,605.4 92.5,606.4" fill="none" stroke="#a9b9b9" stroke-width="1.30" stroke-linecap="round" opacity="0.55"/>
<path d="M129.8,618.1 C128.5,620.0 126.8,621.4 125.3,622.9 C123.7,624.3 122.3,625.7 120.7,626.8 C119.0,627.8 116.9,629.2 115.5,629.2 C114.0,629.2 112.6,628.1 112.0,626.7 C111.4,625.3 112.0,622.8 111.8,621.0 C111.5,619.2 110.2,617.8 110.5,615.7 C110.8,613.7 112.1,610.6 113.5,608.7 C114.9,606.9 117.2,606.2 118.8,604.6 C120.5,603.1 121.9,600.3 123.4,599.5 C125.0,598.6 126.7,599.0 127.9,599.5 C129.1,600.0 129.8,601.3 130.6,602.4 C131.4,603.4 132.2,604.4 132.6,605.9 C133.0,607.5 133.3,609.5 132.9,611.6 C132.4,613.6 131.1,616.2 129.8,618.1 Z" fill="#74888a" stroke="#3a4a4b" stroke-width="1.0" opacity="1"/>
<path d="M128.9,607.8 C128.2,609.1 126.4,612.9 124.9,615.3 C123.4,617.7 120.6,620.9 119.8,622.0" fill="none" stroke="#a9b9b9" stroke-width="1.80" stroke-linecap="round" opacity="0.55"/>
<path d="M122.5,605.4 C121.8,606.4 119.5,609.3 118.2,611.4 C116.9,613.5 115.3,616.8 114.8,617.9" fill="none" stroke="#a9b9b9" stroke-width="1.80" stroke-linecap="round" opacity="0.55"/>
<path d="M80.0,616.3 C80.1,617.4 80.5,618.5 80.0,619.5 C79.6,620.5 78.4,621.5 77.4,622.3 C76.4,623.1 75.2,623.8 73.9,624.5 C72.6,625.2 70.7,626.4 69.4,626.3 C68.0,626.3 67.1,624.6 65.7,624.1 C64.3,623.6 62.1,623.9 61.1,623.2 C60.1,622.5 59.6,621.0 59.7,619.9 C59.8,618.8 61.0,617.6 61.7,616.6 C62.4,615.6 63.0,614.8 63.9,613.9 C64.7,613.0 65.6,611.8 66.9,611.1 C68.2,610.4 70.1,609.6 71.6,609.7 C73.1,609.7 74.5,610.7 75.8,611.2 C77.2,611.8 79.0,612.0 79.7,612.9 C80.4,613.7 80.0,615.2 80.0,616.3 Z" fill="#74888a" stroke="#3a4a4b" stroke-width="1.0" opacity="1"/>
<path d="M62.9,615.9 C62.9,616.5 62.8,618.2 63.1,619.3 C63.5,620.4 64.6,621.9 64.8,622.4" fill="none" stroke="#a9b9b9" stroke-width="1.50" stroke-linecap="round" opacity="0.55"/>
<path d="M74.0,613.4 C74.0,614.1 73.8,616.1 74.1,617.4 C74.5,618.6 75.7,620.4 76.0,621.0" fill="none" stroke="#a9b9b9" stroke-width="1.50" stroke-linecap="round" opacity="0.55"/>
<path d="M68.2,614.2 C68.4,614.9 69.2,616.8 69.7,618.1 C70.3,619.4 71.1,621.4 71.3,622.0" fill="none" stroke="#a9b9b9" stroke-width="1.50" stroke-linecap="round" opacity="0.55"/>
<path d="M86.1,628.7 C86.5,629.3 86.4,630.3 86.0,631.2 C85.7,632.2 85.1,633.3 84.0,634.2 C82.9,635.2 81.1,636.3 79.4,637.0 C77.8,637.6 75.8,637.9 74.2,638.1 C72.6,638.4 71.3,638.6 69.8,638.7 C68.2,638.9 66.1,639.3 65.0,639.0 C63.9,638.7 63.3,637.9 63.1,637.1 C62.9,636.3 63.3,635.3 63.7,634.4 C64.0,633.4 64.3,632.2 65.5,631.3 C66.6,630.4 68.9,629.5 70.6,628.8 C72.3,628.1 74.0,627.7 75.6,627.3 C77.2,626.9 79.0,626.6 80.3,626.6 C81.6,626.7 82.3,627.2 83.2,627.6 C84.2,628.0 85.6,628.1 86.1,628.7 Z" fill="#74888a" stroke="#3a4a4b" stroke-width="1.0" opacity="1"/>
<path d="M73.0,630.4 C73.2,630.9 74.2,632.0 74.2,633.0 C74.3,634.0 73.5,635.9 73.3,636.4" fill="none" stroke="#a9b9b9" stroke-width="1.06" stroke-linecap="round" opacity="0.55"/>
<path d="M74.1,630.0 C74.7,630.3 76.6,631.1 77.5,631.9 C78.3,632.6 78.9,633.9 79.1,634.3" fill="none" stroke="#a9b9b9" stroke-width="1.06" stroke-linecap="round" opacity="0.55"/>
<path d="M73.2,630.4 C73.0,631.0 71.9,632.9 71.9,633.9 C71.9,634.9 73.1,636.0 73.3,636.4" fill="none" stroke="#a9b9b9" stroke-width="1.06" stroke-linecap="round" opacity="0.55"/>
<path d="M69.6,632.1 C69.5,632.6 68.8,634.1 68.9,635.0 C69.0,635.8 69.9,636.8 70.1,637.2" fill="none" stroke="#a9b9b9" stroke-width="1.06" stroke-linecap="round" opacity="0.55"/>
<path d="M59.2,584.2 C59.2,585.3 59.8,586.8 59.5,587.7 C59.2,588.6 58.1,589.0 57.4,589.7 C56.8,590.4 56.2,591.5 55.5,591.8 C54.8,592.0 54.0,591.3 53.2,591.1 C52.4,590.8 51.4,591.0 50.8,590.4 C50.1,589.8 49.6,588.6 49.4,587.5 C49.2,586.5 49.6,585.3 49.6,584.2 C49.5,583.1 48.8,581.7 49.0,580.6 C49.2,579.6 50.0,578.5 50.7,577.9 C51.4,577.4 52.4,577.3 53.1,577.2 C53.9,577.0 54.7,576.8 55.5,576.9 C56.3,577.1 57.1,577.5 57.8,578.1 C58.4,578.8 59.1,579.8 59.4,580.8 C59.6,581.8 59.1,583.1 59.2,584.2 Z" fill="#74888a" stroke="#3a4a4b" stroke-width="1.0" opacity="1"/>
<path d="M52.3,580.3 C52.4,580.9 53.2,582.9 53.2,584.2 C53.2,585.5 52.4,587.5 52.2,588.1" fill="none" stroke="#a9b9b9" stroke-width="1.06" stroke-linecap="round" opacity="0.55"/>
<path d="M52.3,580.3 C52.4,581.0 53.1,582.9 53.1,584.2 C53.1,585.5 52.5,587.4 52.4,588.1" fill="none" stroke="#a9b9b9" stroke-width="1.06" stroke-linecap="round" opacity="0.55"/>
<path d="M63.7,604.8 C63.6,605.7 63.0,606.6 62.5,607.4 C61.9,608.1 61.1,608.8 60.3,609.3 C59.4,609.8 58.4,610.3 57.4,610.4 C56.4,610.6 55.2,610.5 54.2,610.2 C53.3,610.0 52.3,609.6 51.5,609.1 C50.6,608.6 49.7,608.1 49.1,607.4 C48.5,606.7 48.1,605.7 48.0,604.8 C48.0,603.9 48.1,602.8 48.7,602.1 C49.2,601.3 50.4,600.9 51.3,600.3 C52.2,599.7 53.0,598.5 54.0,598.4 C55.0,598.3 56.1,599.3 57.3,599.5 C58.5,599.7 60.0,599.2 61.0,599.6 C61.9,600.1 62.5,601.2 62.9,602.1 C63.4,602.9 63.7,603.9 63.7,604.8 Z" fill="#74888a" stroke="#3a4a4b" stroke-width="1.0" opacity="1"/>
<path d="M56.7,601.6 C56.5,602.1 55.8,603.7 55.7,604.8 C55.6,605.9 56.1,607.5 56.2,608.0" fill="none" stroke="#a9b9b9" stroke-width="1.18" stroke-linecap="round" opacity="0.55"/>
<path d="M59.4,601.8 C59.2,602.3 58.1,603.8 58.1,604.8 C58.1,605.8 59.2,607.3 59.4,607.8" fill="none" stroke="#a9b9b9" stroke-width="1.18" stroke-linecap="round" opacity="0.55"/>
<path d="M52.5,602.1 C52.2,602.6 51.1,603.9 51.0,604.8 C50.9,605.7 51.8,607.0 52.0,607.5" fill="none" stroke="#a9b9b9" stroke-width="1.18" stroke-linecap="round" opacity="0.55"/>
<path d="M57.4,601.6 C57.4,602.1 57.3,603.7 57.1,604.8 C57.0,605.9 56.7,607.5 56.6,608.0" fill="none" stroke="#a9b9b9" stroke-width="1.18" stroke-linecap="round" opacity="0.55"/>
<path d="M79.3,564.9 C79.0,565.8 78.8,566.6 78.3,567.4 C77.8,568.2 77.1,569.2 76.1,569.5 C75.2,569.9 73.7,569.7 72.6,569.5 C71.5,569.4 70.5,569.0 69.5,568.6 C68.6,568.3 67.7,567.8 66.8,567.2 C66.0,566.6 64.7,565.9 64.3,565.1 C63.9,564.3 64.3,563.2 64.4,562.3 C64.6,561.3 64.7,560.2 65.3,559.6 C66.0,558.9 67.4,558.8 68.4,558.4 C69.4,558.1 70.3,557.5 71.3,557.4 C72.4,557.2 74.0,557.2 74.9,557.7 C75.8,558.1 76.1,559.5 76.9,560.2 C77.6,560.9 79.1,561.4 79.5,562.1 C79.9,562.9 79.5,564.0 79.3,564.9 Z" fill="#74888a" stroke="#3a4a4b" stroke-width="1.0" opacity="1"/>
<path d="M73.0,560.5 C73.0,561.0 73.0,562.7 72.9,563.8 C72.7,564.8 72.3,566.4 72.2,566.9" fill="none" stroke="#a9b9b9" stroke-width="1.18" stroke-linecap="round" opacity="0.55"/>
<path d="M75.8,561.3 C75.7,561.7 74.9,563.1 74.8,564.1 C74.7,565.1 75.2,566.7 75.3,567.2" fill="none" stroke="#a9b9b9" stroke-width="1.18" stroke-linecap="round" opacity="0.55"/>
<path d="M97.1,578.4 C97.0,579.3 97.0,580.3 96.5,581.1 C96.1,581.8 95.1,582.6 94.2,583.0 C93.3,583.4 92.1,583.4 91.1,583.6 C90.1,583.8 88.9,584.1 88.0,584.0 C87.1,583.8 86.3,583.0 85.5,582.5 C84.6,582.1 83.2,581.7 82.7,581.0 C82.2,580.4 82.5,579.3 82.4,578.4 C82.4,577.5 81.9,576.4 82.3,575.6 C82.7,574.8 84.0,574.3 84.9,573.7 C85.8,573.2 86.8,572.5 87.9,572.3 C88.9,572.2 90.1,572.6 91.2,572.9 C92.3,573.1 93.3,573.3 94.3,573.7 C95.2,574.2 96.4,574.8 96.9,575.6 C97.3,576.4 97.1,577.5 97.1,578.4 Z" fill="#74888a" stroke="#3a4a4b" stroke-width="1.0" opacity="1"/>
<path d="M92.8,575.5 C92.8,575.9 92.9,577.4 92.7,578.4 C92.5,579.4 91.8,580.9 91.6,581.3" fill="none" stroke="#a9b9b9" stroke-width="1.18" stroke-linecap="round" opacity="0.55"/>
<path d="M92.9,575.7 C93.1,576.1 94.0,577.5 94.2,578.4 C94.3,579.3 93.8,580.7 93.8,581.1" fill="none" stroke="#a9b9b9" stroke-width="1.18" stroke-linecap="round" opacity="0.55"/>
<path d="M87.6,575.3 C87.6,575.8 87.4,577.4 87.4,578.4 C87.5,579.4 87.8,581.0 87.8,581.5" fill="none" stroke="#a9b9b9" stroke-width="1.18" stroke-linecap="round" opacity="0.55"/>
<path d="M160.5,578.4 C160.7,579.2 160.6,580.3 160.1,580.9 C159.7,581.6 158.5,581.9 157.7,582.3 C156.9,582.6 156.3,583.0 155.5,583.2 C154.7,583.3 153.9,583.2 153.1,583.1 C152.3,583.0 151.2,583.0 150.5,582.6 C149.8,582.2 149.3,581.4 148.9,580.7 C148.5,580.0 148.1,579.2 148.1,578.4 C148.1,577.6 148.3,576.7 148.8,576.0 C149.2,575.4 150.1,574.9 150.8,574.4 C151.5,574.0 152.2,573.8 153.0,573.5 C153.9,573.2 154.9,572.6 155.7,572.7 C156.6,572.9 157.5,573.6 158.1,574.2 C158.6,574.8 158.6,575.7 159.0,576.4 C159.4,577.1 160.3,577.6 160.5,578.4 Z" fill="#74888a" stroke="#3a4a4b" stroke-width="1.0" opacity="1"/>
<path d="M154.9,575.5 C155.1,576.0 155.9,577.4 155.8,578.4 C155.8,579.4 154.9,580.8 154.8,581.3" fill="none" stroke="#a9b9b9" stroke-width="1.06" stroke-linecap="round" opacity="0.55"/>
<path d="M153.7,575.5 C153.8,576.0 153.7,577.4 153.9,578.4 C154.1,579.4 154.8,580.8 155.0,581.3" fill="none" stroke="#a9b9b9" stroke-width="1.06" stroke-linecap="round" opacity="0.55"/>
<path d="M103.3,548.8 C103.2,549.5 102.9,550.2 102.4,550.9 C102.0,551.6 101.5,552.5 100.5,553.0 C99.6,553.6 98.0,553.9 96.7,554.3 C95.4,554.7 93.9,555.4 92.7,555.4 C91.5,555.4 90.7,554.7 89.5,554.5 C88.3,554.2 86.6,554.4 85.7,554.0 C84.8,553.6 84.3,552.8 84.3,552.1 C84.2,551.4 84.8,550.6 85.4,549.9 C86.0,549.2 86.8,548.4 87.8,547.9 C88.8,547.4 90.2,547.2 91.5,546.8 C92.7,546.4 94.0,545.7 95.3,545.5 C96.6,545.3 98.1,545.4 99.4,545.6 C100.6,545.8 101.9,546.1 102.5,546.7 C103.2,547.2 103.3,548.1 103.3,548.8 Z" fill="#74888a" stroke="#3a4a4b" stroke-width="1.0" opacity="1"/>
<path d="M89.4,549.1 C89.2,549.5 87.6,550.8 87.8,551.5 C88.0,552.2 90.2,552.8 90.7,553.1" fill="none" stroke="#a9b9b9" stroke-width="0.90" stroke-linecap="round" opacity="0.55"/>
<path d="M98.4,547.4 C98.2,547.8 97.1,549.1 97.3,549.8 C97.5,550.5 99.1,551.4 99.5,551.7" fill="none" stroke="#a9b9b9" stroke-width="0.90" stroke-linecap="round" opacity="0.55"/>
<path d="M88.1,549.3 C88.2,549.6 88.5,550.6 88.8,551.3 C89.1,552.0 89.7,553.0 89.8,553.3" fill="none" stroke="#a9b9b9" stroke-width="0.90" stroke-linecap="round" opacity="0.55"/>
<path d="M90.3,548.8 C90.2,549.2 90.3,550.3 90.1,551.1 C90.0,551.9 89.5,553.1 89.4,553.5" fill="none" stroke="#a9b9b9" stroke-width="0.90" stroke-linecap="round" opacity="0.55"/>
<path d="M58.4,562.2 C58.3,563.1 58.2,563.8 58.0,564.6 C57.7,565.3 57.4,566.0 56.9,566.6 C56.5,567.2 56.0,568.2 55.4,568.4 C54.8,568.6 54.0,567.9 53.4,567.6 C52.7,567.4 52.2,567.1 51.6,566.6 C51.1,566.2 50.2,565.8 49.9,565.0 C49.7,564.3 50.2,563.1 50.2,562.2 C50.2,561.3 50.0,560.4 50.2,559.6 C50.4,558.7 50.8,557.6 51.3,557.2 C51.8,556.7 52.7,556.7 53.3,556.6 C54.0,556.6 54.6,556.7 55.2,556.9 C55.8,557.2 56.2,557.6 56.8,558.0 C57.4,558.4 58.4,558.7 58.7,559.4 C58.9,560.1 58.5,561.3 58.4,562.2 Z" fill="#74888a" stroke="#3a4a4b" stroke-width="1.0" opacity="1"/>
<path d="M54.0,558.9 C54.0,559.5 54.2,561.1 54.2,562.2 C54.2,563.3 54.1,564.9 54.1,565.5" fill="none" stroke="#a9b9b9" stroke-width="0.90" stroke-linecap="round" opacity="0.55"/>
<path d="M55.3,558.9 C55.3,559.5 55.4,561.1 55.4,562.2 C55.3,563.3 55.1,564.9 55.0,565.5" fill="none" stroke="#a9b9b9" stroke-width="0.90" stroke-linecap="round" opacity="0.55"/>
<path d="M54.2,558.9 C54.2,559.5 54.3,561.1 54.3,562.2 C54.3,563.3 54.0,564.9 54.0,565.5" fill="none" stroke="#a9b9b9" stroke-width="0.90" stroke-linecap="round" opacity="0.55"/>
<path d="M52.3,559.4 C52.3,559.8 52.4,561.3 52.4,562.2 C52.4,563.1 52.3,564.6 52.3,565.0" fill="none" stroke="#a9b9b9" stroke-width="0.90" stroke-linecap="round" opacity="0.55"/>
<path d="M143.6,557.8 C143.5,558.2 143.8,558.7 143.6,559.1 C143.4,559.5 142.8,559.8 142.3,560.1 C141.8,560.3 141.2,560.5 140.6,560.7 C139.9,560.8 139.1,561.1 138.5,561.0 C137.9,560.9 137.3,560.4 136.9,560.1 C136.4,559.8 136.1,559.4 135.9,559.0 C135.6,558.6 135.4,558.2 135.4,557.8 C135.4,557.4 135.8,557.1 136.0,556.7 C136.2,556.2 136.2,555.6 136.6,555.3 C137.1,555.0 137.9,554.9 138.6,554.9 C139.3,554.8 139.9,554.8 140.6,554.9 C141.2,555.0 141.9,555.2 142.4,555.4 C143.0,555.7 143.7,556.0 143.9,556.4 C144.1,556.8 143.6,557.4 143.6,557.8 Z" fill="#74888a" stroke="#3a4a4b" stroke-width="1.0" opacity="1"/>
<path d="M139.4,556.2 C139.4,556.4 139.6,557.3 139.4,557.8 C139.2,558.3 138.6,559.2 138.4,559.4" fill="none" stroke="#a9b9b9" stroke-width="0.60" stroke-linecap="round" opacity="0.55"/>
<path d="M138.2,556.3 C138.3,556.5 138.6,557.3 138.4,557.8 C138.3,558.3 137.7,559.1 137.5,559.3" fill="none" stroke="#a9b9b9" stroke-width="0.60" stroke-linecap="round" opacity="0.55"/>
<path d="M139.1,556.2 C139.1,556.4 139.1,557.3 139.1,557.8 C139.2,558.3 139.4,559.2 139.5,559.4" fill="none" stroke="#a9b9b9" stroke-width="0.60" stroke-linecap="round" opacity="0.55"/>
<path d="M139.3,556.2 C139.2,556.4 139.1,557.3 139.0,557.8 C138.9,558.3 138.9,559.2 138.8,559.4" fill="none" stroke="#a9b9b9" stroke-width="0.60" stroke-linecap="round" opacity="0.55"/>
<path d="M171.3,549.0 C171.2,549.4 171.2,549.8 170.9,550.2 C170.7,550.6 170.4,551.1 169.8,551.4 C169.3,551.7 168.3,551.9 167.4,552.0 C166.5,552.1 165.5,552.1 164.6,552.0 C163.8,551.9 163.2,551.5 162.5,551.2 C161.7,551.0 160.3,550.8 160.0,550.4 C159.7,550.1 160.7,549.5 160.7,549.0 C160.8,548.5 160.1,548.0 160.3,547.6 C160.5,547.2 161.3,546.8 162.0,546.5 C162.7,546.2 163.7,546.1 164.6,545.9 C165.5,545.8 166.6,545.6 167.5,545.8 C168.3,545.9 169.1,546.3 169.8,546.6 C170.4,546.9 171.2,547.3 171.4,547.7 C171.7,548.1 171.4,548.6 171.3,549.0 Z" fill="#74888a" stroke="#3a4a4b" stroke-width="1.0" opacity="1"/>
<path d="M168.2,547.4 C168.2,547.7 168.2,548.5 168.0,549.0 C167.8,549.5 167.2,550.3 167.1,550.6" fill="none" stroke="#a9b9b9" stroke-width="0.60" stroke-linecap="round" opacity="0.55"/>
<path d="M167.5,547.5 C167.6,547.7 168.0,548.5 168.1,549.0 C168.1,549.5 167.9,550.3 167.8,550.5" fill="none" stroke="#a9b9b9" stroke-width="0.60" stroke-linecap="round" opacity="0.55"/>
<path d="M164.0,547.5 C163.9,547.8 163.8,548.5 163.7,549.0 C163.7,549.5 163.6,550.2 163.6,550.5" fill="none" stroke="#a9b9b9" stroke-width="0.60" stroke-linecap="round" opacity="0.55"/>
<path d="M169.5,547.5 C169.3,547.8 168.4,548.5 168.4,549.0 C168.4,549.5 169.2,550.2 169.4,550.5" fill="none" stroke="#a9b9b9" stroke-width="0.60" stroke-linecap="round" opacity="0.55"/>
<path d="M73.3,601.9 C73.3,602.6 73.5,603.4 73.2,603.9 C72.9,604.5 72.1,604.8 71.6,605.2 C71.1,605.6 70.6,606.0 70.0,606.2 C69.4,606.4 68.6,606.6 68.0,606.4 C67.3,606.3 66.8,605.8 66.2,605.4 C65.7,604.9 65.1,604.5 64.9,603.9 C64.6,603.3 64.7,602.5 64.7,601.9 C64.7,601.3 64.9,600.7 65.1,600.0 C65.3,599.4 65.5,598.4 66.0,598.1 C66.5,597.7 67.4,598.2 68.1,598.0 C68.8,597.9 69.5,597.2 70.0,597.3 C70.6,597.4 71.0,598.3 71.5,598.7 C72.1,599.1 73.1,599.3 73.4,599.8 C73.7,600.3 73.4,601.2 73.3,601.9 Z" fill="#74888a" stroke="#3a4a4b" stroke-width="1.0" opacity="1"/>
<path d="M67.1,599.6 C67.1,600.0 67.0,601.1 67.1,601.9 C67.2,602.7 67.6,603.8 67.6,604.2" fill="none" stroke="#a9b9b9" stroke-width="0.90" stroke-linecap="round" opacity="0.55"/>
<path d="M67.4,599.5 C67.3,599.9 67.1,601.1 67.2,601.9 C67.4,602.7 68.0,603.9 68.1,604.3" fill="none" stroke="#a9b9b9" stroke-width="0.90" stroke-linecap="round" opacity="0.55"/>
<path d="M70.7,599.7 C70.6,600.1 70.3,601.2 70.4,601.9 C70.5,602.6 71.1,603.7 71.3,604.1" fill="none" stroke="#a9b9b9" stroke-width="0.90" stroke-linecap="round" opacity="0.55"/>
<path d="M145.1,643.0 C145.2,643.5 145.8,644.0 145.6,644.4 C145.4,644.9 144.5,645.4 143.7,645.6 C142.9,645.8 141.7,645.5 140.8,645.6 C139.9,645.7 138.9,646.3 138.1,646.2 C137.3,646.2 136.5,645.7 135.9,645.3 C135.3,645.0 134.9,644.6 134.5,644.2 C134.0,643.8 133.3,643.4 133.2,643.0 C133.1,642.6 133.2,641.9 133.7,641.6 C134.3,641.2 135.5,641.1 136.3,640.9 C137.0,640.7 137.6,640.4 138.4,640.3 C139.1,640.2 140.0,640.2 140.9,640.3 C141.7,640.3 142.5,640.5 143.2,640.7 C143.9,641.0 144.6,641.3 145.0,641.7 C145.3,642.1 145.0,642.5 145.1,643.0 Z" fill="#74888a" stroke="#3a4a4b" stroke-width="1.0" opacity="1"/>
<path d="M141.7,641.5 C141.7,641.7 141.5,642.5 141.5,643.0 C141.4,643.5 141.6,644.3 141.6,644.5" fill="none" stroke="#a9b9b9" stroke-width="0.60" stroke-linecap="round" opacity="0.55"/>
<path d="M140.7,641.4 C140.7,641.7 140.6,642.5 140.5,643.0 C140.4,643.5 140.2,644.3 140.1,644.6" fill="none" stroke="#a9b9b9" stroke-width="0.60" stroke-linecap="round" opacity="0.55"/>
<path d="M143.3,641.7 C143.3,641.9 143.6,642.6 143.6,643.0 C143.7,643.4 143.5,644.1 143.5,644.3" fill="none" stroke="#a9b9b9" stroke-width="0.60" stroke-linecap="round" opacity="0.55"/>
<path d="M142.4,641.6 C142.4,641.8 142.0,642.5 142.0,643.0 C142.1,643.5 142.6,644.2 142.8,644.4" fill="none" stroke="#a9b9b9" stroke-width="0.60" stroke-linecap="round" opacity="0.55"/>
<path d="M39.5,640.0 C39.6,640.4 39.3,641.0 38.9,641.4 C38.4,641.8 37.5,642.1 36.8,642.4 C36.0,642.7 35.3,643.0 34.4,643.1 C33.5,643.3 32.4,643.3 31.5,643.2 C30.7,643.1 29.7,642.8 29.1,642.4 C28.6,642.1 28.5,641.6 28.2,641.2 C27.9,640.7 27.3,640.4 27.2,640.0 C27.1,639.6 27.6,639.2 27.9,638.8 C28.2,638.3 28.3,637.8 28.9,637.5 C29.5,637.1 30.7,636.9 31.6,636.9 C32.5,636.8 33.5,636.9 34.3,637.1 C35.2,637.2 36.1,637.4 36.8,637.6 C37.4,637.9 37.7,638.4 38.1,638.8 C38.6,639.2 39.3,639.6 39.5,640.0 Z" fill="#74888a" stroke="#3a4a4b" stroke-width="1.0" opacity="1"/>
<path d="M33.9,638.4 C34.0,638.6 34.1,639.5 34.1,640.0 C34.2,640.5 34.2,641.4 34.3,641.6" fill="none" stroke="#a9b9b9" stroke-width="0.60" stroke-linecap="round" opacity="0.55"/>
<path d="M29.6,638.5 C29.5,638.8 29.2,639.5 29.5,640.0 C29.8,640.5 30.9,641.2 31.2,641.5" fill="none" stroke="#a9b9b9" stroke-width="0.60" stroke-linecap="round" opacity="0.55"/>
<path d="M31.3,638.4 C31.4,638.6 31.6,639.5 31.8,640.0 C32.0,640.5 32.5,641.4 32.6,641.6" fill="none" stroke="#a9b9b9" stroke-width="0.60" stroke-linecap="round" opacity="0.55"/>
<path d="M154.7,627.7 C154.4,628.1 154.1,628.5 153.6,628.8 C153.1,629.0 152.4,629.1 151.7,629.0 C151.0,628.9 150.2,628.4 149.5,628.0 C148.9,627.7 148.3,627.3 147.7,626.8 C147.2,626.4 146.5,625.9 146.2,625.5 C145.9,625.0 146.0,624.5 145.8,624.0 C145.7,623.4 145.1,622.7 145.3,622.3 C145.5,621.9 146.4,621.9 146.9,621.8 C147.5,621.7 148.0,621.7 148.6,621.7 C149.2,621.8 149.8,622.0 150.5,622.2 C151.1,622.4 152.1,622.4 152.7,622.8 C153.2,623.2 153.4,624.0 153.8,624.5 C154.2,625.1 154.8,625.7 154.9,626.2 C155.0,626.7 154.9,627.3 154.7,627.7 Z" fill="#74888a" stroke="#3a4a4b" stroke-width="1.0" opacity="1"/>
<path d="M149.3,622.7 C149.3,623.1 149.5,624.1 149.5,624.7 C149.4,625.3 149.0,626.0 148.9,626.2" fill="none" stroke="#a9b9b9" stroke-width="0.60" stroke-linecap="round" opacity="0.55"/>
<path d="M151.2,623.8 C151.2,624.1 151.2,625.0 151.0,625.6 C150.8,626.1 150.1,626.6 149.9,626.8" fill="none" stroke="#a9b9b9" stroke-width="0.60" stroke-linecap="round" opacity="0.55"/>
<rect x="97.00" y="620.20" width="5.20" height="1.80" fill="#ff2030"/>
<rect x="20" y="547" width="151" height="98" filter="url(#grain2)" opacity="0.3" style="mix-blend-mode:overlay"/>
<rect x="20" y="547" width="151" height="98" filter="url(#grain)" opacity="0.35" style="mix-blend-mode:overlay"/>
</g>
<text x="149" y="636.99" font-size="8.36" text-anchor="start" fill="#111" textLength="19" lengthAdjust="spacingAndGlyphs"  stroke="#111" stroke-width="0.12">500nm</text>
<rect x="157.50" y="638.80" width="5.50" height="1.30" fill="#fff"/>
<g clip-path="url(#cF4)" style="isolation:isolate">
<rect x="178.00" y="547.00" width="150.50" height="98.00" fill="#a4b6b7"/>
<ellipse cx="240.2" cy="600.4" rx="26.5" ry="25" fill="#9aacad" stroke="#4d5e5f" stroke-width="1.1" opacity="1" transform="rotate(0 240.2 600.4)"/>
<path d="M222.0,590.0 C223.0,585.5 228.0,583.8 232.0,583.0 C236.0,582.2 242.3,583.2 246.0,585.0 C249.7,586.8 253.0,590.3 254.0,594.0 C255.0,597.7 254.3,603.7 252.0,607.0 C249.7,610.3 244.3,613.5 240.0,614.0 C235.7,614.5 229.0,614.0 226.0,610.0 C223.0,606.0 221.0,594.5 222.0,590.0 Z" fill="#93a6a7" stroke="#66797a" stroke-width="0.7" opacity="1"/>
<path d="M325.9,562.2 C325.9,563.6 324.4,565.2 323.6,566.5 C322.8,567.8 322.2,569.0 321.2,570.1 C320.2,571.3 319.0,572.8 317.6,573.3 C316.2,573.9 314.2,573.8 312.8,573.3 C311.4,572.7 310.4,571.2 309.3,570.0 C308.3,568.9 307.4,567.9 306.6,566.6 C305.8,565.3 304.6,563.7 304.5,562.2 C304.5,560.7 305.3,558.9 306.1,557.5 C306.8,556.2 307.9,554.7 309.1,554.0 C310.3,553.3 311.9,553.8 313.3,553.3 C314.7,552.9 316.1,551.4 317.5,551.5 C318.8,551.6 320.4,552.8 321.4,553.9 C322.4,555.0 322.9,556.5 323.6,557.9 C324.4,559.3 325.9,560.8 325.9,562.2 Z" fill="#8da0a1" stroke="#4a5b5c" stroke-width="1.0" opacity="1"/>
<path d="M316.1,556.6 C316.3,557.6 316.7,560.3 316.8,562.2 C317.0,564.1 316.9,566.8 316.9,567.8" fill="none" stroke="#a8b8b9" stroke-width="1.94" stroke-linecap="round" opacity="0.55"/>
<path d="M320.0,557.6 C320.1,558.4 320.0,560.7 320.2,562.2 C320.4,563.7 320.9,566.0 321.0,566.8" fill="none" stroke="#a8b8b9" stroke-width="1.94" stroke-linecap="round" opacity="0.55"/>
<path d="M311.3,557.0 C311.2,557.9 311.1,560.5 311.0,562.2 C310.8,563.9 310.6,566.5 310.6,567.4" fill="none" stroke="#a8b8b9" stroke-width="1.94" stroke-linecap="round" opacity="0.55"/>
<path d="M292.0,559.2 C292.0,560.7 292.5,562.2 291.9,563.6 C291.3,565.0 290.1,566.7 288.6,567.5 C287.0,568.2 284.6,567.7 282.6,568.0 C280.7,568.4 278.7,569.7 276.9,569.5 C275.2,569.3 273.5,567.9 271.9,567.0 C270.3,566.1 268.2,565.2 267.3,563.9 C266.3,562.6 265.7,560.7 266.0,559.2 C266.2,557.7 267.8,556.4 268.7,555.0 C269.6,553.7 270.2,552.0 271.6,551.1 C273.0,550.1 275.2,549.5 277.0,549.2 C278.9,549.0 281.0,549.1 282.9,549.4 C284.8,549.7 286.9,550.2 288.4,551.1 C290.0,551.9 291.6,553.3 292.2,554.7 C292.8,556.0 292.1,557.7 292.0,559.2 Z" fill="#8da0a1" stroke="#4a5b5c" stroke-width="1.0" opacity="1"/>
<path d="M283.7,554.1 C283.6,555.0 283.0,557.5 283.3,559.2 C283.7,560.9 285.5,563.4 285.9,564.3" fill="none" stroke="#a8b8b9" stroke-width="2.00" stroke-linecap="round" opacity="0.55"/>
<path d="M277.1,554.1 C277.1,554.9 277.0,557.5 276.9,559.2 C276.8,560.9 276.4,563.5 276.4,564.3" fill="none" stroke="#a8b8b9" stroke-width="2.00" stroke-linecap="round" opacity="0.55"/>
<path d="M300.2,581.7 C300.4,582.9 299.8,584.3 299.2,585.6 C298.7,587.0 298.3,588.7 296.8,589.8 C295.4,590.9 292.7,591.5 290.6,592.2 C288.4,592.8 286.1,593.6 284.0,593.6 C281.9,593.7 280.0,593.0 278.0,592.5 C276.1,592.0 273.5,591.8 272.3,590.8 C271.1,589.9 271.2,588.2 270.9,586.8 C270.5,585.4 269.4,583.8 270.2,582.5 C271.0,581.2 273.9,580.1 275.7,579.1 C277.5,578.0 279.1,576.9 281.0,576.2 C283.0,575.6 285.3,575.3 287.5,575.1 C289.7,574.9 292.5,574.6 294.2,575.2 C296.0,575.7 296.9,577.2 297.9,578.3 C298.9,579.4 300.0,580.4 300.2,581.7 Z" fill="#8da0a1" stroke="#4a5b5c" stroke-width="1.0" opacity="1"/>
<path d="M286.8,579.0 C286.7,579.9 285.8,582.5 286.2,584.1 C286.6,585.7 288.6,587.9 289.1,588.6" fill="none" stroke="#a8b8b9" stroke-width="1.80" stroke-linecap="round" opacity="0.55"/>
<path d="M280.6,580.2 C281.2,580.9 283.8,582.9 284.1,584.5 C284.3,586.1 282.3,588.9 281.9,589.8" fill="none" stroke="#a8b8b9" stroke-width="1.80" stroke-linecap="round" opacity="0.55"/>
<path d="M320.2,580.7 C320.4,581.8 321.7,582.6 321.3,583.8 C320.9,584.9 319.1,586.4 317.6,587.7 C316.1,589.0 314.3,590.4 312.3,591.4 C310.3,592.4 307.6,593.4 305.5,593.7 C303.4,594.1 301.5,593.7 299.8,593.6 C298.1,593.4 296.4,593.3 295.2,592.8 C294.1,592.3 293.6,591.5 292.9,590.6 C292.3,589.7 290.8,588.8 291.1,587.7 C291.5,586.5 293.7,585.0 295.1,583.7 C296.6,582.3 298.0,580.6 300.0,579.6 C302.1,578.6 304.9,578.4 307.3,577.9 C309.6,577.3 312.1,576.5 314.2,576.3 C316.3,576.2 319.1,576.3 320.1,577.0 C321.1,577.7 320.0,579.5 320.2,580.7 Z" fill="#8da0a1" stroke="#4a5b5c" stroke-width="1.0" opacity="1"/>
<path d="M314.3,579.0 C314.2,579.7 313.7,581.8 313.7,583.0 C313.8,584.3 314.4,586.0 314.6,586.6" fill="none" stroke="#a8b8b9" stroke-width="1.48" stroke-linecap="round" opacity="0.55"/>
<path d="M302.0,583.1 C302.2,583.8 302.6,585.7 303.2,586.9 C303.7,588.1 304.9,589.7 305.3,590.3" fill="none" stroke="#a8b8b9" stroke-width="1.48" stroke-linecap="round" opacity="0.55"/>
<path d="M305.7,581.6 C305.7,582.3 305.6,584.6 305.8,585.9 C306.1,587.3 307.0,589.1 307.2,589.7" fill="none" stroke="#a8b8b9" stroke-width="1.48" stroke-linecap="round" opacity="0.55"/>
<path d="M304.2,582.2 C304.2,582.9 303.6,585.3 304.3,586.5 C305.0,587.7 307.6,588.9 308.2,589.4" fill="none" stroke="#a8b8b9" stroke-width="1.48" stroke-linecap="round" opacity="0.55"/>
<path d="M214.2,629.8 C214.3,631.5 215.8,633.5 215.4,635.0 C214.9,636.6 213.0,638.1 211.5,639.0 C209.9,639.8 207.9,639.8 206.1,640.2 C204.3,640.5 202.4,641.3 200.7,641.0 C199.0,640.7 197.3,639.6 195.9,638.6 C194.4,637.5 193.0,636.3 192.1,634.8 C191.1,633.4 190.0,631.4 190.2,629.8 C190.4,628.2 192.3,626.7 193.2,625.3 C194.2,623.8 194.7,622.1 196.0,621.2 C197.3,620.3 199.4,620.1 201.0,619.9 C202.7,619.7 204.3,619.8 205.9,620.1 C207.5,620.3 209.2,620.7 210.7,621.5 C212.3,622.2 214.8,623.2 215.3,624.6 C215.9,626.0 214.2,628.1 214.2,629.8 Z" fill="#8da0a1" stroke="#4a5b5c" stroke-width="1.0" opacity="1"/>
<path d="M204.9,623.8 C205.0,624.8 205.3,627.8 205.3,629.8 C205.3,631.8 205.0,634.8 204.9,635.8" fill="none" stroke="#a8b8b9" stroke-width="2.20" stroke-linecap="round" opacity="0.55"/>
<path d="M197.5,624.5 C197.8,625.4 199.4,628.0 199.3,629.8 C199.2,631.6 197.2,634.2 196.8,635.1" fill="none" stroke="#a8b8b9" stroke-width="2.20" stroke-linecap="round" opacity="0.55"/>
<path d="M198.4,624.3 C198.6,625.2 199.1,628.0 199.4,629.8 C199.6,631.6 199.8,634.4 199.9,635.3" fill="none" stroke="#a8b8b9" stroke-width="2.20" stroke-linecap="round" opacity="0.55"/>
<path d="M196.2,624.6 C196.2,625.5 196.1,628.1 196.4,629.8 C196.7,631.5 197.7,634.1 198.0,635.0" fill="none" stroke="#a8b8b9" stroke-width="2.20" stroke-linecap="round" opacity="0.55"/>
<path d="M206.7,596.3 C207.5,597.1 208.6,597.8 208.5,599.1 C208.4,600.3 207.1,602.2 205.9,603.8 C204.8,605.4 203.3,607.3 201.6,608.7 C199.9,610.0 197.6,610.9 195.7,611.9 C193.8,612.9 191.9,613.9 190.0,614.6 C188.2,615.3 185.8,616.1 184.4,616.0 C182.9,615.9 181.5,615.2 181.2,614.2 C180.8,613.2 181.8,611.3 182.3,609.9 C182.9,608.4 183.6,607.2 184.3,605.7 C185.1,604.1 185.3,601.9 186.9,600.6 C188.4,599.2 191.4,598.7 193.5,597.7 C195.6,596.7 197.7,595.0 199.4,594.5 C201.1,594.0 202.6,594.4 203.8,594.7 C205.0,595.0 205.9,595.6 206.7,596.3 Z" fill="#8da0a1" stroke="#4a5b5c" stroke-width="1.0" opacity="1"/>
<path d="M185.6,606.5 C186.6,606.6 190.8,605.9 191.6,606.9 C192.3,608.0 190.2,611.7 190.0,612.7" fill="none" stroke="#a8b8b9" stroke-width="1.48" stroke-linecap="round" opacity="0.55"/>
<path d="M185.9,606.3 C186.6,606.5 189.5,606.8 190.6,607.6 C191.6,608.4 192.0,610.5 192.2,611.1" fill="none" stroke="#a8b8b9" stroke-width="1.48" stroke-linecap="round" opacity="0.55"/>
<path d="M284.7,613.0 C285.1,614.1 282.9,616.5 282.4,618.1 C281.9,619.7 282.8,621.0 281.8,622.6 C280.7,624.3 278.3,626.5 276.1,627.9 C273.9,629.2 271.2,629.9 268.8,630.9 C266.4,631.9 263.8,633.5 261.8,633.8 C259.9,634.1 258.8,633.1 257.0,632.9 C255.2,632.6 252.0,633.2 251.1,632.4 C250.3,631.5 250.8,629.3 251.7,627.6 C252.6,625.9 255.3,624.1 256.7,622.4 C258.1,620.6 258.3,618.5 260.1,617.0 C261.9,615.5 265.2,614.3 267.5,613.5 C269.8,612.7 271.9,612.6 274.0,612.2 C276.1,611.9 278.3,611.4 280.1,611.5 C281.9,611.6 284.3,611.9 284.7,613.0 Z" fill="#8da0a1" stroke="#4a5b5c" stroke-width="1.0" opacity="1"/>
<path d="M269.6,616.5 C269.7,617.3 269.5,620.0 270.3,621.3 C271.1,622.6 273.9,623.6 274.6,624.0" fill="none" stroke="#a8b8b9" stroke-width="1.70" stroke-linecap="round" opacity="0.55"/>
<path d="M258.5,623.5 C258.5,624.3 257.4,627.2 258.1,628.3 C258.8,629.5 261.9,630.0 262.6,630.3" fill="none" stroke="#a8b8b9" stroke-width="1.70" stroke-linecap="round" opacity="0.55"/>
<path d="M267.6,617.5 C268.3,618.0 270.5,619.4 271.9,620.4 C273.3,621.3 275.2,622.9 275.8,623.4" fill="none" stroke="#a8b8b9" stroke-width="1.70" stroke-linecap="round" opacity="0.55"/>
<path d="M269.9,616.5 C270.1,617.2 270.5,619.5 271.6,620.5 C272.6,621.6 275.5,622.5 276.2,622.9" fill="none" stroke="#a8b8b9" stroke-width="1.70" stroke-linecap="round" opacity="0.55"/>
<path d="M183.2,641.0 C183.3,641.8 183.4,642.8 183.0,643.4 C182.6,644.0 181.5,644.2 180.8,644.5 C180.2,644.9 179.7,645.4 179.1,645.7 C178.4,646.0 177.5,646.4 176.8,646.3 C176.0,646.3 175.2,645.7 174.7,645.2 C174.1,644.7 173.9,643.9 173.5,643.2 C173.1,642.5 172.4,641.7 172.4,641.0 C172.4,640.3 172.8,639.3 173.3,638.7 C173.8,638.1 174.5,637.8 175.2,637.4 C175.8,637.1 176.3,636.9 177.0,636.6 C177.7,636.4 178.4,636.2 179.1,636.2 C179.8,636.2 180.8,636.3 181.4,636.7 C182.0,637.1 182.4,638.0 182.7,638.7 C183.0,639.4 183.2,640.2 183.2,641.0 Z" fill="#8da0a1" stroke="#4a5b5c" stroke-width="1.0" opacity="1"/>
<path d="M176.5,638.3 C176.5,638.8 176.5,640.1 176.5,641.0 C176.5,641.9 176.6,643.2 176.6,643.7" fill="none" stroke="#a8b8b9" stroke-width="1.00" stroke-linecap="round" opacity="0.55"/>
<path d="M175.0,638.8 C175.1,639.2 175.5,640.3 175.5,641.0 C175.5,641.7 175.1,642.8 175.0,643.2" fill="none" stroke="#a8b8b9" stroke-width="1.00" stroke-linecap="round" opacity="0.55"/>
<path d="M179.0,638.3 C178.9,638.8 178.5,640.1 178.4,641.0 C178.3,641.9 178.3,643.2 178.3,643.7" fill="none" stroke="#a8b8b9" stroke-width="1.00" stroke-linecap="round" opacity="0.55"/>
<path d="M176.1,638.6 C176.0,639.0 175.1,640.2 175.0,641.0 C175.0,641.8 175.5,643.0 175.6,643.4" fill="none" stroke="#a8b8b9" stroke-width="1.00" stroke-linecap="round" opacity="0.55"/>
<path d="M323.0,573.0 C320.8,576.7 314.3,588.5 310.0,595.0 C305.7,601.5 301.2,606.5 297.0,612.0 C292.8,617.5 289.0,622.5 285.0,628.0 C281.0,633.5 275.0,642.2 273.0,645.0" fill="none" stroke="#33423f" stroke-width="1.3" opacity="1"/>
<path d="M262.0,547.0 C261.3,549.2 260.3,555.8 258.0,560.0 C255.7,564.2 252.3,569.0 248.0,572.0 C243.7,575.0 237.7,575.3 232.0,578.0 C226.3,580.7 218.5,584.3 214.0,588.0 C209.5,591.7 206.5,598.0 205.0,600.0" fill="none" stroke="#3e4d4b" stroke-width="1.0" opacity="1"/>
<path d="M178.0,613.0 C180.0,611.7 185.7,607.5 190.0,605.0 C194.3,602.5 199.7,600.2 204.0,598.0 C208.3,595.8 214.0,593.0 216.0,592.0" fill="none" stroke="#4a5a5b" stroke-width="0.9" opacity="1"/>
<ellipse cx="225" cy="618" rx="1.6" ry="1.4" fill="#3a4849" opacity="1" transform="rotate(0 225 618)"/>
<ellipse cx="230" cy="621" rx="1.6" ry="1.4" fill="#3a4849" opacity="1" transform="rotate(0 230 621)"/>
<ellipse cx="236" cy="623" rx="1.6" ry="1.4" fill="#3a4849" opacity="1" transform="rotate(0 236 623)"/>
<ellipse cx="242" cy="622" rx="1.6" ry="1.4" fill="#3a4849" opacity="1" transform="rotate(0 242 622)"/>
<ellipse cx="228" cy="613" rx="1.6" ry="1.4" fill="#3a4849" opacity="1" transform="rotate(0 228 613)"/>
<rect x="213.50" y="587.60" width="5.20" height="1.80" fill="#ff2030"/>
<rect x="178" y="547" width="150.5" height="98" filter="url(#grain2)" opacity="0.25" style="mix-blend-mode:overlay"/>
<rect x="178" y="547" width="150.5" height="98" filter="url(#grain)" opacity="0.35" style="mix-blend-mode:overlay"/>
</g>
<text x="299.8" y="635.79" font-size="8.36" text-anchor="start" fill="#111" textLength="20.5" lengthAdjust="spacingAndGlyphs"  stroke="#111" stroke-width="0.12">100nm</text>
<rect x="309.00" y="637.50" width="5.80" height="1.30" fill="#fff"/>
<text x="27.7" y="440.69" font-size="8.36" text-anchor="start" fill="#231f20" textLength="25.3" lengthAdjust="spacingAndGlyphs"  stroke="#231f20" stroke-width="0.12">sgRNA:</text>
<text x="93.4" y="440.69" font-size="8.36" text-anchor="middle" fill="#231f20" textLength="24.4" lengthAdjust="spacingAndGlyphs"  stroke="#231f20" stroke-width="0.12">Control</text>
<text x="251" y="440.69" font-size="8.36" text-anchor="middle" fill="#231f20" textLength="37.3" lengthAdjust="spacingAndGlyphs"  stroke="#231f20" stroke-width="0.12">CYB561A3</text>
</svg></body></html>
